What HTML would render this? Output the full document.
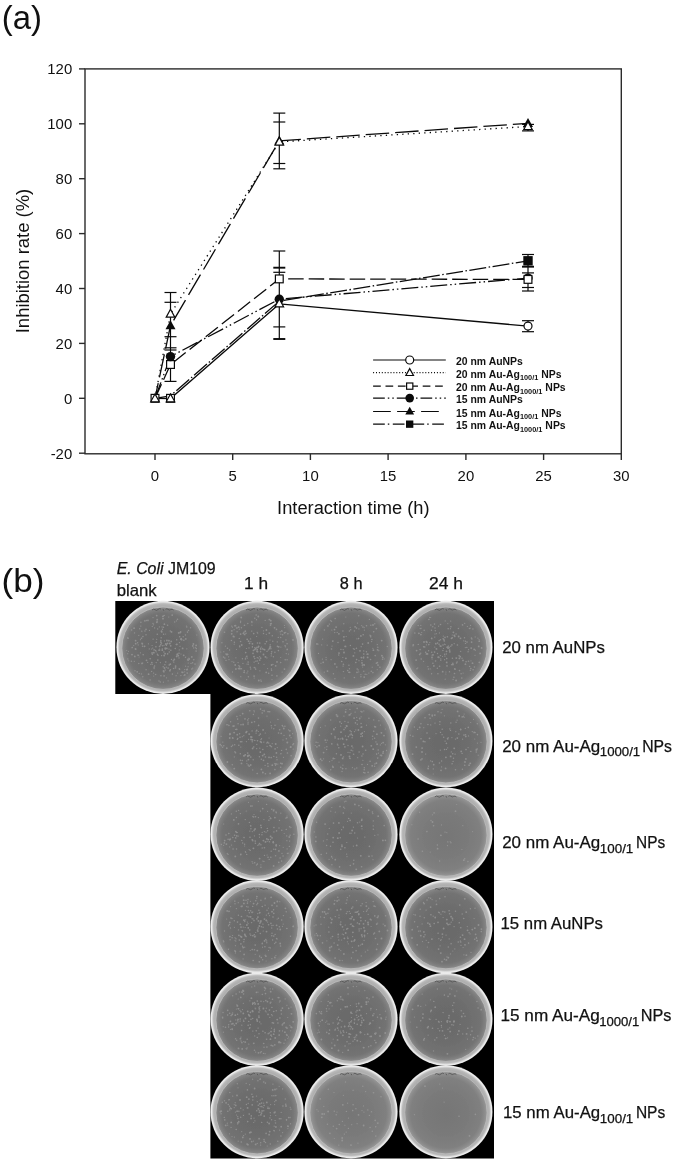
<!DOCTYPE html>
<html lang="en"><head><meta charset="utf-8"><title>Figure</title>
<style>html,body{margin:0;padding:0;background:#fff}svg{display:block}</style></head>
<body>
<svg width="675" height="1163" viewBox="0 0 675 1163">
<defs>
<radialGradient id="agar" cx="50%" cy="50%" r="50%" fx="50%" fy="52%"><stop offset="0" stop-color="#696969"/><stop offset="0.55" stop-color="#6d6d6d"/><stop offset="0.8544" stop-color="#737373"/><stop offset="0.9272" stop-color="#7d7d7d"/><stop offset="0.9757" stop-color="#878787"/><stop offset="1.0000" stop-color="#8a8a8a"/></radialGradient>
<radialGradient id="agarL" cx="50%" cy="50%" r="50%" fx="50%" fy="52%"><stop offset="0" stop-color="#767676"/><stop offset="0.55" stop-color="#7a7a7a"/><stop offset="0.8544" stop-color="#808080"/><stop offset="0.9272" stop-color="#8a8a8a"/><stop offset="0.9757" stop-color="#949494"/><stop offset="1.0000" stop-color="#979797"/></radialGradient>
<radialGradient id="rim" cx="50%" cy="50%" r="50%"><stop offset="0" stop-color="#a6a6a6"/><stop offset="0.8391" stop-color="#a8a8a8"/><stop offset="0.9013" stop-color="#b0b0b0"/><stop offset="0.9356" stop-color="#b9b9b9"/><stop offset="0.9571" stop-color="#d4d4d4"/><stop offset="0.9785" stop-color="#eeeeee"/><stop offset="1.0000" stop-color="#e4e4e4"/></radialGradient>
<filter id="bl" x="-5%" y="-5%" width="110%" height="110%"><feGaussianBlur stdDeviation="0.45"/></filter>
<filter id="bl2" x="-5%" y="-5%" width="110%" height="110%"><feGaussianBlur stdDeviation="0.65"/></filter>
</defs>
<rect width="675" height="1163" fill="#fff"/>
<text x="1.7" y="28.7" font-family="Liberation Sans, DejaVu Sans, sans-serif" font-size="32.5" textLength="40.2" lengthAdjust="spacingAndGlyphs" fill="#111">(a)</text>
<text x="1.6" y="592.3" font-family="Liberation Sans, DejaVu Sans, sans-serif" font-size="33.5" textLength="43" lengthAdjust="spacingAndGlyphs" fill="#111">(b)</text>
<rect x="85.0" y="68.9" width="536.3" height="384.9" fill="none" stroke="#2b2b2b" stroke-width="1.4"/>
<line x1="79.0" y1="453.2" x2="85.0" y2="453.2" stroke="#2b2b2b" stroke-width="1.4"/>
<text x="72.2" y="458.5" font-family="Liberation Sans, DejaVu Sans, sans-serif" font-size="14.9" text-anchor="end" fill="#111">-20</text>
<line x1="79.0" y1="398.3" x2="85.0" y2="398.3" stroke="#2b2b2b" stroke-width="1.4"/>
<text x="72.2" y="403.6" font-family="Liberation Sans, DejaVu Sans, sans-serif" font-size="14.9" text-anchor="end" fill="#111">0</text>
<line x1="79.0" y1="343.4" x2="85.0" y2="343.4" stroke="#2b2b2b" stroke-width="1.4"/>
<text x="72.2" y="348.7" font-family="Liberation Sans, DejaVu Sans, sans-serif" font-size="14.9" text-anchor="end" fill="#111">20</text>
<line x1="79.0" y1="288.5" x2="85.0" y2="288.5" stroke="#2b2b2b" stroke-width="1.4"/>
<text x="72.2" y="293.8" font-family="Liberation Sans, DejaVu Sans, sans-serif" font-size="14.9" text-anchor="end" fill="#111">40</text>
<line x1="79.0" y1="233.6" x2="85.0" y2="233.6" stroke="#2b2b2b" stroke-width="1.4"/>
<text x="72.2" y="238.9" font-family="Liberation Sans, DejaVu Sans, sans-serif" font-size="14.9" text-anchor="end" fill="#111">60</text>
<line x1="79.0" y1="178.7" x2="85.0" y2="178.7" stroke="#2b2b2b" stroke-width="1.4"/>
<text x="72.2" y="184.0" font-family="Liberation Sans, DejaVu Sans, sans-serif" font-size="14.9" text-anchor="end" fill="#111">80</text>
<line x1="79.0" y1="123.8" x2="85.0" y2="123.8" stroke="#2b2b2b" stroke-width="1.4"/>
<text x="72.2" y="129.1" font-family="Liberation Sans, DejaVu Sans, sans-serif" font-size="14.9" text-anchor="end" fill="#111">100</text>
<line x1="79.0" y1="68.9" x2="85.0" y2="68.9" stroke="#2b2b2b" stroke-width="1.4"/>
<text x="72.2" y="74.2" font-family="Liberation Sans, DejaVu Sans, sans-serif" font-size="14.9" text-anchor="end" fill="#111">120</text>
<line x1="155.0" y1="453.8" x2="155.0" y2="460.0" stroke="#2b2b2b" stroke-width="1.4"/>
<text x="155.0" y="480.5" font-family="Liberation Sans, DejaVu Sans, sans-serif" font-size="14.9" text-anchor="middle" fill="#111">0</text>
<line x1="232.7" y1="453.8" x2="232.7" y2="460.0" stroke="#2b2b2b" stroke-width="1.4"/>
<text x="232.7" y="480.5" font-family="Liberation Sans, DejaVu Sans, sans-serif" font-size="14.9" text-anchor="middle" fill="#111">5</text>
<line x1="310.4" y1="453.8" x2="310.4" y2="460.0" stroke="#2b2b2b" stroke-width="1.4"/>
<text x="310.4" y="480.5" font-family="Liberation Sans, DejaVu Sans, sans-serif" font-size="14.9" text-anchor="middle" fill="#111">10</text>
<line x1="388.1" y1="453.8" x2="388.1" y2="460.0" stroke="#2b2b2b" stroke-width="1.4"/>
<text x="388.1" y="480.5" font-family="Liberation Sans, DejaVu Sans, sans-serif" font-size="14.9" text-anchor="middle" fill="#111">15</text>
<line x1="465.9" y1="453.8" x2="465.9" y2="460.0" stroke="#2b2b2b" stroke-width="1.4"/>
<text x="465.9" y="480.5" font-family="Liberation Sans, DejaVu Sans, sans-serif" font-size="14.9" text-anchor="middle" fill="#111">20</text>
<line x1="543.6" y1="453.8" x2="543.6" y2="460.0" stroke="#2b2b2b" stroke-width="1.4"/>
<text x="543.6" y="480.5" font-family="Liberation Sans, DejaVu Sans, sans-serif" font-size="14.9" text-anchor="middle" fill="#111">25</text>
<line x1="621.3" y1="453.8" x2="621.3" y2="460.0" stroke="#2b2b2b" stroke-width="1.4"/>
<text x="621.3" y="480.5" font-family="Liberation Sans, DejaVu Sans, sans-serif" font-size="14.9" text-anchor="middle" fill="#111">30</text>
<text x="353.3" y="514" font-family="Liberation Sans, DejaVu Sans, sans-serif" font-size="18" text-anchor="middle" textLength="152.5" lengthAdjust="spacingAndGlyphs" fill="#111">Interaction time (h)</text>
<text transform="translate(29.4,261) rotate(-90)" font-family="Liberation Sans, DejaVu Sans, sans-serif" font-size="18" text-anchor="middle" textLength="144.5" lengthAdjust="spacingAndGlyphs" fill="#111">Inhibition rate (%)</text>
<polyline points="155.0,398.3 170.5,398.6 279.3,303.9 528.0,326.1" fill="none" stroke="#0a0a0a" stroke-width="1.3"/>
<polyline points="155.0,398.3 170.5,314.0 279.3,141.9 528.0,126.5" fill="none" stroke="#0a0a0a" stroke-width="1.3" stroke-dasharray="1.3 4.2"/>
<polyline points="155.0,398.3 170.5,364.5 279.3,278.9 528.0,279.4" fill="none" stroke="#0a0a0a" stroke-width="1.3" stroke-dasharray="15.5 5"/>
<polyline points="155.0,398.3 170.5,356.6 279.3,299.2 528.0,278.1" fill="none" stroke="#0a0a0a" stroke-width="1.3" stroke-dasharray="17 3 1.5 3 1.5 3"/>
<polyline points="155.0,398.3 170.5,325.6 279.3,140.8 528.0,123.3" fill="none" stroke="#0a0a0a" stroke-width="1.3" stroke-dasharray="23.5 6" stroke-dashoffset="8.1"/>
<polyline points="155.0,398.3 170.5,395.8 279.3,301.1 528.0,260.8" fill="none" stroke="#0a0a0a" stroke-width="1.3" stroke-dasharray="17 2.5 1.5 2.5"/>
<line x1="170.5" y1="292.5" x2="170.5" y2="381.4" stroke="#0a0a0a" stroke-width="1.2"/>
<line x1="164.5" y1="292.5" x2="176.5" y2="292.5" stroke="#0a0a0a" stroke-width="1.2"/>
<line x1="164.5" y1="302.3" x2="176.5" y2="302.3" stroke="#0a0a0a" stroke-width="1.2"/>
<line x1="164.5" y1="336.7" x2="176.5" y2="336.7" stroke="#0a0a0a" stroke-width="1.2"/>
<line x1="164.5" y1="347.8" x2="176.5" y2="347.8" stroke="#0a0a0a" stroke-width="1.2"/>
<line x1="164.5" y1="350.0" x2="176.5" y2="350.0" stroke="#0a0a0a" stroke-width="1.2"/>
<line x1="164.5" y1="381.4" x2="176.5" y2="381.4" stroke="#0a0a0a" stroke-width="1.2"/>
<line x1="279.3" y1="113.1" x2="279.3" y2="168.8" stroke="#0a0a0a" stroke-width="1.2"/>
<line x1="273.3" y1="113.1" x2="285.3" y2="113.1" stroke="#0a0a0a" stroke-width="1.2"/>
<line x1="273.3" y1="122.0" x2="285.3" y2="122.0" stroke="#0a0a0a" stroke-width="1.2"/>
<line x1="273.3" y1="163.5" x2="285.3" y2="163.5" stroke="#0a0a0a" stroke-width="1.2"/>
<line x1="273.3" y1="168.8" x2="285.3" y2="168.8" stroke="#0a0a0a" stroke-width="1.2"/>
<line x1="279.3" y1="251.0" x2="279.3" y2="339.0" stroke="#0a0a0a" stroke-width="1.2"/>
<line x1="273.3" y1="251.0" x2="285.3" y2="251.0" stroke="#0a0a0a" stroke-width="1.2"/>
<line x1="273.3" y1="267.7" x2="285.3" y2="267.7" stroke="#0a0a0a" stroke-width="1.9"/>
<line x1="273.3" y1="272.3" x2="285.3" y2="272.3" stroke="#0a0a0a" stroke-width="1.2"/>
<line x1="273.3" y1="326.9" x2="285.3" y2="326.9" stroke="#0a0a0a" stroke-width="1.2"/>
<line x1="273.3" y1="339.0" x2="285.3" y2="339.0" stroke="#0a0a0a" stroke-width="1.9"/>
<line x1="528.0" y1="124.4" x2="528.0" y2="130.9" stroke="#0a0a0a" stroke-width="1.2"/>
<line x1="522.0" y1="124.4" x2="534.0" y2="124.4" stroke="#0a0a0a" stroke-width="1.2"/>
<line x1="522.0" y1="130.9" x2="534.0" y2="130.9" stroke="#0a0a0a" stroke-width="1.2"/>
<line x1="528.0" y1="254.5" x2="528.0" y2="266.7" stroke="#0a0a0a" stroke-width="1.2"/>
<line x1="522.0" y1="254.5" x2="534.0" y2="254.5" stroke="#0a0a0a" stroke-width="1.2"/>
<line x1="522.0" y1="266.7" x2="534.0" y2="266.7" stroke="#0a0a0a" stroke-width="1.9"/>
<line x1="528.0" y1="272.9" x2="528.0" y2="291.0" stroke="#0a0a0a" stroke-width="1.2"/>
<line x1="522.0" y1="272.9" x2="534.0" y2="272.9" stroke="#0a0a0a" stroke-width="1.2"/>
<line x1="522.0" y1="287.5" x2="534.0" y2="287.5" stroke="#0a0a0a" stroke-width="1.2"/>
<line x1="522.0" y1="291.0" x2="534.0" y2="291.0" stroke="#0a0a0a" stroke-width="1.2"/>
<line x1="528.0" y1="266.7" x2="528.0" y2="272.9" stroke="#0a0a0a" stroke-width="1.2"/>
<line x1="528.0" y1="320.7" x2="528.0" y2="331.7" stroke="#0a0a0a" stroke-width="1.2"/>
<line x1="522.0" y1="320.7" x2="534.0" y2="320.7" stroke="#0a0a0a" stroke-width="1.2"/>
<line x1="522.0" y1="331.7" x2="534.0" y2="331.7" stroke="#0a0a0a" stroke-width="1.2"/>
<rect x="151.1" y="394.4" width="7.80" height="7.80" fill="#fff" stroke="#0a0a0a" stroke-width="1.2"/>
<path d="M155.0 393.9 L159.3 401.8 L150.7 401.8 Z" fill="#fff" stroke="#0a0a0a" stroke-width="1.2"/>
<rect x="166.6" y="394.4" width="7.80" height="7.80" fill="#fff" stroke="#0a0a0a" stroke-width="1.2"/>
<path d="M170.5 393.9 L174.8 401.8 L166.2 401.8 Z" fill="#fff" stroke="#0a0a0a" stroke-width="1.2"/>
<rect x="166.6" y="360.6" width="7.80" height="7.80" fill="#fff" stroke="#0a0a0a" stroke-width="1.2"/>
<circle cx="170.5" cy="356.6" r="4.7" fill="#0a0a0a"/>
<path d="M170.5 320.2 L175.5 329.2 L165.5 329.2 Z" fill="#0a0a0a"/>
<path d="M170.5 309.3 L174.8 317.2 L166.2 317.2 Z" fill="#fff" stroke="#0a0a0a" stroke-width="1.2"/>
<rect x="275.4" y="275.0" width="7.80" height="7.80" fill="#fff" stroke="#0a0a0a" stroke-width="1.2"/>
<circle cx="279.3" cy="299.2" r="4.7" fill="#0a0a0a"/>
<path d="M279.3 298.9 L283.6 306.8 L275.0 306.8 Z" fill="#fff" stroke="#0a0a0a" stroke-width="1.2"/>
<path d="M279.3 135.4 L284.3 144.4 L274.3 144.4 Z" fill="#0a0a0a"/>
<path d="M279.3 137.2 L283.6 145.1 L275.0 145.1 Z" fill="#fff" stroke="#0a0a0a" stroke-width="1.2"/>
<circle cx="528.0" cy="278.1" r="4.7" fill="#0a0a0a"/>
<rect x="524.1" y="275.5" width="7.80" height="7.80" fill="#fff" stroke="#0a0a0a" stroke-width="1.2"/>
<rect x="523.3" y="256.1" width="9.4" height="9.4" fill="#0a0a0a"/>
<circle cx="528.0" cy="326.1" r="4.00" fill="#fff" stroke="#0a0a0a" stroke-width="1.2"/>
<path d="M528.0 117.9 L533.0 126.9 L523.0 126.9 Z" fill="#0a0a0a"/>
<path d="M528.0 121.8 L532.3 129.7 L523.7 129.7 Z" fill="#fff" stroke="#0a0a0a" stroke-width="1.2"/>
<line x1="373.1" y1="360.0" x2="445.8" y2="360.0" stroke="#0a0a0a" stroke-width="1.2"/>
<circle cx="409.7" cy="360.0" r="4.00" fill="#fff" stroke="#0a0a0a" stroke-width="1.2"/>
<text transform="translate(456.0,365.0) scale(0.958,1)" font-family="Liberation Sans, DejaVu Sans, sans-serif" font-size="10.9" font-weight="bold" fill="#111">20 nm AuNPs</text>
<line x1="373.1" y1="372.7" x2="445.8" y2="372.7" stroke="#0a0a0a" stroke-width="1.2" stroke-dasharray="1.0 1.9"/>
<path d="M409.7 368.6 L413.5 375.5 L405.9 375.5 Z" fill="#fff" stroke="#0a0a0a" stroke-width="1.2"/>
<text transform="translate(456.0,377.7) scale(0.958,1)" font-family="Liberation Sans, DejaVu Sans, sans-serif" font-size="10.9" font-weight="bold" fill="#111">20 nm Au-Ag<tspan font-size="7.7" dy="2.4">100/1</tspan><tspan dy="-2.4"> NPs</tspan></text>
<line x1="373.1" y1="386.1" x2="445.8" y2="386.1" stroke="#0a0a0a" stroke-width="1.2" stroke-dasharray="7.7 4.7"/>
<rect x="406.6" y="383.0" width="6.24" height="6.24" fill="#fff" stroke="#0a0a0a" stroke-width="1.2"/>
<text transform="translate(456.0,391.1) scale(0.958,1)" font-family="Liberation Sans, DejaVu Sans, sans-serif" font-size="10.9" font-weight="bold" fill="#111">20 nm Au-Ag<tspan font-size="7.7" dy="2.4">1000/1</tspan><tspan dy="-2.4"> NPs</tspan></text>
<line x1="373.1" y1="398.1" x2="445.8" y2="398.1" stroke="#0a0a0a" stroke-width="1.2" stroke-dasharray="11.7 3 1.5 3 1.5 3"/>
<circle cx="409.7" cy="398.1" r="4.324000000000001" fill="#0a0a0a"/>
<text transform="translate(456.0,403.1) scale(0.958,1)" font-family="Liberation Sans, DejaVu Sans, sans-serif" font-size="10.9" font-weight="bold" fill="#111">15 nm AuNPs</text>
<line x1="373.1" y1="411.5" x2="439.5" y2="411.5" stroke="#0a0a0a" stroke-width="1.2" stroke-dasharray="17.7 6.3"/>
<path d="M409.7 406.8 L414.1 414.6 L405.3 414.6 Z" fill="#0a0a0a"/>
<text transform="translate(456.0,416.5) scale(0.958,1)" font-family="Liberation Sans, DejaVu Sans, sans-serif" font-size="10.9" font-weight="bold" fill="#111">15 nm Au-Ag<tspan font-size="7.7" dy="2.4">100/1</tspan><tspan dy="-2.4"> NPs</tspan></text>
<line x1="373.1" y1="424.2" x2="444.0" y2="424.2" stroke="#0a0a0a" stroke-width="1.2" stroke-dasharray="11.7 3 1.5 3.5"/>
<rect x="406.0" y="420.5" width="7.332000000000001" height="7.332000000000001" fill="#0a0a0a"/>
<text transform="translate(456.0,429.2) scale(0.958,1)" font-family="Liberation Sans, DejaVu Sans, sans-serif" font-size="10.9" font-weight="bold" fill="#111">15 nm Au-Ag<tspan font-size="7.7" dy="2.4">1000/1</tspan><tspan dy="-2.4"> NPs</tspan></text>
<path d="M115.3 601.0 H494.0 V1158.6 H210.4 V694.1 H115.3 Z" fill="#000"/>
<g filter="url(#bl2)">
<circle cx="163.0" cy="647.3" r="46.6" fill="url(#rim)"/>
<circle cx="163.0" cy="648.2" r="41.2" fill="url(#agar)" stroke="#bdbdbd" stroke-width="0.8"/>
<g fill="#a0a0a0" opacity="0.68" filter="url(#bl)"><circle cx="173.8" cy="662.2" r="0.6"/><circle cx="155.9" cy="646.8" r="0.8"/><circle cx="185.4" cy="635.0" r="0.7"/><circle cx="158.6" cy="650.1" r="0.6"/><circle cx="148.4" cy="643.8" r="0.6"/><circle cx="186.5" cy="669.8" r="0.7"/><circle cx="138.8" cy="635.4" r="0.6"/><circle cx="142.0" cy="663.1" r="0.7"/><circle cx="166.5" cy="644.3" r="0.8"/><circle cx="142.1" cy="643.2" r="0.8"/><circle cx="152.3" cy="626.4" r="0.6"/><circle cx="146.0" cy="629.4" r="0.8"/><circle cx="160.9" cy="640.4" r="0.6"/><circle cx="135.5" cy="648.9" r="0.9"/><circle cx="132.0" cy="654.6" r="0.9"/><circle cx="163.2" cy="666.7" r="0.7"/><circle cx="164.1" cy="675.9" r="0.8"/><circle cx="180.6" cy="631.9" r="0.9"/><circle cx="180.0" cy="646.3" r="0.6"/><circle cx="175.5" cy="667.9" r="0.8"/><circle cx="151.5" cy="649.0" r="0.6"/><circle cx="195.0" cy="664.1" r="0.8"/><circle cx="151.8" cy="662.6" r="0.9"/><circle cx="137.5" cy="655.0" r="0.6"/><circle cx="127.7" cy="653.7" r="0.6"/><circle cx="161.0" cy="642.5" r="0.9"/><circle cx="150.2" cy="658.7" r="0.8"/><circle cx="159.6" cy="649.1" r="0.7"/><circle cx="135.7" cy="649.3" r="0.7"/><circle cx="184.7" cy="669.6" r="0.7"/><circle cx="181.2" cy="638.6" r="0.9"/><circle cx="155.6" cy="650.6" r="0.8"/><circle cx="177.5" cy="619.3" r="0.8"/><circle cx="192.8" cy="645.9" r="0.9"/><circle cx="184.1" cy="675.6" r="0.7"/><circle cx="156.7" cy="639.3" r="0.6"/><circle cx="142.9" cy="636.6" r="0.8"/><circle cx="173.3" cy="660.8" r="0.8"/><circle cx="151.6" cy="671.4" r="0.7"/><circle cx="133.7" cy="645.6" r="0.6"/><circle cx="178.7" cy="632.9" r="0.9"/><circle cx="146.5" cy="660.3" r="0.9"/><circle cx="188.9" cy="658.2" r="0.6"/><circle cx="128.8" cy="660.8" r="0.6"/><circle cx="181.0" cy="654.0" r="0.6"/><circle cx="137.6" cy="642.8" r="0.8"/><circle cx="187.8" cy="659.2" r="0.7"/><circle cx="179.3" cy="668.8" r="0.8"/><circle cx="134.1" cy="628.2" r="0.9"/><circle cx="168.9" cy="640.7" r="0.9"/><circle cx="154.1" cy="668.6" r="0.7"/><circle cx="158.0" cy="655.3" r="0.8"/><circle cx="154.6" cy="627.9" r="0.6"/><circle cx="176.3" cy="644.5" r="0.8"/><circle cx="152.1" cy="645.5" r="0.6"/><circle cx="153.7" cy="676.0" r="0.6"/><circle cx="160.9" cy="675.8" r="0.8"/><circle cx="141.5" cy="673.9" r="0.7"/><circle cx="167.6" cy="625.3" r="0.8"/><circle cx="141.8" cy="631.3" r="0.7"/><circle cx="176.5" cy="620.9" r="0.7"/><circle cx="149.3" cy="648.9" r="0.6"/><circle cx="172.2" cy="615.1" r="0.9"/><circle cx="157.3" cy="634.3" r="0.8"/><circle cx="183.8" cy="640.2" r="0.8"/><circle cx="139.2" cy="673.5" r="0.7"/><circle cx="154.1" cy="649.9" r="0.8"/><circle cx="153.1" cy="639.2" r="0.6"/><circle cx="149.5" cy="630.4" r="0.6"/><circle cx="187.2" cy="669.4" r="0.9"/><circle cx="163.0" cy="618.7" r="0.9"/><circle cx="131.4" cy="661.2" r="0.8"/><circle cx="170.7" cy="645.8" r="0.9"/><circle cx="162.0" cy="626.9" r="0.6"/><circle cx="177.6" cy="673.1" r="0.7"/><circle cx="159.6" cy="646.3" r="0.9"/><circle cx="182.7" cy="672.3" r="0.9"/><circle cx="146.1" cy="669.8" r="0.7"/><circle cx="164.0" cy="645.3" r="0.6"/><circle cx="185.8" cy="638.9" r="0.9"/><circle cx="175.5" cy="680.5" r="0.7"/><circle cx="163.9" cy="652.0" r="0.7"/><circle cx="148.6" cy="674.2" r="0.9"/><circle cx="193.8" cy="659.8" r="0.8"/><circle cx="144.9" cy="620.8" r="0.9"/><circle cx="186.8" cy="627.0" r="0.7"/><circle cx="138.2" cy="644.9" r="0.6"/><circle cx="168.7" cy="617.0" r="0.6"/><circle cx="181.7" cy="672.1" r="0.7"/><circle cx="159.4" cy="626.9" r="0.6"/><circle cx="144.6" cy="646.3" r="0.9"/><circle cx="188.1" cy="666.7" r="0.6"/><circle cx="160.4" cy="662.6" r="0.6"/><circle cx="140.4" cy="639.7" r="0.6"/><circle cx="146.0" cy="634.8" r="0.7"/><circle cx="134.8" cy="656.4" r="0.9"/><circle cx="163.4" cy="671.0" r="0.8"/><circle cx="190.6" cy="627.8" r="0.7"/><circle cx="184.7" cy="671.8" r="0.6"/><circle cx="154.6" cy="666.0" r="0.7"/><circle cx="168.1" cy="668.1" r="0.8"/><circle cx="188.5" cy="630.4" r="0.7"/><circle cx="140.9" cy="622.3" r="0.8"/><circle cx="171.2" cy="641.4" r="0.9"/><circle cx="176.9" cy="644.3" r="0.9"/><circle cx="180.9" cy="675.6" r="0.7"/><circle cx="152.1" cy="652.9" r="0.9"/><circle cx="169.3" cy="664.9" r="0.8"/><circle cx="157.4" cy="654.2" r="0.8"/><circle cx="139.1" cy="657.0" r="0.6"/><circle cx="142.6" cy="646.2" r="0.8"/><circle cx="185.5" cy="657.3" r="0.7"/><circle cx="191.8" cy="669.0" r="0.8"/><circle cx="176.7" cy="639.7" r="0.7"/><circle cx="174.3" cy="659.5" r="0.9"/><circle cx="148.0" cy="620.4" r="0.8"/><circle cx="142.3" cy="643.8" r="0.9"/><circle cx="188.2" cy="663.0" r="0.6"/><circle cx="176.1" cy="675.7" r="0.6"/><circle cx="179.3" cy="649.9" r="0.6"/><circle cx="191.0" cy="663.4" r="0.7"/><circle cx="167.5" cy="643.4" r="0.9"/><circle cx="165.3" cy="648.2" r="0.9"/><circle cx="159.0" cy="681.0" r="0.7"/><circle cx="161.7" cy="643.5" r="0.6"/><circle cx="160.3" cy="682.0" r="0.7"/><circle cx="157.8" cy="660.1" r="0.8"/><circle cx="169.9" cy="670.7" r="0.9"/><circle cx="173.6" cy="668.5" r="0.8"/><circle cx="195.4" cy="647.3" r="0.6"/><circle cx="162.7" cy="645.7" r="0.7"/><circle cx="163.7" cy="671.1" r="0.9"/><circle cx="166.9" cy="640.5" r="0.9"/><circle cx="135.6" cy="640.7" r="0.9"/><circle cx="150.1" cy="680.0" r="0.7"/><circle cx="142.8" cy="676.8" r="0.7"/><circle cx="150.8" cy="664.4" r="0.6"/><circle cx="196.1" cy="651.1" r="0.8"/><circle cx="183.7" cy="655.3" r="0.9"/><circle cx="146.7" cy="620.5" r="0.8"/><circle cx="153.5" cy="624.8" r="0.6"/><circle cx="175.6" cy="666.1" r="0.9"/><circle cx="162.3" cy="649.1" r="0.8"/><circle cx="128.1" cy="638.4" r="0.7"/><circle cx="166.4" cy="645.4" r="0.7"/><circle cx="182.6" cy="648.4" r="0.9"/><circle cx="161.6" cy="655.6" r="0.7"/><circle cx="165.6" cy="634.0" r="0.6"/><circle cx="176.7" cy="656.4" r="0.9"/><circle cx="142.0" cy="663.6" r="0.8"/><circle cx="164.9" cy="664.7" r="0.7"/><circle cx="156.9" cy="622.3" r="0.9"/><circle cx="157.2" cy="619.6" r="0.9"/><circle cx="161.2" cy="637.8" r="0.7"/><circle cx="165.7" cy="644.0" r="0.9"/><circle cx="174.7" cy="622.0" r="0.7"/><circle cx="163.6" cy="615.8" r="0.6"/><circle cx="134.5" cy="632.9" r="0.7"/><circle cx="170.8" cy="650.2" r="0.8"/><circle cx="137.2" cy="671.8" r="0.9"/><circle cx="145.0" cy="631.0" r="0.7"/><circle cx="186.8" cy="648.8" r="0.6"/><circle cx="132.0" cy="647.8" r="0.6"/><circle cx="189.2" cy="659.0" r="0.9"/><circle cx="177.1" cy="654.9" r="0.8"/><circle cx="163.6" cy="634.3" r="0.7"/><circle cx="193.4" cy="644.0" r="0.9"/><circle cx="192.6" cy="662.7" r="0.8"/><circle cx="139.7" cy="628.7" r="0.7"/><circle cx="167.6" cy="653.9" r="0.8"/><circle cx="153.0" cy="623.5" r="0.7"/><circle cx="165.3" cy="649.1" r="0.8"/><circle cx="192.6" cy="668.1" r="0.7"/><circle cx="155.6" cy="674.5" r="0.8"/><circle cx="140.4" cy="652.8" r="0.6"/><circle cx="127.8" cy="637.9" r="0.8"/><circle cx="196.7" cy="635.0" r="0.6"/><circle cx="178.3" cy="655.7" r="0.9"/><circle cx="135.0" cy="670.7" r="0.7"/><circle cx="169.3" cy="652.0" r="0.8"/><circle cx="187.2" cy="673.1" r="0.8"/><circle cx="153.0" cy="617.6" r="0.7"/><circle cx="180.1" cy="632.6" r="0.9"/><circle cx="166.8" cy="648.4" r="0.9"/><circle cx="138.8" cy="663.5" r="0.7"/><circle cx="147.7" cy="662.4" r="0.6"/><circle cx="196.3" cy="648.6" r="0.8"/><circle cx="187.3" cy="669.5" r="0.7"/><circle cx="187.5" cy="632.1" r="0.8"/><circle cx="177.5" cy="654.1" r="0.9"/><circle cx="131.6" cy="630.0" r="0.8"/><circle cx="164.3" cy="615.4" r="0.6"/><circle cx="179.0" cy="653.3" r="0.8"/><circle cx="179.6" cy="669.3" r="0.8"/><circle cx="154.1" cy="667.2" r="0.8"/><circle cx="134.3" cy="661.3" r="0.6"/><circle cx="140.8" cy="626.1" r="0.7"/><circle cx="191.8" cy="656.9" r="0.9"/><circle cx="163.4" cy="627.2" r="0.8"/><circle cx="183.2" cy="636.7" r="0.7"/><circle cx="152.3" cy="654.2" r="0.8"/><circle cx="161.8" cy="632.1" r="0.8"/><circle cx="164.5" cy="668.0" r="0.9"/><circle cx="142.7" cy="663.1" r="0.7"/><circle cx="188.1" cy="660.2" r="0.9"/><circle cx="138.5" cy="655.2" r="0.8"/><circle cx="127.8" cy="658.9" r="0.7"/><circle cx="163.9" cy="672.0" r="0.7"/><circle cx="179.0" cy="657.9" r="0.7"/><circle cx="170.3" cy="631.0" r="0.7"/><circle cx="162.9" cy="616.3" r="0.9"/><circle cx="162.5" cy="629.3" r="0.7"/><circle cx="152.3" cy="664.3" r="0.6"/><circle cx="141.5" cy="638.2" r="0.8"/><circle cx="152.7" cy="648.1" r="0.7"/><circle cx="169.8" cy="643.5" r="0.9"/><circle cx="143.2" cy="654.8" r="0.8"/><circle cx="186.4" cy="626.0" r="0.6"/><circle cx="153.8" cy="652.7" r="0.9"/><circle cx="126.7" cy="650.5" r="0.6"/><circle cx="181.6" cy="639.7" r="0.9"/><circle cx="163.4" cy="682.2" r="0.6"/><circle cx="171.5" cy="659.4" r="0.6"/><circle cx="156.7" cy="615.6" r="0.9"/><circle cx="164.4" cy="640.9" r="0.6"/><circle cx="166.5" cy="677.8" r="0.6"/><circle cx="153.6" cy="673.1" r="0.7"/><circle cx="135.7" cy="643.7" r="0.9"/><circle cx="185.6" cy="666.2" r="0.6"/><circle cx="179.5" cy="642.6" r="0.7"/><circle cx="166.4" cy="667.2" r="0.6"/><circle cx="162.3" cy="650.2" r="0.9"/><circle cx="156.2" cy="662.6" r="0.7"/><circle cx="165.2" cy="670.0" r="0.7"/><circle cx="159.5" cy="650.3" r="0.8"/><circle cx="165.1" cy="653.7" r="0.9"/><circle cx="164.1" cy="655.5" r="0.9"/><circle cx="168.1" cy="680.8" r="0.6"/><circle cx="157.1" cy="621.3" r="0.8"/><circle cx="172.4" cy="674.1" r="0.8"/><circle cx="132.3" cy="647.4" r="0.7"/><circle cx="170.4" cy="669.6" r="0.7"/><circle cx="165.7" cy="662.0" r="0.8"/><circle cx="156.3" cy="642.2" r="0.7"/><circle cx="128.5" cy="651.3" r="0.6"/><circle cx="184.8" cy="674.9" r="0.9"/><circle cx="169.0" cy="649.1" r="0.7"/><circle cx="157.6" cy="628.9" r="0.7"/><circle cx="179.7" cy="636.7" r="0.8"/><circle cx="193.6" cy="647.9" r="0.7"/><circle cx="170.3" cy="664.2" r="0.9"/><circle cx="160.8" cy="644.8" r="0.9"/><circle cx="196.1" cy="645.4" r="0.9"/><circle cx="175.3" cy="648.5" r="0.8"/><circle cx="156.2" cy="651.8" r="0.6"/><circle cx="164.4" cy="624.2" r="0.9"/><circle cx="171.5" cy="631.9" r="0.9"/><circle cx="160.7" cy="641.0" r="0.7"/><circle cx="180.6" cy="639.2" r="0.7"/><circle cx="161.5" cy="631.2" r="0.9"/></g>
<path d="M152.0 610.0 q1.5 -1.6 3 -0.3 t3 -0.2 t3 -0.4 M163.0 609.1 l0.8 1.6 M165.5 609.4 q1.5 -1.2 2.6 0 t2.6 0.2 t2.8 0.5" fill="none" stroke="#474747" stroke-width="0.8" opacity="0.85"/>
</g>
<g filter="url(#bl2)">
<circle cx="257.1" cy="647.3" r="46.6" fill="url(#rim)"/>
<circle cx="257.1" cy="648.2" r="41.2" fill="url(#agar)" stroke="#bdbdbd" stroke-width="0.8"/>
<g fill="#a0a0a0" opacity="0.68" filter="url(#bl)"><circle cx="253.5" cy="650.4" r="0.9"/><circle cx="262.1" cy="649.3" r="0.6"/><circle cx="287.1" cy="659.7" r="0.7"/><circle cx="282.0" cy="631.2" r="0.8"/><circle cx="247.0" cy="664.1" r="0.6"/><circle cx="253.7" cy="633.6" r="0.8"/><circle cx="246.7" cy="679.7" r="0.6"/><circle cx="257.5" cy="651.7" r="0.9"/><circle cx="227.6" cy="654.3" r="0.9"/><circle cx="284.5" cy="632.9" r="0.9"/><circle cx="246.5" cy="648.5" r="0.6"/><circle cx="254.8" cy="618.3" r="0.7"/><circle cx="244.3" cy="670.7" r="0.8"/><circle cx="261.9" cy="627.4" r="0.6"/><circle cx="238.1" cy="662.6" r="0.7"/><circle cx="271.4" cy="654.0" r="0.6"/><circle cx="234.4" cy="642.2" r="0.7"/><circle cx="284.4" cy="625.5" r="0.6"/><circle cx="271.2" cy="655.9" r="0.6"/><circle cx="278.7" cy="646.8" r="0.9"/><circle cx="265.5" cy="656.9" r="0.9"/><circle cx="244.4" cy="625.5" r="0.6"/><circle cx="248.4" cy="676.8" r="0.8"/><circle cx="238.9" cy="665.7" r="0.8"/><circle cx="257.3" cy="661.0" r="0.7"/><circle cx="254.1" cy="662.1" r="0.7"/><circle cx="242.4" cy="658.8" r="0.7"/><circle cx="259.9" cy="670.8" r="0.6"/><circle cx="285.5" cy="646.8" r="0.6"/><circle cx="258.1" cy="647.5" r="0.7"/><circle cx="285.7" cy="632.4" r="0.6"/><circle cx="260.8" cy="679.9" r="0.6"/><circle cx="270.1" cy="646.2" r="0.7"/><circle cx="232.5" cy="672.0" r="0.7"/><circle cx="255.7" cy="669.3" r="0.6"/><circle cx="249.5" cy="643.4" r="0.8"/><circle cx="247.3" cy="658.1" r="0.7"/><circle cx="262.5" cy="648.3" r="0.6"/><circle cx="241.4" cy="627.8" r="0.7"/><circle cx="270.8" cy="620.7" r="0.9"/><circle cx="268.7" cy="673.2" r="0.8"/><circle cx="264.6" cy="649.7" r="0.9"/><circle cx="280.7" cy="657.5" r="0.6"/><circle cx="240.5" cy="622.6" r="0.7"/><circle cx="280.7" cy="662.5" r="0.7"/><circle cx="254.3" cy="667.6" r="0.8"/><circle cx="232.0" cy="661.6" r="0.6"/><circle cx="240.6" cy="641.5" r="0.8"/><circle cx="278.4" cy="650.6" r="0.8"/><circle cx="235.2" cy="665.0" r="0.9"/><circle cx="270.9" cy="648.8" r="0.7"/><circle cx="266.4" cy="630.0" r="0.9"/><circle cx="239.7" cy="666.7" r="0.7"/><circle cx="267.0" cy="651.4" r="0.7"/><circle cx="280.8" cy="634.2" r="0.6"/><circle cx="280.7" cy="637.5" r="0.7"/><circle cx="254.8" cy="658.5" r="0.7"/><circle cx="284.5" cy="669.1" r="0.9"/><circle cx="265.2" cy="620.4" r="0.7"/><circle cx="266.3" cy="634.3" r="0.6"/><circle cx="220.8" cy="652.0" r="0.6"/><circle cx="239.3" cy="629.2" r="0.6"/><circle cx="231.7" cy="626.1" r="0.7"/><circle cx="274.6" cy="627.8" r="0.9"/><circle cx="266.2" cy="672.4" r="0.9"/><circle cx="259.7" cy="660.1" r="0.9"/><circle cx="276.9" cy="675.9" r="0.8"/><circle cx="257.3" cy="657.7" r="0.7"/><circle cx="252.4" cy="646.5" r="0.6"/><circle cx="244.1" cy="672.3" r="0.9"/><circle cx="231.4" cy="640.5" r="0.8"/><circle cx="247.0" cy="672.9" r="0.7"/><circle cx="245.3" cy="631.2" r="0.9"/><circle cx="267.6" cy="668.6" r="0.6"/><circle cx="229.6" cy="650.0" r="0.7"/><circle cx="240.6" cy="634.1" r="0.9"/><circle cx="269.4" cy="619.6" r="0.9"/><circle cx="263.5" cy="654.5" r="0.9"/><circle cx="263.5" cy="630.8" r="0.6"/><circle cx="260.6" cy="651.8" r="0.8"/><circle cx="225.4" cy="646.2" r="0.6"/><circle cx="281.7" cy="630.6" r="0.7"/><circle cx="260.6" cy="649.7" r="0.6"/><circle cx="270.4" cy="646.9" r="0.9"/><circle cx="263.5" cy="633.5" r="0.7"/><circle cx="251.8" cy="621.4" r="0.7"/><circle cx="253.0" cy="653.4" r="0.8"/><circle cx="266.5" cy="641.6" r="0.8"/><circle cx="223.5" cy="657.1" r="0.8"/><circle cx="278.3" cy="637.4" r="0.7"/><circle cx="237.1" cy="631.7" r="0.7"/><circle cx="274.9" cy="652.2" r="0.7"/><circle cx="243.3" cy="633.4" r="0.8"/><circle cx="280.2" cy="631.7" r="0.7"/><circle cx="254.2" cy="678.0" r="0.6"/><circle cx="239.3" cy="668.4" r="0.9"/><circle cx="234.5" cy="636.8" r="0.6"/><circle cx="241.7" cy="645.0" r="0.9"/><circle cx="235.9" cy="669.0" r="0.9"/><circle cx="224.5" cy="632.3" r="0.8"/><circle cx="273.4" cy="656.8" r="0.7"/><circle cx="256.6" cy="636.5" r="0.6"/><circle cx="239.7" cy="646.7" r="0.8"/><circle cx="285.1" cy="645.7" r="0.8"/><circle cx="256.5" cy="619.8" r="0.7"/><circle cx="248.6" cy="641.2" r="0.9"/><circle cx="242.9" cy="663.4" r="0.6"/><circle cx="258.6" cy="658.0" r="0.6"/><circle cx="260.6" cy="648.4" r="0.8"/><circle cx="239.6" cy="645.9" r="0.7"/><circle cx="250.3" cy="667.2" r="0.7"/><circle cx="247.2" cy="639.3" r="0.9"/><circle cx="268.9" cy="649.3" r="0.7"/><circle cx="228.6" cy="656.8" r="0.6"/><circle cx="276.5" cy="629.4" r="0.8"/><circle cx="255.2" cy="667.8" r="0.6"/><circle cx="259.8" cy="643.1" r="0.8"/><circle cx="233.4" cy="636.5" r="0.9"/><circle cx="270.0" cy="640.0" r="0.6"/><circle cx="263.6" cy="649.3" r="0.7"/><circle cx="271.3" cy="653.4" r="0.6"/><circle cx="254.8" cy="647.6" r="0.7"/><circle cx="260.6" cy="658.1" r="0.9"/><circle cx="272.0" cy="675.3" r="0.8"/><circle cx="252.4" cy="643.8" r="0.9"/><circle cx="287.2" cy="649.4" r="0.9"/><circle cx="226.9" cy="654.5" r="0.9"/><circle cx="269.7" cy="648.1" r="0.8"/><circle cx="271.7" cy="651.7" r="0.8"/><circle cx="287.9" cy="633.7" r="0.8"/><circle cx="254.1" cy="676.1" r="0.9"/><circle cx="282.6" cy="634.7" r="0.8"/><circle cx="272.8" cy="641.3" r="0.7"/><circle cx="249.0" cy="647.9" r="0.7"/><circle cx="258.5" cy="663.2" r="0.7"/><circle cx="256.2" cy="615.0" r="0.8"/><circle cx="246.9" cy="656.3" r="0.7"/><circle cx="269.3" cy="633.1" r="0.9"/><circle cx="234.2" cy="644.2" r="0.6"/><circle cx="226.0" cy="660.4" r="0.7"/><circle cx="247.8" cy="671.1" r="0.7"/><circle cx="239.3" cy="638.4" r="0.7"/><circle cx="268.1" cy="650.1" r="0.6"/><circle cx="271.6" cy="670.2" r="0.7"/><circle cx="286.3" cy="653.6" r="0.7"/><circle cx="237.4" cy="627.8" r="0.6"/><circle cx="285.2" cy="659.8" r="0.8"/><circle cx="270.2" cy="644.7" r="0.6"/><circle cx="258.3" cy="616.5" r="0.9"/><circle cx="259.7" cy="656.6" r="0.6"/><circle cx="261.4" cy="647.0" r="0.6"/><circle cx="234.8" cy="625.8" r="0.8"/><circle cx="272.9" cy="664.4" r="0.7"/><circle cx="248.1" cy="662.1" r="0.8"/><circle cx="257.0" cy="651.4" r="0.8"/><circle cx="257.5" cy="643.0" r="0.8"/><circle cx="231.8" cy="630.8" r="0.9"/><circle cx="232.4" cy="627.2" r="0.6"/><circle cx="288.5" cy="654.1" r="0.6"/><circle cx="251.7" cy="631.1" r="0.7"/><circle cx="271.2" cy="623.6" r="0.8"/><circle cx="269.5" cy="648.4" r="0.7"/><circle cx="257.2" cy="632.3" r="0.6"/><circle cx="255.8" cy="648.4" r="0.9"/><circle cx="270.6" cy="623.8" r="0.9"/><circle cx="283.0" cy="641.7" r="0.8"/><circle cx="271.4" cy="668.9" r="0.7"/><circle cx="261.2" cy="681.2" r="0.7"/><circle cx="250.9" cy="641.7" r="0.6"/><circle cx="280.9" cy="647.1" r="0.6"/><circle cx="240.0" cy="668.7" r="0.9"/><circle cx="284.7" cy="627.6" r="0.6"/><circle cx="243.9" cy="632.3" r="0.8"/><circle cx="255.9" cy="661.2" r="0.7"/><circle cx="272.3" cy="635.7" r="0.7"/><circle cx="282.1" cy="672.1" r="0.6"/><circle cx="248.2" cy="664.2" r="0.7"/><circle cx="224.8" cy="658.0" r="0.8"/><circle cx="245.7" cy="652.6" r="0.8"/><circle cx="275.7" cy="665.8" r="0.9"/><circle cx="247.8" cy="623.5" r="0.7"/><circle cx="257.6" cy="633.1" r="0.7"/><circle cx="287.1" cy="643.8" r="0.8"/><circle cx="241.4" cy="668.8" r="0.7"/><circle cx="264.0" cy="664.3" r="0.6"/><circle cx="250.5" cy="638.9" r="0.7"/><circle cx="277.5" cy="646.4" r="0.8"/><circle cx="229.0" cy="659.6" r="0.7"/><circle cx="265.1" cy="643.7" r="0.8"/><circle cx="246.4" cy="656.7" r="0.6"/><circle cx="258.6" cy="646.5" r="0.9"/><circle cx="227.5" cy="648.2" r="0.8"/><circle cx="271.6" cy="665.0" r="0.9"/><circle cx="257.2" cy="649.7" r="0.9"/><circle cx="231.7" cy="633.8" r="0.9"/><circle cx="240.6" cy="621.2" r="0.7"/><circle cx="238.7" cy="627.2" r="0.9"/><circle cx="255.7" cy="668.8" r="0.6"/><circle cx="258.8" cy="680.5" r="0.9"/><circle cx="236.5" cy="628.0" r="0.8"/><circle cx="223.8" cy="651.7" r="0.6"/><circle cx="233.8" cy="662.2" r="0.7"/><circle cx="240.8" cy="676.7" r="0.6"/><circle cx="236.5" cy="649.5" r="0.6"/><circle cx="252.4" cy="647.1" r="0.7"/><circle cx="285.9" cy="639.9" r="0.7"/><circle cx="277.0" cy="661.9" r="0.9"/><circle cx="251.9" cy="625.2" r="0.6"/><circle cx="270.5" cy="625.3" r="0.8"/><circle cx="277.3" cy="641.9" r="0.7"/><circle cx="272.0" cy="679.7" r="0.6"/><circle cx="234.1" cy="629.7" r="0.6"/><circle cx="245.5" cy="658.2" r="0.6"/><circle cx="254.9" cy="649.5" r="0.9"/><circle cx="244.5" cy="625.3" r="0.8"/><circle cx="254.0" cy="656.6" r="0.9"/><circle cx="221.9" cy="642.7" r="0.7"/><circle cx="293.0" cy="639.9" r="0.9"/><circle cx="266.9" cy="657.9" r="0.6"/><circle cx="235.5" cy="625.7" r="0.9"/><circle cx="251.9" cy="622.5" r="0.7"/><circle cx="244.6" cy="634.4" r="0.9"/><circle cx="250.7" cy="669.0" r="0.7"/><circle cx="225.9" cy="654.0" r="0.7"/><circle cx="245.4" cy="659.0" r="0.8"/><circle cx="241.2" cy="617.5" r="0.9"/><circle cx="256.9" cy="647.4" r="0.8"/><circle cx="246.0" cy="633.2" r="0.8"/><circle cx="235.9" cy="657.8" r="0.6"/><circle cx="238.5" cy="668.6" r="0.8"/></g>
<path d="M246.1 610.0 q1.5 -1.6 3 -0.3 t3 -0.2 t3 -0.4 M257.1 609.1 l0.8 1.6 M259.6 609.4 q1.5 -1.2 2.6 0 t2.6 0.2 t2.8 0.5" fill="none" stroke="#474747" stroke-width="0.8" opacity="0.85"/>
</g>
<g filter="url(#bl2)">
<circle cx="351.0" cy="647.3" r="46.6" fill="url(#rim)"/>
<circle cx="351.0" cy="648.2" r="41.2" fill="url(#agar)" stroke="#bdbdbd" stroke-width="0.8"/>
<g fill="#a0a0a0" opacity="0.68" filter="url(#bl)"><circle cx="382.5" cy="659.3" r="0.8"/><circle cx="371.3" cy="671.2" r="0.8"/><circle cx="378.8" cy="650.7" r="0.6"/><circle cx="363.7" cy="654.0" r="0.8"/><circle cx="363.6" cy="657.0" r="0.7"/><circle cx="364.2" cy="677.1" r="0.9"/><circle cx="362.0" cy="662.9" r="0.9"/><circle cx="366.8" cy="674.3" r="0.6"/><circle cx="373.7" cy="631.7" r="0.8"/><circle cx="346.2" cy="636.5" r="0.6"/><circle cx="322.4" cy="659.1" r="0.6"/><circle cx="348.7" cy="672.2" r="0.7"/><circle cx="318.5" cy="653.4" r="0.6"/><circle cx="370.6" cy="636.0" r="0.9"/><circle cx="359.0" cy="660.7" r="0.6"/><circle cx="345.9" cy="658.3" r="0.9"/><circle cx="366.5" cy="625.7" r="0.8"/><circle cx="372.9" cy="648.3" r="0.6"/><circle cx="342.8" cy="657.5" r="0.6"/><circle cx="354.2" cy="649.2" r="0.8"/><circle cx="378.0" cy="665.1" r="0.9"/><circle cx="369.9" cy="635.1" r="0.6"/><circle cx="338.7" cy="655.0" r="0.7"/><circle cx="363.2" cy="634.8" r="0.8"/><circle cx="354.4" cy="630.9" r="0.7"/><circle cx="341.7" cy="661.5" r="0.8"/><circle cx="362.9" cy="627.1" r="0.8"/><circle cx="331.5" cy="649.0" r="0.8"/><circle cx="347.7" cy="670.6" r="0.8"/><circle cx="330.4" cy="620.3" r="0.6"/><circle cx="343.4" cy="664.2" r="0.8"/><circle cx="361.2" cy="646.7" r="0.6"/><circle cx="381.9" cy="655.7" r="0.9"/><circle cx="375.2" cy="655.6" r="0.8"/><circle cx="360.0" cy="650.8" r="0.9"/><circle cx="336.1" cy="627.1" r="0.9"/><circle cx="331.8" cy="630.0" r="0.6"/><circle cx="343.9" cy="636.8" r="0.9"/><circle cx="363.8" cy="671.2" r="0.7"/><circle cx="321.0" cy="663.3" r="0.6"/><circle cx="331.4" cy="621.2" r="0.8"/><circle cx="372.9" cy="672.6" r="0.8"/><circle cx="349.7" cy="672.4" r="0.8"/><circle cx="363.7" cy="650.9" r="0.6"/><circle cx="337.2" cy="632.4" r="0.6"/><circle cx="327.2" cy="645.2" r="0.6"/><circle cx="323.2" cy="662.3" r="0.9"/><circle cx="373.4" cy="650.2" r="0.9"/><circle cx="377.8" cy="647.2" r="0.7"/><circle cx="331.1" cy="659.7" r="0.6"/><circle cx="343.2" cy="649.6" r="0.7"/><circle cx="326.1" cy="659.7" r="0.6"/><circle cx="372.2" cy="667.2" r="0.6"/><circle cx="361.4" cy="657.6" r="0.9"/><circle cx="350.4" cy="645.5" r="0.7"/><circle cx="350.2" cy="627.3" r="0.6"/><circle cx="350.7" cy="629.8" r="0.7"/><circle cx="377.3" cy="662.6" r="0.9"/><circle cx="371.9" cy="639.5" r="0.8"/><circle cx="384.2" cy="658.9" r="0.6"/><circle cx="353.3" cy="648.5" r="0.6"/><circle cx="343.1" cy="666.1" r="0.7"/><circle cx="369.4" cy="619.4" r="0.6"/><circle cx="368.2" cy="643.0" r="0.9"/><circle cx="362.6" cy="667.0" r="0.6"/><circle cx="338.9" cy="633.8" r="0.9"/><circle cx="355.1" cy="626.8" r="0.9"/><circle cx="358.7" cy="615.8" r="0.8"/><circle cx="367.1" cy="654.3" r="0.8"/><circle cx="345.8" cy="617.0" r="0.6"/><circle cx="324.4" cy="630.0" r="0.8"/><circle cx="377.3" cy="644.6" r="0.7"/><circle cx="342.9" cy="631.0" r="0.7"/><circle cx="344.2" cy="677.9" r="0.6"/><circle cx="348.9" cy="665.3" r="0.7"/><circle cx="361.7" cy="625.6" r="0.6"/><circle cx="361.9" cy="660.6" r="0.7"/><circle cx="360.9" cy="635.9" r="0.9"/><circle cx="367.6" cy="657.4" r="0.9"/><circle cx="360.9" cy="676.8" r="0.7"/><circle cx="367.8" cy="654.2" r="0.9"/><circle cx="357.2" cy="669.0" r="0.8"/><circle cx="377.6" cy="649.8" r="0.9"/><circle cx="370.5" cy="659.5" r="0.8"/><circle cx="354.4" cy="677.5" r="0.8"/><circle cx="316.9" cy="643.9" r="0.9"/><circle cx="358.2" cy="669.9" r="0.7"/><circle cx="356.6" cy="659.6" r="0.8"/><circle cx="332.8" cy="641.1" r="0.9"/><circle cx="370.8" cy="625.2" r="0.7"/><circle cx="356.4" cy="648.2" r="0.8"/><circle cx="327.5" cy="671.1" r="0.9"/><circle cx="368.8" cy="673.0" r="0.6"/><circle cx="332.0" cy="646.1" r="0.6"/><circle cx="353.4" cy="655.9" r="0.9"/><circle cx="357.0" cy="672.4" r="0.8"/><circle cx="371.6" cy="641.6" r="0.7"/><circle cx="366.4" cy="651.8" r="0.7"/><circle cx="324.3" cy="672.1" r="0.6"/><circle cx="345.5" cy="646.4" r="0.9"/><circle cx="364.4" cy="630.1" r="0.6"/><circle cx="329.4" cy="624.1" r="0.6"/><circle cx="376.3" cy="663.2" r="0.8"/><circle cx="334.5" cy="629.6" r="0.9"/><circle cx="358.6" cy="638.6" r="0.8"/><circle cx="387.3" cy="646.5" r="0.7"/><circle cx="362.6" cy="644.1" r="0.8"/><circle cx="344.9" cy="646.3" r="0.6"/><circle cx="382.8" cy="657.3" r="0.9"/><circle cx="354.8" cy="652.8" r="0.6"/><circle cx="335.2" cy="618.5" r="0.8"/><circle cx="326.1" cy="657.3" r="0.6"/><circle cx="334.9" cy="663.9" r="0.9"/><circle cx="340.9" cy="649.4" r="0.7"/><circle cx="358.9" cy="628.9" r="0.6"/><circle cx="370.8" cy="637.1" r="0.6"/><circle cx="356.9" cy="638.8" r="0.6"/><circle cx="374.8" cy="623.7" r="0.7"/><circle cx="381.7" cy="640.6" r="0.9"/><circle cx="327.9" cy="625.9" r="0.9"/><circle cx="334.9" cy="678.7" r="0.7"/><circle cx="334.7" cy="632.6" r="0.7"/><circle cx="349.4" cy="631.0" r="0.7"/><circle cx="322.6" cy="639.1" r="0.7"/><circle cx="364.2" cy="665.0" r="0.9"/><circle cx="363.0" cy="664.8" r="0.8"/><circle cx="343.4" cy="671.6" r="0.7"/><circle cx="363.5" cy="657.8" r="0.9"/><circle cx="377.2" cy="669.6" r="0.6"/><circle cx="357.5" cy="623.1" r="0.7"/><circle cx="364.2" cy="627.6" r="0.6"/><circle cx="355.8" cy="662.5" r="0.8"/><circle cx="349.4" cy="668.8" r="0.7"/><circle cx="379.9" cy="667.2" r="0.8"/><circle cx="362.3" cy="665.3" r="0.8"/><circle cx="343.9" cy="640.3" r="0.9"/><circle cx="333.4" cy="673.7" r="0.7"/><circle cx="356.5" cy="628.1" r="0.8"/><circle cx="339.0" cy="653.1" r="0.9"/><circle cx="338.0" cy="642.5" r="0.7"/><circle cx="317.9" cy="644.1" r="0.7"/><circle cx="360.9" cy="674.7" r="0.6"/><circle cx="376.4" cy="628.6" r="0.9"/><circle cx="365.2" cy="674.3" r="0.7"/><circle cx="343.8" cy="623.7" r="0.7"/><circle cx="358.8" cy="671.9" r="0.6"/><circle cx="321.7" cy="644.9" r="0.6"/><circle cx="336.8" cy="667.1" r="0.8"/><circle cx="373.0" cy="625.0" r="0.9"/><circle cx="344.0" cy="652.5" r="0.9"/></g>
<path d="M340.0 610.0 q1.5 -1.6 3 -0.3 t3 -0.2 t3 -0.4 M351.0 609.1 l0.8 1.6 M353.5 609.4 q1.5 -1.2 2.6 0 t2.6 0.2 t2.8 0.5" fill="none" stroke="#474747" stroke-width="0.8" opacity="0.85"/>
</g>
<g filter="url(#bl2)">
<circle cx="445.9" cy="647.3" r="46.6" fill="url(#rim)"/>
<circle cx="445.9" cy="648.2" r="41.2" fill="url(#agar)" stroke="#bdbdbd" stroke-width="0.8"/>
<g fill="#a0a0a0" opacity="0.68" filter="url(#bl)"><circle cx="440.5" cy="639.8" r="0.7"/><circle cx="452.3" cy="637.7" r="0.8"/><circle cx="444.5" cy="644.1" r="0.6"/><circle cx="463.7" cy="640.8" r="0.6"/><circle cx="443.7" cy="639.2" r="0.8"/><circle cx="467.4" cy="626.5" r="0.6"/><circle cx="459.4" cy="658.4" r="0.9"/><circle cx="468.1" cy="651.7" r="0.7"/><circle cx="449.2" cy="647.7" r="0.7"/><circle cx="459.5" cy="670.6" r="0.8"/><circle cx="452.3" cy="635.0" r="0.6"/><circle cx="448.8" cy="647.0" r="0.7"/><circle cx="454.3" cy="635.5" r="0.9"/><circle cx="438.6" cy="626.2" r="0.6"/><circle cx="462.0" cy="658.3" r="0.7"/><circle cx="449.8" cy="651.8" r="0.9"/><circle cx="447.8" cy="623.6" r="0.6"/><circle cx="437.5" cy="653.5" r="0.7"/><circle cx="449.5" cy="671.7" r="0.7"/><circle cx="435.8" cy="643.7" r="0.9"/><circle cx="451.5" cy="638.3" r="0.9"/><circle cx="421.7" cy="632.5" r="0.6"/><circle cx="465.4" cy="641.3" r="0.8"/><circle cx="447.0" cy="665.9" r="0.8"/><circle cx="462.5" cy="624.9" r="0.8"/><circle cx="464.7" cy="623.4" r="0.6"/><circle cx="457.1" cy="662.0" r="0.8"/><circle cx="432.1" cy="655.2" r="0.6"/><circle cx="426.4" cy="644.8" r="0.6"/><circle cx="451.5" cy="664.7" r="0.6"/><circle cx="433.0" cy="654.8" r="0.9"/><circle cx="475.2" cy="636.9" r="0.6"/><circle cx="470.2" cy="628.2" r="0.6"/><circle cx="443.0" cy="645.0" r="0.8"/><circle cx="420.8" cy="625.4" r="0.6"/><circle cx="445.8" cy="674.0" r="0.6"/><circle cx="467.0" cy="642.1" r="0.8"/><circle cx="440.4" cy="655.6" r="0.7"/><circle cx="437.6" cy="643.1" r="0.8"/><circle cx="439.1" cy="644.3" r="0.7"/><circle cx="423.7" cy="646.8" r="0.8"/><circle cx="414.8" cy="633.0" r="0.8"/><circle cx="459.1" cy="655.8" r="0.8"/><circle cx="420.2" cy="628.6" r="0.7"/><circle cx="454.5" cy="673.5" r="0.8"/><circle cx="424.0" cy="642.0" r="0.9"/><circle cx="437.3" cy="668.3" r="0.7"/><circle cx="452.9" cy="664.5" r="0.9"/><circle cx="416.9" cy="668.8" r="0.8"/><circle cx="457.4" cy="645.0" r="0.8"/><circle cx="420.1" cy="649.6" r="0.8"/><circle cx="453.1" cy="679.4" r="0.6"/><circle cx="463.1" cy="673.0" r="0.6"/><circle cx="430.2" cy="668.9" r="0.6"/><circle cx="458.4" cy="628.5" r="0.8"/><circle cx="469.6" cy="666.4" r="0.7"/><circle cx="429.7" cy="617.5" r="0.7"/><circle cx="435.3" cy="630.8" r="0.7"/><circle cx="424.2" cy="630.2" r="0.8"/><circle cx="413.3" cy="644.9" r="0.9"/><circle cx="434.7" cy="637.1" r="0.7"/><circle cx="463.0" cy="660.4" r="0.9"/><circle cx="418.9" cy="633.3" r="0.9"/><circle cx="466.8" cy="647.4" r="0.7"/><circle cx="450.4" cy="628.7" r="0.6"/><circle cx="426.5" cy="653.9" r="0.9"/><circle cx="435.6" cy="661.0" r="0.8"/><circle cx="426.4" cy="641.7" r="0.9"/><circle cx="474.2" cy="649.4" r="0.9"/><circle cx="439.6" cy="666.3" r="0.8"/><circle cx="416.1" cy="660.1" r="0.9"/><circle cx="468.5" cy="661.2" r="0.8"/><circle cx="456.1" cy="634.0" r="0.7"/><circle cx="456.1" cy="680.5" r="0.9"/><circle cx="479.1" cy="639.5" r="0.6"/><circle cx="440.8" cy="646.2" r="0.9"/><circle cx="428.8" cy="644.6" r="0.8"/><circle cx="471.2" cy="648.1" r="0.9"/><circle cx="432.9" cy="663.3" r="0.8"/><circle cx="468.6" cy="649.7" r="0.6"/><circle cx="466.1" cy="661.8" r="0.8"/><circle cx="431.5" cy="630.2" r="0.7"/><circle cx="479.3" cy="641.2" r="0.9"/><circle cx="448.2" cy="628.8" r="0.8"/><circle cx="445.2" cy="620.9" r="0.6"/><circle cx="440.8" cy="658.8" r="0.6"/><circle cx="413.0" cy="645.9" r="0.6"/><circle cx="437.9" cy="673.8" r="0.8"/><circle cx="478.7" cy="646.4" r="0.9"/><circle cx="418.3" cy="644.4" r="0.7"/><circle cx="455.1" cy="669.2" r="0.7"/><circle cx="439.9" cy="645.9" r="0.6"/><circle cx="465.3" cy="647.6" r="0.6"/><circle cx="475.4" cy="650.2" r="0.6"/><circle cx="439.4" cy="632.9" r="0.6"/><circle cx="417.8" cy="667.9" r="0.6"/><circle cx="432.8" cy="626.7" r="0.7"/><circle cx="447.4" cy="636.7" r="0.8"/><circle cx="472.9" cy="629.0" r="0.7"/><circle cx="423.6" cy="661.3" r="0.6"/><circle cx="434.8" cy="647.1" r="0.6"/><circle cx="449.6" cy="650.1" r="0.9"/><circle cx="421.0" cy="628.4" r="0.6"/><circle cx="434.5" cy="624.1" r="0.8"/><circle cx="446.7" cy="658.6" r="0.8"/><circle cx="444.6" cy="659.7" r="0.6"/><circle cx="477.9" cy="638.2" r="0.6"/><circle cx="427.5" cy="653.9" r="0.9"/><circle cx="446.5" cy="651.3" r="0.9"/><circle cx="471.6" cy="642.1" r="0.9"/><circle cx="446.3" cy="654.0" r="0.7"/><circle cx="450.8" cy="646.2" r="0.7"/><circle cx="460.5" cy="638.3" r="0.9"/><circle cx="431.7" cy="638.4" r="0.9"/><circle cx="479.3" cy="662.3" r="0.9"/><circle cx="420.9" cy="634.6" r="0.9"/><circle cx="458.6" cy="636.5" r="0.9"/><circle cx="448.3" cy="645.9" r="0.6"/><circle cx="438.0" cy="657.3" r="0.7"/><circle cx="447.2" cy="647.2" r="0.9"/><circle cx="465.4" cy="664.2" r="0.9"/><circle cx="434.9" cy="634.0" r="0.6"/><circle cx="464.5" cy="637.8" r="0.7"/><circle cx="425.7" cy="652.2" r="0.8"/><circle cx="460.7" cy="651.4" r="0.6"/><circle cx="456.5" cy="663.0" r="0.7"/><circle cx="444.9" cy="656.1" r="0.7"/><circle cx="420.7" cy="653.2" r="0.7"/><circle cx="438.7" cy="657.1" r="0.9"/><circle cx="465.5" cy="643.4" r="0.7"/><circle cx="428.6" cy="650.7" r="0.7"/><circle cx="431.7" cy="652.3" r="0.7"/><circle cx="481.6" cy="647.9" r="0.9"/><circle cx="427.9" cy="666.6" r="0.7"/><circle cx="424.8" cy="647.0" r="0.7"/><circle cx="470.3" cy="670.4" r="0.6"/><circle cx="442.7" cy="671.7" r="0.9"/><circle cx="445.1" cy="644.6" r="0.7"/><circle cx="432.1" cy="659.0" r="0.6"/><circle cx="450.7" cy="621.1" r="0.7"/><circle cx="436.3" cy="633.7" r="0.6"/><circle cx="451.9" cy="644.9" r="0.8"/><circle cx="443.3" cy="636.1" r="0.6"/><circle cx="456.3" cy="658.1" r="0.9"/><circle cx="432.0" cy="657.3" r="0.9"/><circle cx="469.4" cy="628.5" r="0.7"/><circle cx="461.8" cy="678.0" r="0.8"/><circle cx="430.8" cy="625.0" r="0.8"/><circle cx="480.1" cy="653.4" r="0.9"/><circle cx="454.8" cy="636.4" r="0.8"/><circle cx="474.4" cy="667.0" r="0.8"/><circle cx="454.2" cy="643.6" r="0.7"/><circle cx="475.0" cy="655.3" r="0.6"/><circle cx="421.2" cy="659.0" r="0.8"/><circle cx="445.0" cy="637.4" r="0.8"/><circle cx="471.9" cy="639.0" r="0.7"/><circle cx="440.5" cy="624.5" r="0.8"/><circle cx="428.9" cy="619.5" r="0.8"/><circle cx="473.1" cy="669.7" r="0.8"/><circle cx="470.5" cy="625.4" r="0.6"/><circle cx="430.6" cy="617.5" r="0.6"/><circle cx="453.9" cy="677.2" r="0.8"/><circle cx="472.5" cy="663.2" r="0.9"/><circle cx="418.2" cy="625.5" r="0.7"/><circle cx="460.2" cy="656.7" r="0.9"/><circle cx="433.9" cy="665.9" r="0.9"/><circle cx="435.0" cy="628.0" r="0.7"/><circle cx="424.0" cy="646.8" r="0.7"/><circle cx="454.8" cy="668.9" r="0.8"/><circle cx="452.4" cy="658.3" r="0.7"/><circle cx="445.9" cy="672.0" r="0.6"/><circle cx="438.9" cy="657.7" r="0.6"/><circle cx="440.8" cy="660.2" r="0.7"/><circle cx="416.6" cy="650.6" r="0.9"/><circle cx="446.7" cy="662.4" r="0.9"/><circle cx="439.2" cy="640.6" r="0.8"/><circle cx="443.1" cy="638.8" r="0.7"/><circle cx="453.4" cy="632.3" r="0.9"/><circle cx="461.1" cy="673.7" r="0.7"/><circle cx="419.7" cy="654.4" r="0.9"/><circle cx="470.8" cy="668.6" r="0.8"/><circle cx="443.5" cy="648.5" r="0.6"/><circle cx="444.6" cy="654.2" r="0.7"/><circle cx="442.5" cy="656.5" r="0.6"/><circle cx="434.6" cy="652.1" r="0.8"/><circle cx="429.8" cy="642.6" r="0.6"/><circle cx="448.1" cy="648.2" r="0.9"/><circle cx="444.3" cy="641.0" r="0.8"/><circle cx="436.5" cy="648.9" r="0.9"/><circle cx="450.9" cy="626.7" r="0.8"/><circle cx="447.6" cy="647.4" r="0.8"/><circle cx="471.4" cy="638.1" r="0.8"/><circle cx="471.0" cy="660.8" r="0.6"/><circle cx="442.9" cy="650.5" r="0.7"/><circle cx="452.8" cy="663.2" r="0.7"/><circle cx="444.1" cy="640.1" r="0.8"/><circle cx="431.6" cy="673.7" r="0.7"/><circle cx="428.4" cy="669.0" r="0.7"/><circle cx="426.9" cy="642.4" r="0.8"/><circle cx="445.2" cy="679.2" r="0.6"/></g>
<path d="M434.9 610.0 q1.5 -1.6 3 -0.3 t3 -0.2 t3 -0.4 M445.9 609.1 l0.8 1.6 M448.4 609.4 q1.5 -1.2 2.6 0 t2.6 0.2 t2.8 0.5" fill="none" stroke="#474747" stroke-width="0.8" opacity="0.85"/>
</g>
<g filter="url(#bl2)">
<circle cx="257.1" cy="740.8" r="46.6" fill="url(#rim)"/>
<circle cx="257.1" cy="741.7" r="41.2" fill="url(#agar)" stroke="#bdbdbd" stroke-width="0.8"/>
<g fill="#a0a0a0" opacity="0.68" filter="url(#bl)"><circle cx="252.4" cy="739.9" r="0.9"/><circle cx="289.9" cy="730.8" r="0.9"/><circle cx="254.5" cy="721.7" r="0.8"/><circle cx="238.1" cy="723.8" r="0.7"/><circle cx="272.3" cy="765.2" r="0.9"/><circle cx="234.3" cy="756.9" r="0.6"/><circle cx="223.8" cy="745.8" r="0.7"/><circle cx="287.4" cy="742.3" r="0.9"/><circle cx="267.1" cy="746.3" r="0.6"/><circle cx="235.5" cy="752.7" r="0.8"/><circle cx="263.8" cy="742.1" r="0.7"/><circle cx="274.9" cy="769.6" r="0.8"/><circle cx="257.5" cy="740.7" r="0.8"/><circle cx="231.5" cy="746.5" r="0.8"/><circle cx="234.9" cy="751.8" r="0.7"/><circle cx="292.6" cy="733.7" r="0.6"/><circle cx="287.4" cy="753.0" r="0.8"/><circle cx="249.2" cy="766.1" r="0.9"/><circle cx="221.4" cy="745.8" r="0.7"/><circle cx="247.4" cy="755.4" r="0.6"/><circle cx="262.9" cy="772.5" r="0.9"/><circle cx="274.9" cy="763.7" r="0.8"/><circle cx="281.2" cy="733.4" r="0.8"/><circle cx="234.1" cy="732.6" r="0.9"/><circle cx="259.4" cy="756.7" r="0.7"/><circle cx="276.6" cy="757.2" r="0.8"/><circle cx="268.0" cy="766.2" r="0.8"/><circle cx="261.4" cy="769.4" r="0.9"/><circle cx="243.8" cy="735.7" r="0.6"/><circle cx="282.9" cy="726.4" r="0.6"/><circle cx="242.7" cy="713.6" r="0.9"/><circle cx="246.4" cy="741.6" r="0.6"/><circle cx="284.0" cy="735.4" r="0.6"/><circle cx="248.1" cy="722.2" r="0.7"/><circle cx="270.1" cy="773.4" r="0.9"/><circle cx="277.8" cy="764.1" r="0.6"/><circle cx="277.3" cy="747.6" r="0.6"/><circle cx="254.8" cy="740.4" r="0.7"/><circle cx="273.8" cy="756.4" r="0.7"/><circle cx="273.8" cy="728.7" r="0.7"/><circle cx="279.7" cy="729.8" r="0.8"/><circle cx="256.7" cy="730.4" r="0.8"/><circle cx="254.3" cy="711.8" r="0.6"/><circle cx="280.7" cy="763.2" r="0.8"/><circle cx="232.9" cy="738.3" r="0.8"/><circle cx="286.3" cy="749.4" r="0.8"/><circle cx="248.6" cy="739.3" r="0.6"/><circle cx="261.0" cy="739.5" r="0.7"/><circle cx="262.7" cy="755.6" r="0.9"/><circle cx="260.5" cy="741.6" r="0.9"/><circle cx="266.6" cy="743.0" r="0.6"/><circle cx="256.7" cy="748.6" r="0.7"/><circle cx="250.7" cy="765.0" r="0.9"/><circle cx="228.9" cy="725.5" r="0.8"/><circle cx="247.7" cy="720.0" r="0.8"/><circle cx="292.9" cy="744.7" r="0.8"/><circle cx="220.2" cy="744.6" r="0.9"/><circle cx="267.7" cy="711.7" r="0.6"/><circle cx="251.7" cy="737.1" r="0.9"/><circle cx="289.8" cy="735.5" r="0.9"/><circle cx="271.6" cy="727.9" r="0.6"/><circle cx="237.7" cy="738.6" r="0.8"/><circle cx="227.8" cy="724.7" r="0.6"/><circle cx="263.1" cy="729.9" r="0.9"/><circle cx="238.8" cy="745.2" r="0.8"/><circle cx="247.8" cy="756.3" r="0.9"/><circle cx="275.7" cy="744.0" r="0.9"/><circle cx="230.6" cy="721.7" r="0.7"/><circle cx="276.0" cy="764.0" r="0.9"/><circle cx="240.5" cy="741.8" r="0.8"/><circle cx="239.6" cy="733.7" r="0.7"/><circle cx="293.2" cy="749.1" r="0.6"/><circle cx="262.3" cy="710.5" r="0.6"/><circle cx="253.2" cy="759.8" r="0.7"/><circle cx="288.7" cy="729.9" r="0.6"/><circle cx="258.6" cy="725.4" r="0.8"/><circle cx="241.0" cy="724.8" r="0.8"/><circle cx="249.8" cy="710.8" r="0.8"/><circle cx="253.7" cy="747.0" r="0.8"/><circle cx="264.1" cy="710.5" r="0.8"/><circle cx="269.7" cy="711.8" r="0.8"/><circle cx="260.3" cy="752.1" r="0.9"/><circle cx="240.3" cy="753.8" r="0.8"/><circle cx="226.8" cy="724.7" r="0.7"/><circle cx="250.8" cy="757.1" r="0.8"/><circle cx="259.8" cy="748.2" r="0.6"/><circle cx="248.2" cy="765.1" r="0.8"/><circle cx="234.2" cy="768.6" r="0.9"/><circle cx="283.8" cy="728.5" r="0.9"/><circle cx="265.4" cy="757.0" r="0.8"/><circle cx="258.5" cy="718.1" r="0.8"/><circle cx="272.2" cy="743.6" r="0.6"/><circle cx="263.5" cy="760.4" r="0.8"/><circle cx="236.9" cy="716.5" r="0.7"/><circle cx="271.5" cy="746.8" r="0.7"/><circle cx="280.9" cy="753.8" r="0.8"/><circle cx="287.3" cy="742.7" r="0.8"/><circle cx="275.0" cy="725.3" r="0.8"/><circle cx="265.4" cy="773.7" r="0.8"/><circle cx="290.6" cy="747.2" r="0.9"/><circle cx="248.0" cy="724.0" r="0.8"/><circle cx="265.3" cy="733.0" r="0.6"/><circle cx="250.9" cy="736.9" r="0.9"/><circle cx="227.4" cy="762.0" r="0.9"/><circle cx="290.8" cy="746.9" r="0.8"/><circle cx="283.0" cy="739.9" r="0.6"/><circle cx="251.8" cy="722.4" r="0.8"/><circle cx="268.8" cy="743.1" r="0.7"/><circle cx="258.3" cy="731.5" r="0.6"/><circle cx="244.4" cy="755.7" r="0.8"/><circle cx="235.6" cy="729.4" r="0.7"/><circle cx="234.1" cy="726.0" r="0.8"/><circle cx="246.1" cy="732.4" r="0.9"/><circle cx="262.2" cy="713.0" r="0.8"/><circle cx="230.0" cy="733.7" r="0.9"/><circle cx="240.4" cy="760.2" r="0.8"/><circle cx="267.6" cy="742.4" r="0.9"/><circle cx="260.3" cy="734.1" r="0.8"/><circle cx="249.2" cy="734.1" r="0.9"/><circle cx="283.5" cy="757.3" r="0.6"/><circle cx="277.0" cy="759.7" r="0.7"/><circle cx="267.8" cy="763.6" r="0.8"/><circle cx="282.3" cy="725.4" r="0.7"/><circle cx="242.3" cy="760.5" r="0.7"/><circle cx="271.3" cy="725.8" r="0.7"/><circle cx="241.5" cy="763.4" r="0.9"/><circle cx="246.8" cy="760.9" r="0.6"/><circle cx="256.1" cy="733.2" r="0.6"/><circle cx="284.9" cy="726.2" r="0.8"/><circle cx="251.1" cy="739.4" r="0.9"/><circle cx="232.3" cy="764.7" r="0.7"/><circle cx="261.3" cy="742.3" r="0.9"/><circle cx="247.7" cy="753.1" r="0.8"/><circle cx="237.6" cy="719.1" r="0.8"/><circle cx="222.8" cy="742.1" r="0.7"/><circle cx="278.6" cy="733.0" r="0.8"/><circle cx="280.7" cy="767.2" r="0.8"/><circle cx="248.8" cy="755.5" r="0.9"/><circle cx="257.2" cy="773.5" r="0.8"/><circle cx="233.2" cy="726.1" r="0.9"/><circle cx="270.5" cy="746.0" r="0.7"/><circle cx="254.0" cy="710.7" r="0.6"/><circle cx="277.9" cy="719.4" r="0.7"/><circle cx="271.2" cy="757.6" r="0.8"/><circle cx="267.0" cy="716.1" r="0.7"/><circle cx="293.5" cy="743.8" r="0.8"/><circle cx="256.1" cy="731.2" r="0.6"/><circle cx="226.8" cy="748.2" r="0.9"/><circle cx="252.6" cy="748.4" r="0.9"/><circle cx="291.1" cy="737.7" r="0.6"/><circle cx="265.1" cy="765.4" r="0.6"/><circle cx="252.2" cy="741.7" r="0.7"/><circle cx="248.7" cy="718.6" r="0.6"/><circle cx="261.6" cy="738.5" r="0.6"/><circle cx="282.0" cy="763.7" r="0.9"/><circle cx="221.1" cy="736.4" r="0.6"/><circle cx="252.1" cy="730.9" r="0.7"/><circle cx="230.3" cy="734.5" r="0.6"/><circle cx="270.5" cy="722.1" r="0.6"/><circle cx="261.3" cy="759.3" r="0.7"/><circle cx="252.7" cy="769.9" r="0.7"/><circle cx="256.8" cy="744.4" r="0.6"/><circle cx="270.0" cy="745.5" r="0.8"/><circle cx="249.6" cy="755.3" r="0.6"/><circle cx="229.7" cy="734.6" r="0.8"/><circle cx="286.4" cy="738.8" r="0.8"/><circle cx="248.4" cy="759.6" r="0.9"/><circle cx="269.0" cy="757.3" r="0.9"/><circle cx="268.5" cy="711.7" r="0.6"/><circle cx="241.8" cy="741.7" r="0.8"/><circle cx="253.4" cy="714.5" r="0.7"/><circle cx="240.1" cy="715.6" r="0.6"/><circle cx="264.2" cy="711.5" r="0.6"/><circle cx="237.3" cy="734.7" r="0.9"/><circle cx="246.9" cy="763.6" r="0.6"/><circle cx="243.1" cy="724.5" r="0.9"/><circle cx="236.7" cy="729.3" r="0.9"/><circle cx="246.7" cy="731.6" r="0.9"/><circle cx="275.1" cy="748.9" r="0.8"/><circle cx="245.0" cy="718.9" r="0.8"/><circle cx="259.2" cy="735.3" r="0.7"/><circle cx="260.5" cy="709.1" r="0.8"/><circle cx="222.6" cy="747.2" r="0.8"/><circle cx="232.6" cy="745.2" r="0.7"/><circle cx="291.1" cy="755.7" r="0.8"/><circle cx="232.6" cy="737.8" r="0.8"/><circle cx="264.3" cy="754.3" r="0.9"/><circle cx="269.1" cy="738.0" r="0.6"/><circle cx="245.2" cy="754.8" r="0.9"/><circle cx="262.8" cy="749.5" r="0.8"/><circle cx="243.8" cy="755.9" r="0.8"/><circle cx="276.4" cy="752.9" r="0.9"/><circle cx="240.8" cy="747.1" r="0.6"/><circle cx="234.7" cy="744.7" r="0.7"/><circle cx="275.5" cy="765.3" r="0.7"/><circle cx="237.3" cy="739.4" r="0.7"/><circle cx="229.7" cy="738.0" r="0.9"/><circle cx="242.3" cy="736.7" r="0.6"/><circle cx="281.6" cy="750.4" r="0.7"/><circle cx="240.0" cy="737.2" r="0.8"/></g>
<path d="M246.1 703.5 q1.5 -1.6 3 -0.3 t3 -0.2 t3 -0.4 M257.1 702.6 l0.8 1.6 M259.6 702.9 q1.5 -1.2 2.6 0 t2.6 0.2 t2.8 0.5" fill="none" stroke="#474747" stroke-width="0.8" opacity="0.85"/>
</g>
<g filter="url(#bl2)">
<circle cx="351.0" cy="740.8" r="46.6" fill="url(#rim)"/>
<circle cx="351.0" cy="741.7" r="41.2" fill="url(#agar)" stroke="#bdbdbd" stroke-width="0.8"/>
<g fill="#a0a0a0" opacity="0.68" filter="url(#bl)"><circle cx="349.5" cy="756.5" r="0.9"/><circle cx="345.5" cy="735.9" r="0.6"/><circle cx="338.8" cy="747.7" r="0.8"/><circle cx="332.0" cy="760.3" r="0.6"/><circle cx="329.6" cy="761.6" r="0.6"/><circle cx="342.6" cy="768.6" r="0.9"/><circle cx="333.8" cy="729.0" r="0.8"/><circle cx="336.4" cy="753.7" r="0.7"/><circle cx="363.7" cy="772.5" r="0.8"/><circle cx="352.9" cy="747.8" r="0.6"/><circle cx="343.7" cy="744.2" r="0.9"/><circle cx="326.1" cy="742.3" r="0.6"/><circle cx="342.4" cy="738.4" r="0.9"/><circle cx="323.6" cy="752.6" r="0.9"/><circle cx="362.6" cy="746.5" r="0.9"/><circle cx="327.2" cy="740.2" r="0.6"/><circle cx="349.3" cy="714.9" r="0.9"/><circle cx="373.7" cy="731.2" r="0.8"/><circle cx="354.1" cy="718.1" r="0.9"/><circle cx="352.8" cy="750.8" r="0.6"/><circle cx="377.1" cy="744.2" r="0.9"/><circle cx="351.2" cy="734.1" r="0.9"/><circle cx="348.4" cy="736.6" r="0.8"/><circle cx="373.2" cy="749.2" r="0.9"/><circle cx="372.2" cy="765.8" r="0.9"/><circle cx="373.7" cy="719.9" r="0.7"/><circle cx="357.7" cy="757.7" r="0.6"/><circle cx="338.3" cy="738.9" r="0.8"/><circle cx="344.9" cy="746.9" r="0.8"/><circle cx="325.3" cy="740.1" r="0.9"/><circle cx="340.8" cy="767.3" r="0.7"/><circle cx="361.9" cy="711.9" r="0.8"/><circle cx="363.0" cy="754.0" r="0.7"/><circle cx="333.3" cy="758.5" r="0.9"/><circle cx="343.9" cy="716.1" r="0.7"/><circle cx="357.3" cy="724.3" r="0.7"/><circle cx="344.9" cy="721.4" r="0.6"/><circle cx="381.5" cy="743.3" r="0.6"/><circle cx="331.4" cy="733.9" r="0.8"/><circle cx="351.9" cy="746.1" r="0.9"/><circle cx="346.8" cy="726.2" r="0.9"/><circle cx="348.1" cy="722.3" r="0.7"/><circle cx="383.0" cy="753.1" r="0.9"/><circle cx="374.9" cy="763.9" r="0.7"/><circle cx="381.5" cy="755.5" r="0.9"/><circle cx="362.3" cy="736.2" r="0.7"/><circle cx="339.9" cy="721.9" r="0.8"/><circle cx="319.4" cy="735.3" r="0.7"/><circle cx="360.8" cy="736.6" r="0.7"/><circle cx="326.9" cy="746.7" r="0.7"/><circle cx="381.4" cy="732.8" r="0.9"/><circle cx="358.4" cy="730.0" r="0.9"/><circle cx="367.5" cy="764.4" r="0.6"/><circle cx="374.6" cy="766.2" r="0.7"/><circle cx="342.0" cy="771.5" r="0.7"/><circle cx="361.0" cy="711.4" r="0.7"/><circle cx="350.1" cy="758.5" r="0.7"/><circle cx="354.5" cy="731.6" r="0.7"/><circle cx="371.3" cy="745.8" r="0.9"/><circle cx="348.0" cy="752.3" r="0.6"/><circle cx="359.1" cy="752.0" r="0.7"/><circle cx="341.5" cy="723.4" r="0.6"/><circle cx="348.0" cy="745.5" r="0.7"/><circle cx="385.4" cy="729.0" r="0.6"/><circle cx="341.0" cy="754.9" r="0.9"/><circle cx="380.5" cy="725.1" r="0.7"/><circle cx="366.5" cy="725.2" r="0.6"/><circle cx="337.5" cy="744.2" r="0.7"/><circle cx="342.9" cy="765.2" r="0.6"/><circle cx="330.7" cy="769.8" r="0.7"/><circle cx="378.2" cy="750.0" r="0.8"/><circle cx="331.8" cy="743.9" r="0.8"/><circle cx="364.3" cy="767.7" r="0.8"/><circle cx="345.6" cy="712.0" r="0.9"/><circle cx="342.8" cy="739.2" r="0.7"/><circle cx="324.9" cy="747.8" r="0.6"/><circle cx="346.6" cy="739.6" r="0.9"/><circle cx="370.1" cy="761.2" r="0.8"/><circle cx="349.9" cy="734.9" r="0.7"/><circle cx="340.7" cy="726.2" r="0.6"/><circle cx="361.3" cy="727.2" r="0.9"/><circle cx="349.7" cy="758.2" r="0.6"/><circle cx="376.4" cy="763.2" r="0.9"/><circle cx="335.1" cy="737.9" r="0.8"/><circle cx="362.9" cy="760.3" r="0.6"/><circle cx="334.7" cy="758.6" r="0.7"/><circle cx="335.0" cy="736.4" r="0.7"/><circle cx="345.9" cy="709.6" r="0.7"/><circle cx="385.4" cy="744.8" r="0.6"/><circle cx="357.1" cy="720.4" r="0.7"/><circle cx="354.8" cy="769.0" r="0.7"/><circle cx="350.0" cy="752.6" r="0.6"/><circle cx="335.5" cy="727.5" r="0.6"/><circle cx="364.4" cy="731.6" r="0.6"/><circle cx="356.8" cy="768.0" r="0.7"/><circle cx="356.7" cy="717.4" r="0.6"/><circle cx="380.4" cy="755.3" r="0.8"/><circle cx="386.5" cy="750.5" r="0.7"/><circle cx="333.1" cy="767.2" r="0.9"/><circle cx="362.0" cy="764.5" r="0.8"/><circle cx="320.6" cy="759.2" r="0.9"/><circle cx="352.1" cy="737.8" r="0.7"/><circle cx="337.8" cy="716.1" r="0.7"/><circle cx="355.1" cy="712.1" r="0.7"/><circle cx="353.6" cy="754.2" r="0.8"/><circle cx="378.4" cy="753.2" r="0.6"/><circle cx="319.2" cy="745.6" r="0.9"/><circle cx="339.0" cy="762.1" r="0.6"/><circle cx="330.7" cy="720.0" r="0.7"/><circle cx="383.3" cy="751.6" r="0.8"/><circle cx="377.7" cy="758.1" r="0.8"/><circle cx="359.7" cy="718.5" r="0.9"/><circle cx="350.2" cy="714.8" r="0.7"/><circle cx="345.4" cy="727.8" r="0.8"/><circle cx="349.9" cy="709.4" r="0.7"/><circle cx="361.1" cy="723.5" r="0.8"/><circle cx="325.2" cy="725.8" r="0.6"/><circle cx="352.4" cy="735.4" r="0.8"/><circle cx="368.9" cy="718.2" r="0.7"/><circle cx="337.9" cy="745.1" r="0.7"/><circle cx="320.5" cy="727.4" r="0.6"/><circle cx="355.4" cy="722.9" r="0.8"/><circle cx="323.6" cy="758.8" r="0.6"/><circle cx="344.0" cy="729.6" r="0.8"/><circle cx="374.7" cy="726.6" r="0.9"/><circle cx="383.1" cy="742.6" r="0.9"/><circle cx="376.9" cy="734.2" r="0.9"/><circle cx="333.9" cy="729.5" r="0.9"/><circle cx="340.2" cy="738.9" r="0.6"/><circle cx="361.9" cy="726.8" r="0.6"/><circle cx="365.7" cy="750.2" r="0.8"/><circle cx="361.1" cy="734.0" r="0.9"/><circle cx="361.1" cy="716.8" r="0.6"/><circle cx="341.0" cy="732.2" r="0.9"/><circle cx="364.2" cy="769.8" r="0.8"/><circle cx="361.9" cy="756.0" r="0.7"/><circle cx="362.3" cy="733.1" r="0.9"/><circle cx="343.5" cy="756.9" r="0.7"/><circle cx="384.0" cy="735.6" r="0.9"/><circle cx="375.9" cy="741.9" r="0.7"/><circle cx="351.2" cy="750.3" r="0.8"/><circle cx="337.3" cy="716.3" r="0.9"/><circle cx="351.2" cy="731.8" r="0.8"/><circle cx="376.6" cy="754.1" r="0.8"/><circle cx="372.6" cy="736.3" r="0.8"/><circle cx="346.5" cy="725.8" r="0.9"/><circle cx="363.8" cy="710.9" r="0.6"/><circle cx="316.1" cy="742.2" r="0.8"/><circle cx="380.3" cy="744.9" r="0.6"/><circle cx="326.6" cy="749.5" r="0.7"/><circle cx="351.0" cy="713.4" r="0.6"/><circle cx="315.3" cy="745.5" r="0.6"/><circle cx="378.9" cy="720.7" r="0.7"/><circle cx="362.4" cy="735.8" r="0.6"/><circle cx="368.1" cy="772.4" r="0.8"/><circle cx="352.4" cy="767.6" r="0.6"/><circle cx="372.5" cy="739.0" r="0.6"/><circle cx="336.5" cy="714.8" r="0.9"/><circle cx="374.6" cy="738.3" r="0.8"/><circle cx="345.9" cy="768.8" r="0.7"/><circle cx="317.9" cy="742.6" r="0.6"/><circle cx="332.6" cy="766.3" r="0.7"/><circle cx="355.8" cy="729.9" r="0.6"/><circle cx="350.1" cy="730.7" r="0.7"/><circle cx="375.5" cy="726.9" r="0.8"/><circle cx="357.2" cy="708.4" r="0.8"/><circle cx="364.9" cy="772.9" r="0.8"/><circle cx="316.9" cy="746.9" r="0.8"/><circle cx="321.9" cy="760.6" r="0.8"/><circle cx="342.6" cy="758.4" r="0.9"/></g>
<path d="M340.0 703.5 q1.5 -1.6 3 -0.3 t3 -0.2 t3 -0.4 M351.0 702.6 l0.8 1.6 M353.5 702.9 q1.5 -1.2 2.6 0 t2.6 0.2 t2.8 0.5" fill="none" stroke="#474747" stroke-width="0.8" opacity="0.85"/>
</g>
<g filter="url(#bl2)">
<circle cx="445.9" cy="740.8" r="46.6" fill="url(#rim)"/>
<circle cx="445.9" cy="741.7" r="41.2" fill="url(#agar)" stroke="#bdbdbd" stroke-width="0.8"/>
<g fill="#a0a0a0" opacity="0.68" filter="url(#bl)"><circle cx="450.6" cy="756.4" r="0.9"/><circle cx="425.6" cy="754.1" r="0.7"/><circle cx="433.3" cy="768.9" r="0.7"/><circle cx="429.5" cy="738.3" r="0.9"/><circle cx="441.0" cy="770.4" r="0.8"/><circle cx="422.0" cy="758.9" r="0.8"/><circle cx="470.2" cy="763.3" r="0.9"/><circle cx="476.4" cy="749.3" r="0.8"/><circle cx="464.0" cy="735.1" r="0.8"/><circle cx="473.5" cy="719.4" r="0.6"/><circle cx="432.3" cy="715.8" r="0.9"/><circle cx="438.0" cy="711.8" r="0.8"/><circle cx="451.3" cy="751.9" r="0.6"/><circle cx="420.9" cy="759.9" r="0.8"/><circle cx="424.9" cy="741.8" r="0.8"/><circle cx="453.5" cy="758.3" r="0.7"/><circle cx="421.0" cy="738.7" r="0.8"/><circle cx="440.3" cy="750.2" r="0.6"/><circle cx="478.2" cy="755.2" r="0.6"/><circle cx="429.3" cy="714.6" r="0.9"/><circle cx="427.0" cy="733.0" r="0.8"/><circle cx="432.2" cy="715.0" r="0.7"/><circle cx="440.5" cy="732.4" r="0.7"/><circle cx="465.3" cy="728.4" r="0.6"/><circle cx="459.2" cy="715.9" r="0.9"/><circle cx="469.1" cy="765.2" r="0.9"/><circle cx="441.6" cy="766.9" r="0.6"/><circle cx="420.9" cy="723.8" r="0.8"/><circle cx="468.3" cy="727.4" r="0.8"/><circle cx="442.1" cy="734.7" r="0.6"/><circle cx="439.8" cy="724.4" r="0.6"/><circle cx="455.5" cy="739.1" r="0.7"/><circle cx="445.1" cy="741.1" r="0.7"/><circle cx="423.4" cy="741.4" r="0.9"/><circle cx="423.8" cy="727.7" r="0.6"/><circle cx="448.2" cy="737.7" r="0.6"/><circle cx="439.4" cy="763.0" r="0.8"/><circle cx="410.3" cy="735.3" r="0.7"/><circle cx="449.8" cy="728.9" r="0.7"/><circle cx="462.6" cy="739.2" r="0.6"/><circle cx="452.7" cy="753.8" r="0.8"/><circle cx="466.0" cy="749.6" r="0.8"/><circle cx="419.7" cy="727.4" r="0.9"/><circle cx="465.8" cy="736.4" r="0.9"/><circle cx="455.8" cy="731.7" r="0.6"/><circle cx="477.4" cy="734.6" r="0.8"/><circle cx="445.6" cy="768.4" r="0.9"/><circle cx="422.0" cy="752.0" r="0.9"/><circle cx="436.0" cy="733.6" r="0.6"/><circle cx="441.6" cy="761.0" r="0.7"/><circle cx="451.9" cy="737.6" r="0.6"/><circle cx="453.1" cy="761.4" r="0.7"/><circle cx="455.5" cy="769.8" r="0.8"/><circle cx="475.3" cy="732.6" r="0.6"/><circle cx="447.7" cy="747.8" r="0.6"/><circle cx="425.0" cy="717.8" r="0.8"/><circle cx="427.9" cy="724.5" r="0.8"/><circle cx="433.2" cy="774.0" r="0.6"/><circle cx="434.8" cy="715.1" r="0.9"/><circle cx="457.6" cy="711.4" r="0.9"/><circle cx="428.5" cy="766.3" r="0.7"/><circle cx="460.7" cy="729.5" r="0.9"/><circle cx="477.3" cy="723.7" r="0.8"/><circle cx="456.1" cy="722.2" r="0.7"/><circle cx="412.9" cy="736.3" r="0.8"/><circle cx="452.1" cy="763.7" r="0.8"/><circle cx="472.3" cy="731.6" r="0.7"/><circle cx="474.2" cy="732.4" r="0.9"/><circle cx="441.1" cy="712.7" r="0.7"/><circle cx="463.6" cy="716.3" r="0.7"/><circle cx="454.2" cy="748.3" r="0.9"/><circle cx="447.4" cy="738.4" r="0.6"/><circle cx="468.1" cy="747.6" r="0.6"/><circle cx="428.1" cy="768.5" r="0.9"/><circle cx="430.7" cy="724.9" r="0.7"/><circle cx="446.4" cy="743.4" r="0.8"/><circle cx="462.1" cy="753.4" r="0.7"/><circle cx="412.6" cy="754.1" r="0.9"/><circle cx="417.6" cy="729.4" r="0.6"/><circle cx="462.4" cy="769.3" r="0.7"/><circle cx="416.3" cy="747.1" r="0.9"/><circle cx="465.9" cy="758.9" r="0.9"/><circle cx="470.8" cy="751.4" r="0.7"/><circle cx="470.7" cy="722.5" r="0.6"/><circle cx="450.8" cy="723.0" r="0.7"/><circle cx="444.4" cy="715.8" r="0.6"/><circle cx="458.8" cy="734.0" r="0.7"/><circle cx="477.4" cy="748.9" r="0.6"/><circle cx="465.6" cy="734.7" r="0.7"/><circle cx="476.4" cy="749.9" r="0.9"/><circle cx="455.1" cy="754.2" r="0.6"/><circle cx="468.5" cy="735.9" r="0.6"/><circle cx="450.5" cy="730.4" r="0.7"/><circle cx="433.7" cy="764.7" r="0.9"/><circle cx="481.0" cy="742.3" r="0.6"/><circle cx="457.1" cy="720.2" r="0.6"/><circle cx="430.1" cy="718.2" r="0.8"/><circle cx="435.0" cy="723.1" r="0.7"/><circle cx="447.7" cy="738.8" r="0.9"/><circle cx="442.2" cy="729.2" r="0.7"/><circle cx="474.7" cy="739.0" r="0.6"/><circle cx="430.6" cy="760.8" r="0.6"/><circle cx="446.5" cy="749.4" r="0.6"/><circle cx="444.6" cy="749.5" r="0.8"/><circle cx="464.7" cy="765.2" r="0.8"/><circle cx="477.4" cy="743.1" r="0.6"/><circle cx="443.7" cy="737.3" r="0.7"/><circle cx="422.1" cy="748.1" r="0.9"/><circle cx="414.4" cy="727.0" r="0.7"/><circle cx="442.1" cy="709.3" r="0.6"/><circle cx="464.2" cy="714.0" r="0.6"/><circle cx="465.0" cy="762.0" r="0.9"/><circle cx="476.3" cy="752.0" r="0.8"/><circle cx="439.9" cy="721.8" r="0.8"/><circle cx="464.1" cy="717.3" r="0.6"/><circle cx="461.2" cy="751.4" r="0.9"/><circle cx="457.3" cy="738.1" r="0.9"/><circle cx="462.2" cy="716.9" r="0.8"/><circle cx="445.9" cy="757.3" r="0.9"/><circle cx="432.3" cy="761.6" r="0.8"/></g>
<path d="M434.9 703.5 q1.5 -1.6 3 -0.3 t3 -0.2 t3 -0.4 M445.9 702.6 l0.8 1.6 M448.4 702.9 q1.5 -1.2 2.6 0 t2.6 0.2 t2.8 0.5" fill="none" stroke="#474747" stroke-width="0.8" opacity="0.85"/>
</g>
<g filter="url(#bl2)">
<circle cx="257.1" cy="834.2" r="46.6" fill="url(#rim)"/>
<circle cx="257.1" cy="835.1" r="41.2" fill="url(#agar)" stroke="#bdbdbd" stroke-width="0.8"/>
<g fill="#a0a0a0" opacity="0.68" filter="url(#bl)"><circle cx="240.4" cy="864.1" r="0.7"/><circle cx="266.6" cy="804.4" r="0.7"/><circle cx="261.3" cy="827.6" r="0.8"/><circle cx="245.8" cy="852.5" r="0.6"/><circle cx="281.8" cy="830.2" r="0.7"/><circle cx="270.5" cy="839.5" r="0.7"/><circle cx="227.3" cy="853.4" r="0.6"/><circle cx="262.8" cy="861.0" r="0.6"/><circle cx="229.7" cy="846.9" r="0.6"/><circle cx="273.6" cy="865.9" r="0.9"/><circle cx="270.8" cy="857.3" r="0.8"/><circle cx="257.4" cy="864.1" r="0.8"/><circle cx="287.4" cy="853.5" r="0.7"/><circle cx="236.4" cy="817.5" r="0.7"/><circle cx="233.8" cy="819.9" r="0.9"/><circle cx="273.4" cy="841.6" r="0.6"/><circle cx="279.7" cy="845.6" r="0.6"/><circle cx="265.5" cy="841.9" r="0.9"/><circle cx="228.8" cy="833.5" r="0.8"/><circle cx="223.6" cy="845.3" r="0.6"/><circle cx="244.6" cy="844.3" r="0.7"/><circle cx="254.0" cy="814.5" r="0.6"/><circle cx="224.3" cy="842.9" r="0.8"/><circle cx="289.6" cy="841.1" r="0.7"/><circle cx="259.5" cy="843.5" r="0.8"/><circle cx="252.1" cy="861.7" r="0.6"/><circle cx="287.1" cy="848.9" r="0.6"/><circle cx="250.7" cy="825.9" r="0.8"/><circle cx="269.2" cy="859.4" r="0.7"/><circle cx="269.3" cy="816.5" r="0.6"/><circle cx="245.3" cy="819.6" r="0.7"/><circle cx="255.2" cy="841.1" r="0.8"/><circle cx="280.1" cy="858.0" r="0.8"/><circle cx="253.7" cy="817.0" r="0.7"/><circle cx="255.5" cy="816.7" r="0.8"/><circle cx="237.4" cy="832.5" r="0.6"/><circle cx="285.8" cy="818.1" r="0.7"/><circle cx="244.6" cy="846.0" r="0.6"/><circle cx="262.2" cy="848.0" r="0.7"/><circle cx="276.0" cy="811.9" r="0.7"/><circle cx="229.4" cy="839.8" r="0.6"/><circle cx="254.1" cy="830.6" r="0.8"/><circle cx="272.0" cy="837.8" r="0.9"/><circle cx="275.4" cy="849.3" r="0.9"/><circle cx="263.4" cy="840.6" r="0.9"/><circle cx="286.9" cy="817.6" r="0.9"/><circle cx="273.5" cy="849.2" r="0.6"/><circle cx="241.8" cy="840.4" r="0.7"/><circle cx="223.6" cy="824.0" r="0.6"/><circle cx="232.8" cy="837.5" r="0.7"/><circle cx="274.9" cy="817.6" r="0.9"/><circle cx="266.0" cy="832.2" r="0.6"/><circle cx="264.4" cy="847.7" r="0.8"/><circle cx="269.4" cy="841.8" r="0.8"/><circle cx="279.0" cy="828.0" r="0.7"/><circle cx="250.0" cy="837.2" r="0.8"/><circle cx="255.4" cy="843.2" r="0.8"/><circle cx="255.1" cy="829.0" r="0.9"/><circle cx="267.1" cy="855.0" r="0.6"/><circle cx="267.6" cy="811.3" r="0.6"/><circle cx="246.2" cy="811.0" r="0.6"/><circle cx="259.6" cy="858.6" r="0.9"/><circle cx="275.6" cy="855.8" r="0.8"/><circle cx="260.8" cy="825.4" r="0.8"/><circle cx="276.3" cy="812.8" r="0.8"/><circle cx="240.4" cy="813.6" r="0.7"/><circle cx="254.4" cy="835.9" r="0.6"/><circle cx="270.4" cy="818.2" r="0.8"/><circle cx="271.2" cy="851.2" r="0.7"/><circle cx="250.2" cy="850.4" r="0.7"/><circle cx="228.0" cy="854.4" r="0.7"/><circle cx="259.4" cy="834.5" r="0.7"/><circle cx="252.3" cy="839.8" r="0.9"/><circle cx="263.9" cy="861.4" r="0.7"/><circle cx="244.0" cy="837.5" r="0.8"/><circle cx="221.4" cy="844.5" r="0.7"/><circle cx="258.4" cy="801.3" r="0.6"/><circle cx="245.4" cy="851.7" r="0.6"/><circle cx="260.4" cy="811.1" r="0.7"/><circle cx="290.1" cy="835.2" r="0.8"/><circle cx="230.2" cy="839.1" r="0.9"/><circle cx="257.8" cy="845.3" r="0.6"/><circle cx="242.7" cy="843.0" r="0.7"/><circle cx="281.6" cy="861.1" r="0.8"/><circle cx="289.4" cy="846.4" r="0.7"/><circle cx="276.2" cy="845.0" r="0.9"/><circle cx="256.5" cy="865.0" r="0.7"/><circle cx="289.7" cy="826.8" r="0.8"/><circle cx="248.5" cy="802.3" r="0.6"/><circle cx="262.2" cy="832.4" r="0.6"/><circle cx="287.0" cy="816.0" r="0.6"/><circle cx="273.9" cy="831.9" r="0.7"/><circle cx="235.8" cy="831.5" r="0.8"/><circle cx="238.6" cy="810.4" r="0.6"/><circle cx="234.6" cy="835.3" r="0.8"/><circle cx="290.9" cy="827.6" r="0.7"/><circle cx="238.5" cy="823.9" r="0.8"/><circle cx="268.0" cy="857.3" r="0.8"/><circle cx="233.1" cy="849.0" r="0.8"/><circle cx="283.2" cy="847.3" r="0.6"/><circle cx="229.8" cy="839.8" r="0.8"/><circle cx="289.3" cy="837.0" r="0.9"/><circle cx="258.4" cy="817.6" r="0.7"/><circle cx="246.7" cy="854.4" r="0.7"/><circle cx="288.1" cy="853.2" r="0.7"/><circle cx="236.5" cy="849.0" r="0.7"/><circle cx="260.9" cy="867.3" r="0.8"/><circle cx="236.7" cy="835.9" r="0.8"/><circle cx="258.9" cy="844.7" r="0.7"/><circle cx="283.1" cy="856.0" r="0.7"/><circle cx="231.4" cy="813.9" r="0.6"/><circle cx="234.8" cy="841.3" r="0.8"/><circle cx="240.8" cy="854.5" r="0.9"/><circle cx="263.9" cy="819.6" r="0.6"/><circle cx="262.7" cy="808.6" r="0.9"/><circle cx="276.6" cy="830.9" r="0.8"/><circle cx="236.3" cy="811.2" r="0.7"/><circle cx="286.3" cy="829.4" r="0.7"/><circle cx="268.9" cy="820.2" r="0.8"/><circle cx="268.2" cy="839.6" r="0.9"/><circle cx="280.8" cy="813.2" r="0.6"/><circle cx="270.6" cy="836.4" r="0.9"/><circle cx="252.8" cy="863.2" r="0.6"/><circle cx="273.9" cy="809.6" r="0.6"/><circle cx="286.7" cy="835.9" r="0.7"/><circle cx="267.3" cy="828.4" r="0.7"/><circle cx="259.5" cy="837.2" r="0.6"/><circle cx="278.8" cy="862.4" r="0.8"/><circle cx="252.8" cy="840.8" r="0.8"/><circle cx="235.7" cy="837.9" r="0.8"/><circle cx="273.9" cy="827.5" r="0.8"/><circle cx="267.2" cy="841.3" r="0.6"/><circle cx="254.7" cy="862.7" r="0.8"/><circle cx="238.1" cy="836.1" r="0.7"/><circle cx="284.2" cy="833.5" r="0.6"/><circle cx="273.6" cy="810.7" r="0.9"/><circle cx="252.9" cy="816.5" r="0.7"/><circle cx="273.3" cy="842.5" r="0.9"/><circle cx="249.8" cy="831.1" r="0.7"/><circle cx="226.4" cy="844.1" r="0.9"/><circle cx="260.9" cy="864.8" r="0.6"/><circle cx="224.7" cy="840.6" r="0.9"/><circle cx="260.9" cy="844.7" r="0.7"/><circle cx="250.9" cy="828.7" r="0.7"/><circle cx="226.0" cy="835.0" r="0.8"/><circle cx="286.9" cy="840.7" r="0.6"/><circle cx="253.4" cy="848.3" r="0.9"/><circle cx="279.5" cy="820.4" r="0.7"/><circle cx="293.9" cy="834.2" r="0.8"/><circle cx="266.8" cy="838.9" r="0.9"/><circle cx="271.8" cy="809.2" r="0.8"/><circle cx="236.4" cy="832.4" r="0.8"/><circle cx="252.3" cy="831.6" r="0.6"/><circle cx="249.2" cy="849.6" r="0.7"/><circle cx="267.6" cy="830.7" r="0.7"/><circle cx="264.5" cy="855.4" r="0.6"/><circle cx="250.8" cy="806.1" r="0.8"/><circle cx="228.1" cy="839.2" r="0.8"/><circle cx="282.0" cy="853.4" r="0.6"/><circle cx="231.5" cy="845.1" r="0.6"/><circle cx="249.4" cy="822.4" r="0.7"/><circle cx="270.6" cy="818.4" r="0.9"/><circle cx="235.3" cy="856.4" r="0.9"/><circle cx="252.1" cy="806.0" r="0.8"/><circle cx="278.9" cy="850.9" r="0.9"/><circle cx="264.4" cy="831.6" r="0.7"/><circle cx="261.9" cy="834.7" r="0.7"/><circle cx="254.4" cy="829.5" r="0.6"/><circle cx="273.1" cy="842.0" r="0.8"/><circle cx="276.2" cy="845.8" r="0.9"/></g>
<path d="M246.1 796.9 q1.5 -1.6 3 -0.3 t3 -0.2 t3 -0.4 M257.1 796.0 l0.8 1.6 M259.6 796.3 q1.5 -1.2 2.6 0 t2.6 0.2 t2.8 0.5" fill="none" stroke="#474747" stroke-width="0.8" opacity="0.85"/>
</g>
<g filter="url(#bl2)">
<circle cx="351.0" cy="834.2" r="46.6" fill="url(#rim)"/>
<circle cx="351.0" cy="835.1" r="41.2" fill="url(#agar)" stroke="#bdbdbd" stroke-width="0.8"/>
<g fill="#a0a0a0" opacity="0.68" filter="url(#bl)"><circle cx="344.7" cy="808.2" r="0.6"/><circle cx="354.7" cy="833.0" r="0.7"/><circle cx="343.3" cy="813.1" r="0.8"/><circle cx="339.1" cy="833.0" r="0.9"/><circle cx="356.7" cy="845.4" r="0.9"/><circle cx="331.6" cy="856.4" r="0.7"/><circle cx="329.3" cy="828.4" r="0.6"/><circle cx="350.1" cy="820.3" r="0.9"/><circle cx="373.4" cy="829.3" r="0.8"/><circle cx="326.5" cy="853.3" r="0.7"/><circle cx="372.0" cy="855.9" r="0.7"/><circle cx="315.9" cy="837.0" r="0.8"/><circle cx="382.9" cy="840.4" r="0.9"/><circle cx="340.0" cy="806.6" r="0.8"/><circle cx="348.7" cy="818.5" r="0.8"/><circle cx="335.3" cy="812.2" r="0.6"/><circle cx="372.4" cy="812.0" r="0.8"/><circle cx="351.2" cy="833.2" r="0.6"/><circle cx="384.2" cy="825.6" r="0.8"/><circle cx="344.9" cy="847.8" r="0.8"/><circle cx="339.6" cy="866.9" r="0.8"/><circle cx="346.6" cy="854.1" r="0.7"/><circle cx="349.9" cy="833.2" r="0.7"/><circle cx="330.8" cy="811.2" r="0.6"/><circle cx="345.9" cy="801.2" r="0.7"/><circle cx="350.3" cy="865.5" r="0.8"/><circle cx="361.9" cy="819.2" r="0.7"/><circle cx="347.5" cy="821.3" r="0.6"/><circle cx="361.7" cy="820.4" r="0.8"/><circle cx="373.0" cy="859.6" r="0.6"/><circle cx="368.7" cy="810.2" r="0.9"/><circle cx="315.8" cy="841.4" r="0.9"/><circle cx="372.8" cy="813.6" r="0.7"/><circle cx="331.4" cy="857.0" r="0.6"/><circle cx="346.8" cy="842.5" r="0.6"/><circle cx="385.4" cy="840.4" r="0.8"/><circle cx="357.5" cy="838.0" r="0.6"/><circle cx="337.8" cy="838.2" r="0.9"/><circle cx="333.2" cy="837.6" r="0.9"/><circle cx="338.9" cy="822.9" r="0.9"/><circle cx="340.7" cy="849.2" r="0.8"/><circle cx="332.6" cy="858.1" r="0.6"/><circle cx="378.0" cy="834.8" r="0.6"/><circle cx="330.5" cy="846.2" r="0.7"/><circle cx="341.9" cy="845.1" r="0.8"/><circle cx="331.8" cy="807.5" r="0.6"/><circle cx="325.1" cy="824.1" r="0.9"/><circle cx="326.6" cy="845.5" r="0.7"/><circle cx="369.4" cy="846.4" r="0.8"/><circle cx="358.9" cy="805.6" r="0.8"/><circle cx="353.4" cy="827.2" r="0.6"/><circle cx="361.7" cy="826.2" r="0.9"/><circle cx="343.3" cy="826.9" r="0.6"/><circle cx="361.6" cy="866.7" r="0.8"/><circle cx="314.3" cy="831.9" r="0.7"/><circle cx="351.3" cy="813.0" r="0.6"/><circle cx="369.0" cy="856.3" r="0.9"/><circle cx="316.6" cy="822.3" r="0.7"/><circle cx="362.0" cy="828.8" r="0.6"/><circle cx="329.1" cy="859.3" r="0.6"/><circle cx="364.8" cy="837.1" r="0.7"/><circle cx="373.3" cy="825.9" r="0.7"/><circle cx="343.4" cy="827.6" r="0.6"/><circle cx="333.5" cy="823.1" r="0.8"/><circle cx="353.8" cy="860.3" r="0.7"/><circle cx="327.0" cy="839.7" r="0.6"/><circle cx="361.3" cy="807.4" r="0.7"/><circle cx="353.5" cy="863.9" r="0.8"/><circle cx="357.5" cy="822.7" r="0.7"/><circle cx="373.3" cy="820.9" r="0.7"/><circle cx="344.5" cy="801.8" r="0.6"/><circle cx="343.7" cy="807.2" r="0.7"/><circle cx="359.7" cy="822.1" r="0.6"/><circle cx="374.8" cy="835.4" r="0.6"/><circle cx="378.2" cy="816.2" r="0.9"/><circle cx="340.3" cy="837.8" r="0.7"/><circle cx="331.9" cy="864.7" r="0.7"/><circle cx="356.2" cy="869.3" r="0.9"/><circle cx="333.0" cy="842.3" r="0.8"/><circle cx="353.4" cy="846.1" r="0.6"/><circle cx="341.6" cy="829.7" r="0.6"/><circle cx="360.8" cy="855.8" r="0.9"/><circle cx="354.9" cy="804.4" r="0.9"/><circle cx="347.0" cy="856.6" r="0.7"/><circle cx="327.7" cy="834.0" r="0.7"/><circle cx="342.0" cy="846.4" r="0.9"/><circle cx="321.2" cy="854.5" r="0.8"/><circle cx="335.3" cy="859.7" r="0.9"/><circle cx="323.4" cy="840.9" r="0.6"/><circle cx="352.1" cy="830.5" r="0.9"/></g>
<path d="M340.0 796.9 q1.5 -1.6 3 -0.3 t3 -0.2 t3 -0.4 M351.0 796.0 l0.8 1.6 M353.5 796.3 q1.5 -1.2 2.6 0 t2.6 0.2 t2.8 0.5" fill="none" stroke="#474747" stroke-width="0.8" opacity="0.85"/>
</g>
<g filter="url(#bl2)">
<circle cx="445.9" cy="834.2" r="46.6" fill="url(#rim)"/>
<circle cx="445.9" cy="835.1" r="41.2" fill="url(#agarL)" stroke="#bdbdbd" stroke-width="0.8"/>
<g fill="#a0a0a0" opacity="0.68" filter="url(#bl)"><circle cx="432.5" cy="822.0" r="0.9"/><circle cx="419.6" cy="812.3" r="0.7"/><circle cx="432.5" cy="814.8" r="0.6"/><circle cx="467.9" cy="861.6" r="0.8"/><circle cx="422.4" cy="851.3" r="0.8"/><circle cx="434.1" cy="812.9" r="0.8"/><circle cx="463.8" cy="860.2" r="0.9"/><circle cx="439.6" cy="861.0" r="0.7"/><circle cx="456.7" cy="804.5" r="0.6"/><circle cx="455.5" cy="811.2" r="0.9"/><circle cx="430.2" cy="852.1" r="0.6"/><circle cx="426.9" cy="831.6" r="0.8"/><circle cx="418.1" cy="839.0" r="0.8"/><circle cx="433.6" cy="825.8" r="0.8"/><circle cx="446.8" cy="832.6" r="0.6"/><circle cx="462.8" cy="825.6" r="0.6"/><circle cx="437.6" cy="848.7" r="0.9"/><circle cx="441.5" cy="824.9" r="0.6"/><circle cx="447.8" cy="841.9" r="0.7"/><circle cx="447.5" cy="845.6" r="0.6"/><circle cx="461.9" cy="849.5" r="0.6"/><circle cx="411.9" cy="824.7" r="0.6"/><circle cx="464.7" cy="858.8" r="0.7"/><circle cx="440.9" cy="835.3" r="0.9"/><circle cx="431.0" cy="820.5" r="0.7"/><circle cx="472.6" cy="831.6" r="0.6"/><circle cx="450.2" cy="841.5" r="0.6"/><circle cx="445.0" cy="832.1" r="0.7"/><circle cx="450.9" cy="842.8" r="0.7"/><circle cx="437.4" cy="845.0" r="0.7"/></g>
<path d="M434.9 796.9 q1.5 -1.6 3 -0.3 t3 -0.2 t3 -0.4 M445.9 796.0 l0.8 1.6 M448.4 796.3 q1.5 -1.2 2.6 0 t2.6 0.2 t2.8 0.5" fill="none" stroke="#474747" stroke-width="0.8" opacity="0.85"/>
</g>
<g filter="url(#bl2)">
<circle cx="257.1" cy="926.7" r="46.6" fill="url(#rim)"/>
<circle cx="257.1" cy="927.6" r="41.2" fill="url(#agar)" stroke="#bdbdbd" stroke-width="0.8"/>
<g fill="#a0a0a0" opacity="0.68" filter="url(#bl)"><circle cx="276.6" cy="925.3" r="0.9"/><circle cx="241.5" cy="937.0" r="0.9"/><circle cx="271.9" cy="925.5" r="0.7"/><circle cx="266.6" cy="920.6" r="0.8"/><circle cx="241.5" cy="906.3" r="0.9"/><circle cx="246.5" cy="906.6" r="0.6"/><circle cx="226.6" cy="919.0" r="0.6"/><circle cx="273.8" cy="913.4" r="0.8"/><circle cx="228.5" cy="925.8" r="0.7"/><circle cx="286.2" cy="911.7" r="0.7"/><circle cx="248.0" cy="907.0" r="0.7"/><circle cx="286.6" cy="928.5" r="0.6"/><circle cx="235.5" cy="951.4" r="0.7"/><circle cx="253.6" cy="903.6" r="0.9"/><circle cx="238.5" cy="929.9" r="0.7"/><circle cx="244.1" cy="939.5" r="0.8"/><circle cx="266.1" cy="961.0" r="0.6"/><circle cx="243.1" cy="896.0" r="0.8"/><circle cx="230.9" cy="918.1" r="0.8"/><circle cx="264.5" cy="919.1" r="0.9"/><circle cx="279.8" cy="901.7" r="0.6"/><circle cx="268.4" cy="908.1" r="0.6"/><circle cx="257.9" cy="917.1" r="0.9"/><circle cx="227.2" cy="910.9" r="0.9"/><circle cx="287.0" cy="928.5" r="0.7"/><circle cx="255.6" cy="936.0" r="0.6"/><circle cx="232.1" cy="937.7" r="0.8"/><circle cx="249.7" cy="930.0" r="0.8"/><circle cx="248.3" cy="928.0" r="0.8"/><circle cx="249.0" cy="916.7" r="0.8"/><circle cx="265.9" cy="956.2" r="0.9"/><circle cx="246.0" cy="900.3" r="0.8"/><circle cx="272.0" cy="911.7" r="0.9"/><circle cx="247.6" cy="901.9" r="0.6"/><circle cx="259.9" cy="923.3" r="0.8"/><circle cx="263.1" cy="927.3" r="0.7"/><circle cx="268.6" cy="913.2" r="0.7"/><circle cx="241.0" cy="927.1" r="0.9"/><circle cx="277.2" cy="939.0" r="0.6"/><circle cx="245.6" cy="919.8" r="0.6"/><circle cx="240.2" cy="951.3" r="0.7"/><circle cx="235.0" cy="901.1" r="0.6"/><circle cx="272.0" cy="905.4" r="0.8"/><circle cx="266.8" cy="942.7" r="0.7"/><circle cx="262.3" cy="906.5" r="0.8"/><circle cx="272.0" cy="933.3" r="0.7"/><circle cx="230.6" cy="906.6" r="0.6"/><circle cx="229.8" cy="922.4" r="0.9"/><circle cx="244.8" cy="934.3" r="0.9"/><circle cx="243.7" cy="900.2" r="0.9"/><circle cx="242.5" cy="930.9" r="0.7"/><circle cx="275.9" cy="955.5" r="0.6"/><circle cx="235.8" cy="941.1" r="0.7"/><circle cx="285.4" cy="908.3" r="0.9"/><circle cx="254.4" cy="949.8" r="0.8"/><circle cx="248.3" cy="927.8" r="0.8"/><circle cx="266.2" cy="920.4" r="0.8"/><circle cx="272.6" cy="940.0" r="0.7"/><circle cx="252.2" cy="949.6" r="0.8"/><circle cx="237.5" cy="922.1" r="0.8"/><circle cx="244.1" cy="954.4" r="0.9"/><circle cx="254.9" cy="936.9" r="0.8"/><circle cx="281.7" cy="920.0" r="0.8"/><circle cx="278.4" cy="918.3" r="0.7"/><circle cx="273.6" cy="909.7" r="0.7"/><circle cx="241.5" cy="916.5" r="0.8"/><circle cx="252.8" cy="912.1" r="0.6"/><circle cx="262.5" cy="947.2" r="0.6"/><circle cx="243.2" cy="927.1" r="0.6"/><circle cx="259.6" cy="956.6" r="0.6"/><circle cx="283.4" cy="915.6" r="0.7"/><circle cx="250.4" cy="901.3" r="0.6"/><circle cx="273.2" cy="925.3" r="0.6"/><circle cx="243.1" cy="958.9" r="0.6"/><circle cx="242.6" cy="946.2" r="0.7"/><circle cx="257.8" cy="929.9" r="0.7"/><circle cx="262.7" cy="959.7" r="0.7"/><circle cx="253.2" cy="960.5" r="0.8"/><circle cx="235.4" cy="945.7" r="0.6"/><circle cx="260.5" cy="922.0" r="0.9"/><circle cx="256.9" cy="918.9" r="0.8"/><circle cx="235.0" cy="937.7" r="0.6"/><circle cx="293.1" cy="926.4" r="0.9"/><circle cx="241.3" cy="906.6" r="0.7"/><circle cx="243.8" cy="941.7" r="0.7"/><circle cx="273.0" cy="917.0" r="0.8"/><circle cx="270.4" cy="947.9" r="0.7"/><circle cx="247.4" cy="922.1" r="0.6"/><circle cx="245.2" cy="927.5" r="0.6"/><circle cx="235.0" cy="940.3" r="0.6"/><circle cx="259.7" cy="955.9" r="0.7"/><circle cx="257.8" cy="913.6" r="0.7"/><circle cx="235.5" cy="952.9" r="0.6"/><circle cx="229.0" cy="911.3" r="0.9"/><circle cx="258.9" cy="910.2" r="0.7"/><circle cx="293.6" cy="926.1" r="0.6"/><circle cx="234.4" cy="927.3" r="0.6"/><circle cx="268.5" cy="950.6" r="0.6"/><circle cx="259.5" cy="912.9" r="0.6"/><circle cx="273.8" cy="936.1" r="0.8"/><circle cx="258.4" cy="920.9" r="0.9"/><circle cx="265.8" cy="939.6" r="0.8"/><circle cx="277.1" cy="919.1" r="0.6"/><circle cx="230.1" cy="939.7" r="0.7"/><circle cx="230.4" cy="928.0" r="0.7"/><circle cx="265.3" cy="898.2" r="0.8"/><circle cx="244.7" cy="947.2" r="0.6"/><circle cx="256.8" cy="904.7" r="0.7"/><circle cx="269.1" cy="947.5" r="0.7"/><circle cx="245.4" cy="910.3" r="0.6"/><circle cx="242.1" cy="930.6" r="0.7"/><circle cx="280.2" cy="943.5" r="0.9"/><circle cx="254.0" cy="920.6" r="0.8"/><circle cx="255.2" cy="945.1" r="0.8"/><circle cx="245.2" cy="935.6" r="0.9"/><circle cx="263.2" cy="931.0" r="0.6"/><circle cx="282.5" cy="926.3" r="0.6"/><circle cx="248.4" cy="910.5" r="0.8"/><circle cx="250.6" cy="916.8" r="0.9"/><circle cx="232.5" cy="935.5" r="0.6"/><circle cx="271.1" cy="897.3" r="0.9"/><circle cx="266.5" cy="931.6" r="0.9"/><circle cx="253.0" cy="918.9" r="0.7"/><circle cx="283.2" cy="924.1" r="0.6"/><circle cx="265.1" cy="898.9" r="0.6"/><circle cx="252.9" cy="935.7" r="0.6"/><circle cx="270.9" cy="923.4" r="0.8"/><circle cx="250.6" cy="910.8" r="0.8"/><circle cx="267.0" cy="910.2" r="0.7"/><circle cx="223.3" cy="940.6" r="0.6"/><circle cx="246.9" cy="925.0" r="0.9"/><circle cx="235.0" cy="903.8" r="0.7"/><circle cx="255.2" cy="954.3" r="0.6"/><circle cx="250.0" cy="933.9" r="0.7"/><circle cx="258.2" cy="928.0" r="0.8"/><circle cx="254.3" cy="934.7" r="0.8"/><circle cx="256.9" cy="896.6" r="0.9"/><circle cx="234.6" cy="901.1" r="0.7"/><circle cx="262.2" cy="943.7" r="0.8"/><circle cx="250.8" cy="935.3" r="0.7"/><circle cx="242.3" cy="906.1" r="0.7"/><circle cx="235.9" cy="938.7" r="0.7"/><circle cx="255.7" cy="932.5" r="0.6"/><circle cx="248.0" cy="899.6" r="0.8"/><circle cx="257.3" cy="950.6" r="0.9"/><circle cx="250.3" cy="950.5" r="0.6"/><circle cx="224.5" cy="931.0" r="0.7"/><circle cx="276.9" cy="906.1" r="0.8"/><circle cx="276.6" cy="938.6" r="0.8"/><circle cx="265.2" cy="955.2" r="0.7"/><circle cx="223.7" cy="941.8" r="0.8"/><circle cx="247.4" cy="903.3" r="0.8"/><circle cx="243.2" cy="947.6" r="0.9"/><circle cx="261.4" cy="926.7" r="0.8"/><circle cx="261.3" cy="957.6" r="0.8"/><circle cx="252.7" cy="906.4" r="0.7"/><circle cx="240.9" cy="943.9" r="0.8"/><circle cx="290.5" cy="936.3" r="0.7"/><circle cx="277.3" cy="901.5" r="0.9"/><circle cx="266.7" cy="940.9" r="0.7"/><circle cx="271.9" cy="958.7" r="0.7"/><circle cx="275.1" cy="934.4" r="0.7"/><circle cx="268.3" cy="913.7" r="0.6"/><circle cx="264.9" cy="946.7" r="0.8"/><circle cx="275.8" cy="942.3" r="0.8"/><circle cx="239.3" cy="940.1" r="0.8"/><circle cx="228.5" cy="949.2" r="0.7"/><circle cx="277.4" cy="929.0" r="0.8"/><circle cx="252.9" cy="935.8" r="0.7"/><circle cx="236.4" cy="908.6" r="0.7"/><circle cx="244.8" cy="921.5" r="0.7"/><circle cx="262.4" cy="943.1" r="0.7"/><circle cx="244.2" cy="920.5" r="0.8"/><circle cx="248.1" cy="923.6" r="0.6"/><circle cx="274.7" cy="943.5" r="0.7"/><circle cx="279.4" cy="926.8" r="0.8"/><circle cx="257.5" cy="930.3" r="0.8"/><circle cx="259.3" cy="961.8" r="0.9"/><circle cx="243.9" cy="920.2" r="0.9"/><circle cx="229.4" cy="924.5" r="0.8"/><circle cx="259.8" cy="912.6" r="0.9"/><circle cx="280.2" cy="929.5" r="0.9"/><circle cx="238.4" cy="915.2" r="0.7"/><circle cx="274.5" cy="903.0" r="0.9"/><circle cx="268.6" cy="924.7" r="0.8"/><circle cx="256.7" cy="898.6" r="0.6"/><circle cx="269.5" cy="915.6" r="0.6"/><circle cx="262.9" cy="924.1" r="0.7"/><circle cx="238.9" cy="935.3" r="0.9"/><circle cx="252.0" cy="912.4" r="0.8"/><circle cx="274.9" cy="957.5" r="0.9"/><circle cx="254.7" cy="936.4" r="0.7"/><circle cx="246.0" cy="936.5" r="0.8"/><circle cx="231.9" cy="918.5" r="0.8"/><circle cx="271.8" cy="935.7" r="0.8"/><circle cx="234.9" cy="950.9" r="0.8"/><circle cx="252.1" cy="918.7" r="0.6"/><circle cx="240.6" cy="936.4" r="0.8"/><circle cx="271.7" cy="928.0" r="0.7"/><circle cx="229.9" cy="936.6" r="0.9"/><circle cx="264.6" cy="940.9" r="0.9"/><circle cx="267.6" cy="922.1" r="0.6"/><circle cx="257.9" cy="931.5" r="0.8"/><circle cx="243.9" cy="903.4" r="0.9"/><circle cx="265.1" cy="905.2" r="0.7"/><circle cx="260.3" cy="933.5" r="0.7"/><circle cx="247.2" cy="915.9" r="0.7"/><circle cx="260.9" cy="900.2" r="0.8"/><circle cx="240.3" cy="924.3" r="0.9"/><circle cx="280.5" cy="946.0" r="0.8"/><circle cx="249.3" cy="912.7" r="0.7"/><circle cx="255.8" cy="900.8" r="0.8"/><circle cx="257.6" cy="903.4" r="0.8"/><circle cx="234.3" cy="920.8" r="0.7"/><circle cx="238.3" cy="902.7" r="0.6"/><circle cx="251.6" cy="922.6" r="0.7"/><circle cx="266.4" cy="915.1" r="0.7"/><circle cx="290.3" cy="917.6" r="0.6"/><circle cx="259.3" cy="926.0" r="0.9"/><circle cx="260.9" cy="921.0" r="0.9"/></g>
<path d="M246.1 889.4 q1.5 -1.6 3 -0.3 t3 -0.2 t3 -0.4 M257.1 888.5 l0.8 1.6 M259.6 888.8 q1.5 -1.2 2.6 0 t2.6 0.2 t2.8 0.5" fill="none" stroke="#474747" stroke-width="0.8" opacity="0.85"/>
</g>
<g filter="url(#bl2)">
<circle cx="351.0" cy="926.7" r="46.6" fill="url(#rim)"/>
<circle cx="351.0" cy="927.6" r="41.2" fill="url(#agar)" stroke="#bdbdbd" stroke-width="0.8"/>
<g fill="#a0a0a0" opacity="0.68" filter="url(#bl)"><circle cx="367.3" cy="909.9" r="0.7"/><circle cx="339.0" cy="915.1" r="0.6"/><circle cx="343.6" cy="934.7" r="0.6"/><circle cx="350.3" cy="924.5" r="0.6"/><circle cx="347.9" cy="938.4" r="0.8"/><circle cx="349.3" cy="911.4" r="0.6"/><circle cx="385.0" cy="925.7" r="0.9"/><circle cx="377.7" cy="923.1" r="0.6"/><circle cx="347.4" cy="897.6" r="0.7"/><circle cx="368.0" cy="922.5" r="0.9"/><circle cx="368.7" cy="908.3" r="0.7"/><circle cx="331.3" cy="922.7" r="0.9"/><circle cx="320.3" cy="935.8" r="0.7"/><circle cx="357.6" cy="960.3" r="0.8"/><circle cx="366.1" cy="902.6" r="0.7"/><circle cx="347.4" cy="937.0" r="0.6"/><circle cx="354.0" cy="941.1" r="0.8"/><circle cx="337.7" cy="945.1" r="0.9"/><circle cx="351.1" cy="924.1" r="0.8"/><circle cx="362.3" cy="944.2" r="0.9"/><circle cx="334.3" cy="903.9" r="0.9"/><circle cx="352.1" cy="916.8" r="0.9"/><circle cx="316.4" cy="933.5" r="0.7"/><circle cx="361.3" cy="955.9" r="0.7"/><circle cx="358.4" cy="911.0" r="0.6"/><circle cx="341.6" cy="940.0" r="0.6"/><circle cx="334.1" cy="943.0" r="0.7"/><circle cx="357.4" cy="911.9" r="0.8"/><circle cx="358.7" cy="914.8" r="0.7"/><circle cx="365.3" cy="951.9" r="0.6"/><circle cx="337.1" cy="901.0" r="0.9"/><circle cx="340.7" cy="909.4" r="0.9"/><circle cx="361.7" cy="935.0" r="0.9"/><circle cx="360.9" cy="920.7" r="0.8"/><circle cx="360.7" cy="917.6" r="0.9"/><circle cx="364.6" cy="936.8" r="0.7"/><circle cx="340.8" cy="922.0" r="0.7"/><circle cx="328.7" cy="927.2" r="0.6"/><circle cx="353.7" cy="926.5" r="0.7"/><circle cx="368.2" cy="914.4" r="0.6"/><circle cx="356.1" cy="950.7" r="0.8"/><circle cx="327.9" cy="913.2" r="0.7"/><circle cx="331.4" cy="946.7" r="0.9"/><circle cx="383.2" cy="924.1" r="0.7"/><circle cx="367.8" cy="950.2" r="0.6"/><circle cx="345.2" cy="925.0" r="0.6"/><circle cx="354.7" cy="939.8" r="0.8"/><circle cx="364.5" cy="935.3" r="0.9"/><circle cx="363.9" cy="927.7" r="0.9"/><circle cx="351.7" cy="941.3" r="0.9"/><circle cx="352.6" cy="936.6" r="0.6"/><circle cx="351.0" cy="918.7" r="0.9"/><circle cx="356.6" cy="900.6" r="0.7"/><circle cx="364.7" cy="930.7" r="0.9"/><circle cx="370.4" cy="919.3" r="0.9"/><circle cx="338.2" cy="934.4" r="0.9"/><circle cx="325.9" cy="913.9" r="0.9"/><circle cx="358.8" cy="914.0" r="0.9"/><circle cx="364.5" cy="931.7" r="0.7"/><circle cx="330.5" cy="918.0" r="0.7"/><circle cx="314.1" cy="925.8" r="0.6"/><circle cx="345.7" cy="933.0" r="0.9"/><circle cx="387.5" cy="930.5" r="0.9"/><circle cx="366.4" cy="906.1" r="0.9"/><circle cx="374.1" cy="906.1" r="0.9"/><circle cx="346.9" cy="900.0" r="0.7"/><circle cx="342.3" cy="934.1" r="0.6"/><circle cx="379.3" cy="931.4" r="0.9"/><circle cx="321.0" cy="924.2" r="0.7"/><circle cx="364.1" cy="940.4" r="0.6"/><circle cx="355.3" cy="912.3" r="0.8"/><circle cx="338.9" cy="900.0" r="0.7"/><circle cx="349.8" cy="918.7" r="0.6"/><circle cx="339.8" cy="960.5" r="0.8"/><circle cx="328.7" cy="909.2" r="0.9"/><circle cx="376.6" cy="949.4" r="0.9"/><circle cx="368.2" cy="924.4" r="0.9"/><circle cx="359.3" cy="923.8" r="0.9"/><circle cx="335.1" cy="958.1" r="0.9"/><circle cx="351.7" cy="908.4" r="0.8"/><circle cx="322.6" cy="911.8" r="0.9"/><circle cx="365.4" cy="920.8" r="0.7"/><circle cx="352.8" cy="907.0" r="0.8"/><circle cx="335.3" cy="916.6" r="0.7"/><circle cx="371.2" cy="920.0" r="0.7"/><circle cx="361.1" cy="928.7" r="0.6"/><circle cx="346.7" cy="929.1" r="0.8"/><circle cx="318.5" cy="939.7" r="0.6"/><circle cx="353.8" cy="919.7" r="0.9"/><circle cx="347.2" cy="911.7" r="0.6"/><circle cx="329.6" cy="950.5" r="0.9"/><circle cx="359.1" cy="929.0" r="0.7"/><circle cx="362.2" cy="903.7" r="0.7"/><circle cx="375.5" cy="938.5" r="0.8"/><circle cx="322.5" cy="942.9" r="0.8"/><circle cx="340.8" cy="950.6" r="0.6"/><circle cx="376.7" cy="924.1" r="0.9"/><circle cx="367.6" cy="933.6" r="0.6"/><circle cx="359.2" cy="930.9" r="0.7"/><circle cx="346.2" cy="903.3" r="0.8"/><circle cx="343.9" cy="954.0" r="0.9"/><circle cx="347.7" cy="928.6" r="0.8"/><circle cx="348.3" cy="943.8" r="0.6"/><circle cx="342.5" cy="926.9" r="0.8"/><circle cx="362.2" cy="936.8" r="0.8"/><circle cx="329.8" cy="947.7" r="0.9"/><circle cx="316.0" cy="925.0" r="0.7"/><circle cx="385.6" cy="915.7" r="0.8"/><circle cx="373.2" cy="901.5" r="0.7"/><circle cx="340.8" cy="924.8" r="0.7"/><circle cx="320.6" cy="916.9" r="0.6"/><circle cx="346.4" cy="913.5" r="0.8"/><circle cx="339.0" cy="917.7" r="0.7"/><circle cx="360.6" cy="945.0" r="0.6"/><circle cx="356.6" cy="912.2" r="0.7"/><circle cx="337.2" cy="910.1" r="0.9"/><circle cx="352.9" cy="932.3" r="0.9"/><circle cx="332.5" cy="936.5" r="0.8"/><circle cx="324.3" cy="917.5" r="0.8"/><circle cx="331.9" cy="919.4" r="0.9"/><circle cx="363.5" cy="923.9" r="0.8"/><circle cx="314.9" cy="935.1" r="0.6"/><circle cx="350.3" cy="913.4" r="0.7"/><circle cx="375.1" cy="906.5" r="0.8"/><circle cx="317.6" cy="935.8" r="0.8"/><circle cx="338.8" cy="940.0" r="0.7"/><circle cx="334.8" cy="900.5" r="0.7"/><circle cx="357.4" cy="922.9" r="0.7"/><circle cx="366.5" cy="911.3" r="0.7"/><circle cx="340.4" cy="924.4" r="0.8"/><circle cx="342.3" cy="960.6" r="0.6"/><circle cx="338.1" cy="937.1" r="0.6"/><circle cx="357.7" cy="960.5" r="0.9"/><circle cx="352.6" cy="925.9" r="0.9"/><circle cx="377.6" cy="944.2" r="0.7"/><circle cx="352.3" cy="947.3" r="0.6"/><circle cx="330.9" cy="938.1" r="0.6"/><circle cx="347.4" cy="941.8" r="0.6"/><circle cx="371.1" cy="926.5" r="0.6"/><circle cx="324.6" cy="911.9" r="0.9"/><circle cx="360.9" cy="905.7" r="0.7"/><circle cx="317.3" cy="935.2" r="0.8"/><circle cx="358.6" cy="945.9" r="0.8"/><circle cx="374.8" cy="915.9" r="0.8"/><circle cx="339.0" cy="949.2" r="0.8"/><circle cx="374.6" cy="933.1" r="0.8"/><circle cx="378.2" cy="916.1" r="0.8"/><circle cx="377.5" cy="917.4" r="0.9"/><circle cx="328.9" cy="932.0" r="0.8"/><circle cx="337.8" cy="897.3" r="0.7"/><circle cx="351.4" cy="958.0" r="0.7"/><circle cx="354.6" cy="940.4" r="0.8"/><circle cx="344.4" cy="938.3" r="0.9"/><circle cx="373.6" cy="934.0" r="0.7"/><circle cx="381.5" cy="938.5" r="0.9"/><circle cx="343.8" cy="929.8" r="0.6"/><circle cx="349.5" cy="895.8" r="0.6"/><circle cx="363.6" cy="911.5" r="0.6"/><circle cx="353.0" cy="952.4" r="0.8"/><circle cx="326.9" cy="940.8" r="0.6"/></g>
<path d="M340.0 889.4 q1.5 -1.6 3 -0.3 t3 -0.2 t3 -0.4 M351.0 888.5 l0.8 1.6 M353.5 888.8 q1.5 -1.2 2.6 0 t2.6 0.2 t2.8 0.5" fill="none" stroke="#474747" stroke-width="0.8" opacity="0.85"/>
</g>
<g filter="url(#bl2)">
<circle cx="445.9" cy="926.7" r="46.6" fill="url(#rim)"/>
<circle cx="445.9" cy="927.6" r="41.2" fill="url(#agar)" stroke="#bdbdbd" stroke-width="0.8"/>
<g fill="#a0a0a0" opacity="0.68" filter="url(#bl)"><circle cx="417.6" cy="926.8" r="0.8"/><circle cx="447.0" cy="923.3" r="0.9"/><circle cx="438.8" cy="938.7" r="0.6"/><circle cx="448.1" cy="924.6" r="0.9"/><circle cx="412.2" cy="929.7" r="0.9"/><circle cx="464.8" cy="898.8" r="0.9"/><circle cx="472.3" cy="929.6" r="0.9"/><circle cx="422.5" cy="941.6" r="0.6"/><circle cx="422.1" cy="923.9" r="0.6"/><circle cx="426.2" cy="940.3" r="0.6"/><circle cx="424.0" cy="936.9" r="0.6"/><circle cx="438.0" cy="922.4" r="0.8"/><circle cx="449.9" cy="924.2" r="0.8"/><circle cx="474.8" cy="928.2" r="0.9"/><circle cx="446.4" cy="959.9" r="0.9"/><circle cx="440.1" cy="945.8" r="0.6"/><circle cx="427.9" cy="923.1" r="0.9"/><circle cx="413.8" cy="914.5" r="0.6"/><circle cx="462.2" cy="914.0" r="0.7"/><circle cx="418.5" cy="931.2" r="0.6"/><circle cx="474.1" cy="918.6" r="0.6"/><circle cx="443.1" cy="917.5" r="0.6"/><circle cx="447.0" cy="956.9" r="0.7"/><circle cx="448.3" cy="957.7" r="0.9"/><circle cx="445.0" cy="896.8" r="0.8"/><circle cx="463.1" cy="947.5" r="0.6"/><circle cx="430.4" cy="926.2" r="0.9"/><circle cx="466.4" cy="955.2" r="0.9"/><circle cx="434.2" cy="923.5" r="0.8"/><circle cx="481.3" cy="931.6" r="0.8"/><circle cx="476.4" cy="937.4" r="0.6"/><circle cx="452.4" cy="918.3" r="0.9"/><circle cx="432.1" cy="899.6" r="0.6"/><circle cx="462.6" cy="935.1" r="0.9"/><circle cx="442.4" cy="937.1" r="0.6"/><circle cx="465.0" cy="944.8" r="0.9"/><circle cx="461.0" cy="945.4" r="0.6"/><circle cx="459.3" cy="922.7" r="0.8"/><circle cx="460.8" cy="927.8" r="0.8"/><circle cx="446.8" cy="919.6" r="0.9"/><circle cx="459.8" cy="905.1" r="0.8"/><circle cx="471.0" cy="952.4" r="0.7"/><circle cx="438.6" cy="912.3" r="0.7"/><circle cx="415.3" cy="915.0" r="0.8"/><circle cx="420.2" cy="909.2" r="0.7"/><circle cx="452.7" cy="920.0" r="0.7"/><circle cx="440.9" cy="914.2" r="0.6"/><circle cx="441.1" cy="939.7" r="0.6"/><circle cx="460.4" cy="937.3" r="0.8"/><circle cx="430.6" cy="898.2" r="0.7"/><circle cx="464.6" cy="939.2" r="0.9"/><circle cx="463.9" cy="954.8" r="0.6"/><circle cx="481.4" cy="929.1" r="0.9"/><circle cx="446.1" cy="935.1" r="0.6"/><circle cx="417.2" cy="944.8" r="0.9"/><circle cx="438.1" cy="933.2" r="0.7"/><circle cx="449.6" cy="913.8" r="0.8"/><circle cx="414.6" cy="921.8" r="0.7"/><circle cx="477.1" cy="940.7" r="0.9"/><circle cx="444.8" cy="912.0" r="0.7"/><circle cx="425.0" cy="934.8" r="0.7"/><circle cx="424.1" cy="903.6" r="0.9"/><circle cx="433.2" cy="916.2" r="0.6"/><circle cx="412.0" cy="938.0" r="0.9"/><circle cx="444.5" cy="959.2" r="0.8"/><circle cx="448.3" cy="947.0" r="0.7"/><circle cx="454.8" cy="948.9" r="0.6"/><circle cx="428.5" cy="942.5" r="0.8"/><circle cx="460.3" cy="940.9" r="0.6"/><circle cx="427.0" cy="900.0" r="0.8"/><circle cx="460.7" cy="942.0" r="0.8"/><circle cx="423.9" cy="931.9" r="0.9"/><circle cx="426.1" cy="910.1" r="0.7"/><circle cx="423.5" cy="902.4" r="0.6"/><circle cx="467.3" cy="926.6" r="0.6"/><circle cx="429.7" cy="924.2" r="0.9"/><circle cx="455.5" cy="911.2" r="0.7"/><circle cx="467.6" cy="930.3" r="0.9"/><circle cx="436.1" cy="900.9" r="0.6"/><circle cx="454.1" cy="926.6" r="0.7"/><circle cx="451.1" cy="943.7" r="0.8"/><circle cx="466.2" cy="912.1" r="0.9"/><circle cx="427.3" cy="947.1" r="0.6"/><circle cx="440.6" cy="940.5" r="0.6"/><circle cx="420.8" cy="935.7" r="0.9"/><circle cx="420.0" cy="916.3" r="0.7"/><circle cx="435.2" cy="917.5" r="0.9"/><circle cx="431.9" cy="939.1" r="0.9"/><circle cx="475.6" cy="934.3" r="0.9"/><circle cx="452.8" cy="951.0" r="0.6"/><circle cx="476.5" cy="938.2" r="0.8"/><circle cx="470.4" cy="908.7" r="0.7"/><circle cx="438.6" cy="949.1" r="0.9"/><circle cx="470.1" cy="933.9" r="0.6"/><circle cx="449.2" cy="938.9" r="0.6"/><circle cx="463.7" cy="918.5" r="0.8"/><circle cx="458.3" cy="942.0" r="0.8"/><circle cx="450.5" cy="953.9" r="0.6"/><circle cx="442.4" cy="934.1" r="0.9"/><circle cx="440.8" cy="953.1" r="0.9"/><circle cx="442.0" cy="961.7" r="0.9"/><circle cx="451.1" cy="916.7" r="0.9"/><circle cx="475.0" cy="908.3" r="0.7"/><circle cx="430.6" cy="907.1" r="0.9"/><circle cx="474.7" cy="939.3" r="0.8"/><circle cx="428.8" cy="897.7" r="0.7"/><circle cx="468.6" cy="943.1" r="0.8"/><circle cx="430.9" cy="914.7" r="0.8"/><circle cx="443.6" cy="928.5" r="0.9"/><circle cx="439.7" cy="898.6" r="0.8"/><circle cx="424.3" cy="917.8" r="0.7"/><circle cx="442.9" cy="911.6" r="0.8"/><circle cx="420.2" cy="931.1" r="0.8"/><circle cx="478.5" cy="925.0" r="0.9"/><circle cx="451.2" cy="922.2" r="0.6"/><circle cx="436.5" cy="904.4" r="0.8"/><circle cx="423.8" cy="936.6" r="0.7"/><circle cx="469.1" cy="932.7" r="0.7"/><circle cx="449.1" cy="910.7" r="0.8"/><circle cx="439.4" cy="912.8" r="0.7"/></g>
<path d="M434.9 889.4 q1.5 -1.6 3 -0.3 t3 -0.2 t3 -0.4 M445.9 888.5 l0.8 1.6 M448.4 888.8 q1.5 -1.2 2.6 0 t2.6 0.2 t2.8 0.5" fill="none" stroke="#474747" stroke-width="0.8" opacity="0.85"/>
</g>
<g filter="url(#bl2)">
<circle cx="257.1" cy="1019.3" r="46.6" fill="url(#rim)"/>
<circle cx="257.1" cy="1020.2" r="41.2" fill="url(#agar)" stroke="#bdbdbd" stroke-width="0.8"/>
<g fill="#a0a0a0" opacity="0.68" filter="url(#bl)"><circle cx="230.8" cy="1029.4" r="0.7"/><circle cx="240.1" cy="1021.1" r="0.7"/><circle cx="266.9" cy="1047.1" r="0.8"/><circle cx="277.9" cy="1023.0" r="0.8"/><circle cx="254.6" cy="1002.5" r="0.7"/><circle cx="255.7" cy="1008.8" r="0.6"/><circle cx="240.0" cy="1010.4" r="0.6"/><circle cx="258.2" cy="1003.9" r="0.9"/><circle cx="269.4" cy="1010.1" r="0.8"/><circle cx="243.5" cy="994.0" r="0.8"/><circle cx="272.2" cy="1015.7" r="0.6"/><circle cx="259.0" cy="1033.8" r="0.7"/><circle cx="254.5" cy="1050.2" r="0.8"/><circle cx="259.0" cy="1017.4" r="0.8"/><circle cx="240.2" cy="1019.0" r="0.8"/><circle cx="249.9" cy="1027.8" r="0.8"/><circle cx="238.0" cy="1019.4" r="0.9"/><circle cx="243.3" cy="1013.4" r="0.9"/><circle cx="241.0" cy="1037.0" r="0.6"/><circle cx="273.7" cy="1011.5" r="0.8"/><circle cx="231.5" cy="1024.0" r="0.8"/><circle cx="258.4" cy="1052.9" r="0.8"/><circle cx="279.3" cy="1035.0" r="0.7"/><circle cx="290.8" cy="1027.0" r="0.7"/><circle cx="252.7" cy="1011.4" r="0.9"/><circle cx="237.7" cy="1020.5" r="0.6"/><circle cx="247.7" cy="1011.4" r="0.9"/><circle cx="232.7" cy="1023.7" r="0.6"/><circle cx="286.1" cy="1027.4" r="0.8"/><circle cx="237.9" cy="1021.9" r="0.7"/><circle cx="232.7" cy="995.7" r="0.7"/><circle cx="280.8" cy="1042.8" r="0.7"/><circle cx="243.7" cy="1041.6" r="0.6"/><circle cx="238.5" cy="1048.4" r="0.9"/><circle cx="259.1" cy="1007.4" r="0.6"/><circle cx="285.2" cy="998.9" r="0.7"/><circle cx="243.5" cy="1020.1" r="0.6"/><circle cx="228.6" cy="1027.0" r="0.7"/><circle cx="279.0" cy="1035.1" r="0.7"/><circle cx="259.0" cy="1012.1" r="0.8"/><circle cx="274.5" cy="1029.0" r="0.6"/><circle cx="287.0" cy="1028.1" r="0.9"/><circle cx="225.5" cy="1027.3" r="0.8"/><circle cx="246.8" cy="1049.1" r="0.6"/><circle cx="262.9" cy="1031.3" r="0.7"/><circle cx="242.2" cy="992.1" r="0.9"/><circle cx="255.2" cy="1008.2" r="0.6"/><circle cx="288.5" cy="1036.9" r="0.6"/><circle cx="284.2" cy="1022.8" r="0.9"/><circle cx="238.7" cy="1008.7" r="0.8"/><circle cx="273.5" cy="1023.1" r="0.8"/><circle cx="253.8" cy="1043.3" r="0.9"/><circle cx="254.7" cy="986.0" r="0.7"/><circle cx="272.3" cy="1022.8" r="0.8"/><circle cx="248.1" cy="1025.4" r="0.6"/><circle cx="249.9" cy="1000.8" r="0.6"/><circle cx="236.3" cy="1009.0" r="0.6"/><circle cx="271.0" cy="1035.2" r="0.9"/><circle cx="259.3" cy="1008.8" r="0.9"/><circle cx="279.0" cy="1042.4" r="0.9"/><circle cx="271.5" cy="1028.2" r="0.6"/><circle cx="243.3" cy="1003.3" r="0.6"/><circle cx="222.7" cy="1018.0" r="0.7"/><circle cx="265.1" cy="1053.7" r="0.6"/><circle cx="258.1" cy="1028.1" r="0.7"/><circle cx="248.2" cy="1025.0" r="0.6"/><circle cx="248.7" cy="1021.4" r="0.7"/><circle cx="247.1" cy="1047.9" r="0.7"/><circle cx="252.4" cy="1010.9" r="0.9"/><circle cx="272.8" cy="1045.9" r="0.8"/><circle cx="263.7" cy="1043.5" r="0.8"/><circle cx="284.0" cy="1043.3" r="0.7"/><circle cx="273.6" cy="1034.3" r="0.8"/><circle cx="262.3" cy="994.4" r="0.7"/><circle cx="236.1" cy="994.0" r="0.8"/><circle cx="230.4" cy="1021.3" r="0.9"/><circle cx="275.2" cy="1038.0" r="0.9"/><circle cx="282.5" cy="1030.9" r="0.7"/><circle cx="240.4" cy="1038.7" r="0.9"/><circle cx="256.3" cy="1030.8" r="0.8"/><circle cx="287.8" cy="1038.5" r="0.6"/><circle cx="271.0" cy="1031.6" r="0.9"/><circle cx="238.2" cy="1008.8" r="0.8"/><circle cx="252.7" cy="1018.5" r="0.7"/><circle cx="288.7" cy="1008.4" r="0.8"/><circle cx="241.4" cy="992.2" r="0.6"/><circle cx="260.3" cy="1052.7" r="0.7"/><circle cx="267.4" cy="1001.6" r="0.9"/><circle cx="273.8" cy="1034.3" r="0.7"/><circle cx="278.2" cy="997.6" r="0.8"/><circle cx="249.1" cy="1015.3" r="0.9"/><circle cx="291.5" cy="1013.8" r="0.9"/><circle cx="284.9" cy="1032.2" r="0.9"/><circle cx="228.7" cy="1024.7" r="0.7"/><circle cx="249.6" cy="1015.9" r="0.9"/><circle cx="235.8" cy="1019.9" r="0.6"/><circle cx="232.3" cy="1029.5" r="0.7"/><circle cx="245.2" cy="1042.1" r="0.9"/><circle cx="272.5" cy="999.3" r="0.8"/><circle cx="251.8" cy="986.9" r="0.6"/><circle cx="242.5" cy="1009.6" r="0.6"/><circle cx="271.6" cy="1014.6" r="0.7"/><circle cx="241.7" cy="1042.1" r="0.6"/><circle cx="247.2" cy="1039.2" r="0.7"/><circle cx="252.8" cy="1031.1" r="0.7"/><circle cx="222.5" cy="1017.2" r="0.8"/><circle cx="242.9" cy="990.5" r="0.9"/><circle cx="274.8" cy="1044.9" r="0.8"/><circle cx="264.0" cy="1047.2" r="0.7"/><circle cx="232.1" cy="1028.8" r="0.7"/><circle cx="271.2" cy="1045.4" r="0.8"/><circle cx="236.2" cy="1023.4" r="0.9"/><circle cx="249.4" cy="1028.4" r="0.6"/><circle cx="276.3" cy="1010.7" r="0.8"/><circle cx="268.0" cy="1014.4" r="0.8"/><circle cx="235.6" cy="1038.8" r="0.8"/><circle cx="279.9" cy="1042.4" r="0.8"/><circle cx="272.7" cy="989.0" r="0.7"/><circle cx="250.4" cy="1012.4" r="0.8"/><circle cx="256.9" cy="1019.5" r="0.9"/><circle cx="269.8" cy="1017.4" r="0.6"/><circle cx="263.4" cy="1008.5" r="0.9"/><circle cx="257.3" cy="1037.5" r="0.8"/><circle cx="264.7" cy="990.5" r="0.6"/><circle cx="279.4" cy="1002.0" r="0.6"/><circle cx="283.1" cy="1023.8" r="0.8"/><circle cx="287.0" cy="1035.2" r="0.9"/><circle cx="243.8" cy="1021.2" r="0.8"/><circle cx="270.3" cy="1003.1" r="0.8"/><circle cx="266.3" cy="1008.2" r="0.6"/><circle cx="261.0" cy="1001.2" r="0.8"/><circle cx="256.4" cy="992.4" r="0.8"/><circle cx="254.7" cy="1035.9" r="0.6"/><circle cx="259.8" cy="1006.5" r="0.6"/><circle cx="241.0" cy="1040.9" r="0.7"/><circle cx="241.9" cy="1042.7" r="0.8"/><circle cx="265.1" cy="1032.8" r="0.8"/><circle cx="266.1" cy="1011.8" r="0.6"/><circle cx="282.3" cy="1024.9" r="0.8"/><circle cx="232.8" cy="1023.7" r="0.9"/><circle cx="223.2" cy="1026.7" r="0.6"/><circle cx="274.3" cy="1029.9" r="0.8"/><circle cx="289.9" cy="1025.3" r="0.6"/><circle cx="279.1" cy="1041.7" r="0.8"/><circle cx="279.1" cy="997.7" r="0.6"/><circle cx="270.4" cy="1039.2" r="0.9"/><circle cx="229.7" cy="1013.3" r="0.8"/><circle cx="269.3" cy="1033.0" r="0.7"/><circle cx="266.6" cy="1039.2" r="0.8"/><circle cx="237.6" cy="1014.2" r="0.7"/><circle cx="263.7" cy="1001.6" r="0.6"/><circle cx="237.4" cy="1005.9" r="0.9"/><circle cx="286.9" cy="1005.3" r="0.6"/><circle cx="236.9" cy="1004.9" r="0.7"/><circle cx="242.2" cy="1048.9" r="0.9"/><circle cx="259.7" cy="1022.0" r="0.7"/><circle cx="265.5" cy="993.6" r="0.8"/><circle cx="268.2" cy="1033.7" r="0.8"/><circle cx="236.7" cy="1040.2" r="0.8"/><circle cx="282.4" cy="1008.1" r="0.9"/><circle cx="265.8" cy="1000.6" r="0.8"/><circle cx="252.6" cy="1004.4" r="0.6"/><circle cx="280.0" cy="1001.0" r="0.8"/><circle cx="227.6" cy="1015.0" r="0.8"/><circle cx="227.7" cy="1010.4" r="0.8"/><circle cx="271.7" cy="1036.3" r="0.6"/><circle cx="246.1" cy="1048.6" r="0.6"/><circle cx="240.8" cy="997.4" r="0.9"/><circle cx="258.9" cy="1016.0" r="0.8"/><circle cx="232.2" cy="1014.4" r="0.9"/><circle cx="223.0" cy="1012.5" r="0.7"/><circle cx="285.2" cy="1040.0" r="0.7"/><circle cx="223.4" cy="1032.2" r="0.6"/><circle cx="290.7" cy="1030.8" r="0.6"/><circle cx="257.9" cy="992.1" r="0.7"/><circle cx="271.9" cy="1007.4" r="0.7"/><circle cx="245.5" cy="1018.4" r="0.9"/><circle cx="270.3" cy="988.8" r="0.6"/><circle cx="264.5" cy="987.4" r="0.8"/><circle cx="255.1" cy="1003.9" r="0.9"/><circle cx="291.6" cy="1027.4" r="0.9"/><circle cx="243.4" cy="991.0" r="0.9"/><circle cx="248.6" cy="1014.6" r="0.8"/><circle cx="293.2" cy="1021.8" r="0.9"/><circle cx="232.7" cy="1012.9" r="0.6"/><circle cx="252.8" cy="1003.2" r="0.9"/><circle cx="277.2" cy="1019.6" r="0.9"/><circle cx="261.0" cy="1023.8" r="0.6"/><circle cx="250.4" cy="1024.8" r="0.7"/><circle cx="241.8" cy="1025.2" r="0.6"/><circle cx="235.3" cy="1015.2" r="0.9"/><circle cx="231.1" cy="1015.6" r="0.8"/><circle cx="270.9" cy="1002.3" r="0.7"/><circle cx="286.4" cy="1034.3" r="0.6"/><circle cx="251.4" cy="998.2" r="0.9"/><circle cx="239.4" cy="992.0" r="0.7"/><circle cx="263.5" cy="1053.4" r="0.7"/><circle cx="241.6" cy="1030.6" r="0.8"/><circle cx="251.0" cy="1019.3" r="0.8"/><circle cx="265.4" cy="988.5" r="0.9"/><circle cx="248.8" cy="1044.1" r="0.7"/><circle cx="234.4" cy="1025.2" r="0.8"/><circle cx="274.3" cy="1031.6" r="0.8"/><circle cx="265.4" cy="1010.9" r="0.6"/><circle cx="270.7" cy="991.7" r="0.9"/><circle cx="261.2" cy="1051.7" r="0.8"/><circle cx="287.7" cy="1017.5" r="0.6"/><circle cx="240.9" cy="1011.8" r="0.8"/><circle cx="257.3" cy="1001.1" r="0.8"/><circle cx="253.3" cy="1003.3" r="0.8"/><circle cx="259.9" cy="1010.3" r="0.6"/><circle cx="269.3" cy="998.2" r="0.6"/><circle cx="279.9" cy="1018.0" r="0.8"/><circle cx="291.0" cy="1007.1" r="0.6"/><circle cx="257.3" cy="1021.0" r="0.9"/><circle cx="281.4" cy="1014.0" r="0.8"/><circle cx="279.5" cy="1030.9" r="0.8"/><circle cx="238.3" cy="999.0" r="0.6"/><circle cx="281.2" cy="1010.4" r="0.9"/><circle cx="255.7" cy="1052.1" r="0.6"/></g>
<path d="M246.1 982.0 q1.5 -1.6 3 -0.3 t3 -0.2 t3 -0.4 M257.1 981.1 l0.8 1.6 M259.6 981.4 q1.5 -1.2 2.6 0 t2.6 0.2 t2.8 0.5" fill="none" stroke="#474747" stroke-width="0.8" opacity="0.85"/>
</g>
<g filter="url(#bl2)">
<circle cx="351.0" cy="1019.3" r="46.6" fill="url(#rim)"/>
<circle cx="351.0" cy="1020.2" r="41.2" fill="url(#agar)" stroke="#bdbdbd" stroke-width="0.8"/>
<g fill="#a0a0a0" opacity="0.68" filter="url(#bl)"><circle cx="370.0" cy="1023.0" r="0.8"/><circle cx="340.3" cy="1031.2" r="0.6"/><circle cx="347.1" cy="1006.7" r="0.9"/><circle cx="358.6" cy="1016.4" r="0.6"/><circle cx="350.2" cy="1043.6" r="0.6"/><circle cx="360.8" cy="1025.2" r="0.9"/><circle cx="353.0" cy="1041.2" r="0.7"/><circle cx="316.4" cy="1013.6" r="0.8"/><circle cx="331.9" cy="1048.2" r="0.9"/><circle cx="367.0" cy="997.8" r="0.9"/><circle cx="326.4" cy="1008.8" r="0.7"/><circle cx="359.0" cy="1019.3" r="0.6"/><circle cx="360.9" cy="1015.4" r="0.9"/><circle cx="335.0" cy="1030.0" r="0.8"/><circle cx="373.0" cy="1020.7" r="0.6"/><circle cx="319.4" cy="1011.8" r="0.7"/><circle cx="356.6" cy="1006.5" r="0.7"/><circle cx="381.0" cy="1017.6" r="0.6"/><circle cx="333.2" cy="1039.2" r="0.6"/><circle cx="350.5" cy="1026.3" r="0.7"/><circle cx="377.5" cy="1017.3" r="0.7"/><circle cx="328.3" cy="994.9" r="0.7"/><circle cx="352.6" cy="1028.8" r="0.9"/><circle cx="371.2" cy="1036.4" r="0.9"/><circle cx="333.1" cy="1022.9" r="0.7"/><circle cx="319.3" cy="1025.7" r="0.7"/><circle cx="356.3" cy="1003.9" r="0.7"/><circle cx="340.2" cy="999.1" r="0.6"/><circle cx="370.8" cy="1009.9" r="0.6"/><circle cx="351.4" cy="1027.1" r="0.8"/><circle cx="380.0" cy="1036.0" r="0.9"/><circle cx="328.0" cy="1024.0" r="0.7"/><circle cx="326.8" cy="1032.1" r="0.7"/><circle cx="342.7" cy="1052.4" r="0.6"/><circle cx="385.7" cy="1019.3" r="0.7"/><circle cx="354.2" cy="1037.4" r="0.7"/><circle cx="345.3" cy="1006.8" r="0.9"/><circle cx="326.8" cy="1021.1" r="0.7"/><circle cx="343.2" cy="1030.9" r="0.8"/><circle cx="348.6" cy="1026.3" r="0.9"/><circle cx="338.5" cy="1023.1" r="0.9"/><circle cx="351.6" cy="1020.6" r="0.6"/><circle cx="360.4" cy="1041.6" r="0.7"/><circle cx="359.5" cy="1010.2" r="0.9"/><circle cx="355.7" cy="1036.9" r="0.7"/><circle cx="348.9" cy="1043.8" r="0.6"/><circle cx="385.4" cy="1011.2" r="0.6"/><circle cx="349.6" cy="1024.5" r="0.6"/><circle cx="354.6" cy="1019.5" r="0.9"/><circle cx="331.8" cy="1042.9" r="0.6"/><circle cx="347.9" cy="987.7" r="0.9"/><circle cx="361.8" cy="1022.6" r="0.9"/><circle cx="349.1" cy="1037.0" r="0.9"/><circle cx="349.2" cy="1022.9" r="0.8"/><circle cx="351.4" cy="1017.5" r="0.6"/><circle cx="364.8" cy="990.6" r="0.6"/><circle cx="366.5" cy="1002.2" r="0.9"/><circle cx="359.0" cy="991.0" r="0.6"/><circle cx="338.4" cy="1030.1" r="0.7"/><circle cx="354.7" cy="1039.4" r="0.8"/><circle cx="340.7" cy="996.8" r="0.9"/><circle cx="379.9" cy="1014.6" r="0.7"/><circle cx="356.6" cy="986.5" r="0.6"/><circle cx="351.0" cy="1013.0" r="0.7"/><circle cx="363.6" cy="1020.1" r="0.9"/><circle cx="385.2" cy="1033.0" r="0.9"/><circle cx="322.2" cy="1020.2" r="0.9"/><circle cx="346.5" cy="1032.3" r="0.6"/><circle cx="334.7" cy="1045.4" r="0.9"/><circle cx="337.7" cy="1024.3" r="0.7"/><circle cx="361.4" cy="1006.7" r="0.9"/><circle cx="329.0" cy="1033.6" r="0.9"/><circle cx="357.2" cy="1024.3" r="0.8"/><circle cx="325.7" cy="1022.3" r="0.6"/><circle cx="328.2" cy="1001.4" r="0.7"/><circle cx="354.4" cy="1023.4" r="0.7"/><circle cx="326.7" cy="1032.6" r="0.7"/><circle cx="360.8" cy="1032.6" r="0.8"/><circle cx="376.5" cy="1009.6" r="0.7"/><circle cx="372.9" cy="1015.4" r="0.9"/><circle cx="348.9" cy="1026.0" r="0.7"/><circle cx="370.9" cy="1008.5" r="0.8"/><circle cx="348.1" cy="994.0" r="0.7"/><circle cx="358.3" cy="1020.0" r="0.7"/><circle cx="368.7" cy="1046.7" r="0.7"/><circle cx="350.9" cy="1021.8" r="0.9"/><circle cx="318.4" cy="1023.4" r="0.8"/><circle cx="369.2" cy="998.9" r="0.7"/><circle cx="337.3" cy="1035.7" r="0.8"/><circle cx="339.7" cy="1020.0" r="0.8"/><circle cx="320.3" cy="1021.6" r="0.6"/><circle cx="375.9" cy="1033.1" r="0.9"/><circle cx="357.3" cy="1040.7" r="0.9"/><circle cx="375.9" cy="1042.6" r="0.9"/><circle cx="370.2" cy="1036.5" r="0.8"/><circle cx="338.4" cy="1017.2" r="0.7"/><circle cx="330.8" cy="1002.6" r="0.9"/><circle cx="337.3" cy="1000.8" r="0.7"/><circle cx="373.0" cy="997.1" r="0.8"/><circle cx="351.9" cy="1013.4" r="0.7"/><circle cx="367.7" cy="1034.2" r="0.9"/><circle cx="356.5" cy="1035.1" r="0.9"/><circle cx="338.8" cy="998.6" r="0.7"/><circle cx="337.6" cy="1028.1" r="0.9"/><circle cx="363.9" cy="1047.8" r="0.7"/><circle cx="370.9" cy="1045.8" r="0.7"/><circle cx="366.1" cy="1001.9" r="0.7"/><circle cx="373.9" cy="1013.8" r="0.7"/><circle cx="360.3" cy="1031.7" r="0.6"/><circle cx="343.0" cy="1000.0" r="0.8"/><circle cx="375.3" cy="1034.2" r="0.7"/><circle cx="357.1" cy="1017.6" r="0.6"/><circle cx="354.3" cy="1022.3" r="0.6"/><circle cx="344.7" cy="1026.5" r="0.9"/><circle cx="337.6" cy="1039.9" r="0.9"/><circle cx="326.8" cy="1011.3" r="0.7"/><circle cx="320.4" cy="1013.2" r="0.6"/><circle cx="353.3" cy="986.5" r="0.7"/><circle cx="341.3" cy="1027.0" r="0.7"/><circle cx="329.4" cy="1024.2" r="0.6"/><circle cx="329.6" cy="1030.1" r="0.8"/><circle cx="381.3" cy="1018.5" r="0.9"/><circle cx="348.2" cy="1050.2" r="0.9"/><circle cx="379.6" cy="1027.7" r="0.9"/><circle cx="370.3" cy="1023.3" r="0.9"/><circle cx="357.1" cy="1010.6" r="0.8"/><circle cx="341.9" cy="1021.2" r="0.6"/><circle cx="319.1" cy="1032.2" r="0.8"/><circle cx="347.0" cy="1041.8" r="0.8"/><circle cx="364.8" cy="1034.6" r="0.6"/><circle cx="374.8" cy="1033.6" r="0.8"/><circle cx="340.9" cy="1032.9" r="0.8"/><circle cx="335.4" cy="1029.2" r="0.6"/><circle cx="362.1" cy="1018.1" r="0.8"/><circle cx="343.8" cy="1032.3" r="0.7"/><circle cx="317.3" cy="1032.9" r="0.6"/><circle cx="327.7" cy="1005.6" r="0.7"/><circle cx="369.3" cy="1024.2" r="0.7"/><circle cx="329.1" cy="1008.8" r="0.6"/><circle cx="338.5" cy="1050.5" r="0.9"/><circle cx="345.1" cy="1046.0" r="0.8"/><circle cx="337.3" cy="1019.0" r="0.7"/><circle cx="349.1" cy="1033.8" r="0.9"/><circle cx="321.5" cy="1011.8" r="0.7"/><circle cx="366.4" cy="1004.2" r="0.9"/><circle cx="342.1" cy="999.3" r="0.8"/><circle cx="374.8" cy="1040.4" r="0.6"/><circle cx="358.7" cy="1003.5" r="0.9"/><circle cx="356.5" cy="1015.3" r="0.8"/><circle cx="360.4" cy="1032.4" r="0.9"/><circle cx="356.0" cy="1011.9" r="0.7"/><circle cx="368.2" cy="1001.8" r="0.7"/><circle cx="349.5" cy="1033.9" r="0.6"/><circle cx="350.2" cy="1028.9" r="0.7"/><circle cx="332.1" cy="1005.9" r="0.6"/><circle cx="321.2" cy="1001.5" r="0.6"/><circle cx="340.7" cy="1009.2" r="0.7"/><circle cx="329.9" cy="1002.8" r="0.9"/><circle cx="361.6" cy="1020.9" r="0.7"/><circle cx="321.6" cy="1013.7" r="0.8"/><circle cx="366.5" cy="1013.6" r="0.6"/><circle cx="386.1" cy="1017.2" r="0.6"/><circle cx="350.6" cy="1034.2" r="0.7"/><circle cx="350.4" cy="1005.5" r="0.6"/><circle cx="340.1" cy="1019.9" r="0.7"/><circle cx="318.2" cy="1030.1" r="0.6"/><circle cx="342.9" cy="1035.3" r="0.9"/><circle cx="363.5" cy="1047.6" r="0.8"/><circle cx="321.4" cy="1039.5" r="0.9"/><circle cx="351.0" cy="1012.3" r="0.9"/></g>
<path d="M340.0 982.0 q1.5 -1.6 3 -0.3 t3 -0.2 t3 -0.4 M351.0 981.1 l0.8 1.6 M353.5 981.4 q1.5 -1.2 2.6 0 t2.6 0.2 t2.8 0.5" fill="none" stroke="#474747" stroke-width="0.8" opacity="0.85"/>
</g>
<g filter="url(#bl2)">
<circle cx="445.9" cy="1019.3" r="46.6" fill="url(#rim)"/>
<circle cx="445.9" cy="1020.2" r="41.2" fill="url(#agar)" stroke="#bdbdbd" stroke-width="0.8"/>
<g fill="#a0a0a0" opacity="0.68" filter="url(#bl)"><circle cx="465.7" cy="1049.4" r="0.6"/><circle cx="460.1" cy="1024.4" r="0.6"/><circle cx="449.9" cy="994.1" r="0.8"/><circle cx="443.1" cy="1012.6" r="0.7"/><circle cx="466.6" cy="1033.9" r="0.9"/><circle cx="473.5" cy="1037.5" r="0.8"/><circle cx="467.4" cy="1039.1" r="0.6"/><circle cx="447.6" cy="1037.8" r="0.6"/><circle cx="469.9" cy="994.8" r="0.6"/><circle cx="454.9" cy="995.9" r="0.9"/><circle cx="447.4" cy="1053.8" r="0.9"/><circle cx="448.0" cy="1029.3" r="0.7"/><circle cx="446.8" cy="1021.2" r="0.6"/><circle cx="477.8" cy="1036.0" r="0.7"/><circle cx="444.5" cy="1035.3" r="0.6"/><circle cx="441.5" cy="1027.1" r="0.7"/><circle cx="425.7" cy="1005.1" r="0.6"/><circle cx="450.2" cy="1031.6" r="0.9"/><circle cx="414.5" cy="1017.1" r="0.6"/><circle cx="449.8" cy="1027.8" r="0.6"/><circle cx="451.9" cy="1024.8" r="0.8"/><circle cx="423.8" cy="1039.9" r="0.9"/><circle cx="465.0" cy="1016.2" r="0.7"/><circle cx="439.1" cy="1022.3" r="0.6"/><circle cx="427.6" cy="1027.7" r="0.9"/><circle cx="422.2" cy="994.1" r="0.7"/><circle cx="449.1" cy="1015.6" r="0.9"/><circle cx="447.3" cy="1022.2" r="0.8"/><circle cx="431.2" cy="1010.5" r="0.9"/><circle cx="475.2" cy="1038.2" r="0.6"/><circle cx="430.0" cy="1019.4" r="0.7"/><circle cx="453.9" cy="1002.7" r="0.7"/><circle cx="445.5" cy="1038.5" r="0.8"/><circle cx="478.1" cy="1008.0" r="0.7"/><circle cx="430.6" cy="1011.7" r="0.6"/><circle cx="448.8" cy="1017.9" r="0.8"/><circle cx="428.3" cy="1026.6" r="0.8"/><circle cx="438.0" cy="1028.6" r="0.6"/><circle cx="420.8" cy="1006.4" r="0.6"/><circle cx="436.1" cy="1019.4" r="0.6"/><circle cx="435.2" cy="1007.2" r="0.9"/><circle cx="412.6" cy="1009.3" r="0.9"/><circle cx="422.8" cy="1017.9" r="0.8"/><circle cx="450.0" cy="1021.6" r="0.9"/><circle cx="436.8" cy="1037.7" r="0.7"/><circle cx="454.0" cy="1021.2" r="0.9"/><circle cx="445.9" cy="1038.5" r="0.7"/><circle cx="453.9" cy="1021.8" r="0.9"/><circle cx="430.4" cy="999.8" r="0.6"/><circle cx="441.4" cy="1021.6" r="0.6"/><circle cx="471.9" cy="1027.2" r="0.6"/><circle cx="470.6" cy="1034.7" r="0.7"/><circle cx="453.0" cy="1009.8" r="0.6"/><circle cx="461.8" cy="1016.5" r="0.9"/><circle cx="457.7" cy="1034.2" r="0.8"/><circle cx="447.5" cy="1020.9" r="0.9"/><circle cx="472.9" cy="1039.8" r="0.8"/><circle cx="439.6" cy="1030.7" r="0.7"/><circle cx="437.4" cy="989.0" r="0.7"/><circle cx="449.9" cy="988.1" r="0.6"/><circle cx="418.1" cy="1005.7" r="0.9"/><circle cx="410.3" cy="1022.0" r="0.6"/><circle cx="461.2" cy="1010.8" r="0.7"/><circle cx="434.8" cy="1040.0" r="0.8"/><circle cx="416.8" cy="1027.2" r="0.8"/><circle cx="433.5" cy="1050.9" r="0.7"/><circle cx="442.5" cy="1030.9" r="0.8"/><circle cx="472.0" cy="1031.1" r="0.8"/><circle cx="467.8" cy="1028.3" r="0.8"/><circle cx="453.5" cy="1025.1" r="0.7"/><circle cx="451.7" cy="989.1" r="0.6"/><circle cx="481.2" cy="1009.7" r="0.9"/><circle cx="433.8" cy="1001.4" r="0.7"/><circle cx="438.7" cy="1021.5" r="0.8"/><circle cx="458.9" cy="1030.9" r="0.9"/><circle cx="428.1" cy="1035.1" r="0.6"/><circle cx="424.4" cy="1038.5" r="0.8"/><circle cx="476.9" cy="1001.5" r="0.8"/><circle cx="453.2" cy="1011.6" r="0.8"/><circle cx="462.7" cy="1033.9" r="0.7"/><circle cx="444.4" cy="995.1" r="0.8"/><circle cx="452.6" cy="1005.4" r="0.7"/><circle cx="432.5" cy="1028.2" r="0.8"/><circle cx="448.1" cy="996.4" r="0.8"/><circle cx="423.0" cy="1014.1" r="0.9"/><circle cx="441.4" cy="1025.5" r="0.7"/><circle cx="420.7" cy="1020.7" r="0.8"/><circle cx="456.8" cy="991.0" r="0.6"/><circle cx="463.5" cy="1013.5" r="0.8"/><circle cx="429.2" cy="1018.9" r="0.6"/></g>
<path d="M434.9 982.0 q1.5 -1.6 3 -0.3 t3 -0.2 t3 -0.4 M445.9 981.1 l0.8 1.6 M448.4 981.4 q1.5 -1.2 2.6 0 t2.6 0.2 t2.8 0.5" fill="none" stroke="#474747" stroke-width="0.8" opacity="0.85"/>
</g>
<g filter="url(#bl2)">
<circle cx="257.1" cy="1111.8" r="46.6" fill="url(#rim)"/>
<circle cx="257.1" cy="1112.7" r="41.2" fill="url(#agar)" stroke="#bdbdbd" stroke-width="0.8"/>
<g fill="#a0a0a0" opacity="0.68" filter="url(#bl)"><circle cx="254.9" cy="1120.8" r="0.6"/><circle cx="259.9" cy="1079.3" r="0.8"/><circle cx="279.2" cy="1086.3" r="0.6"/><circle cx="232.7" cy="1096.1" r="0.7"/><circle cx="263.8" cy="1110.8" r="0.7"/><circle cx="238.7" cy="1121.5" r="0.8"/><circle cx="273.9" cy="1095.7" r="0.8"/><circle cx="260.3" cy="1100.0" r="0.6"/><circle cx="266.1" cy="1133.4" r="0.8"/><circle cx="281.2" cy="1112.4" r="0.6"/><circle cx="248.2" cy="1103.4" r="0.6"/><circle cx="238.9" cy="1111.3" r="0.7"/><circle cx="264.1" cy="1105.5" r="0.8"/><circle cx="265.4" cy="1083.1" r="0.8"/><circle cx="228.3" cy="1104.5" r="0.7"/><circle cx="287.9" cy="1126.1" r="0.9"/><circle cx="263.7" cy="1082.0" r="0.8"/><circle cx="234.2" cy="1107.6" r="0.6"/><circle cx="254.0" cy="1118.2" r="0.6"/><circle cx="269.1" cy="1134.7" r="0.9"/><circle cx="275.1" cy="1120.6" r="0.7"/><circle cx="231.2" cy="1122.4" r="0.9"/><circle cx="226.1" cy="1102.8" r="0.9"/><circle cx="267.3" cy="1146.0" r="0.6"/><circle cx="227.7" cy="1125.2" r="0.6"/><circle cx="274.7" cy="1101.7" r="0.6"/><circle cx="222.3" cy="1102.3" r="0.8"/><circle cx="275.9" cy="1127.0" r="0.9"/><circle cx="237.8" cy="1122.9" r="0.9"/><circle cx="276.7" cy="1088.9" r="0.6"/><circle cx="270.3" cy="1144.0" r="0.7"/><circle cx="285.3" cy="1099.0" r="0.7"/><circle cx="286.5" cy="1119.7" r="0.8"/><circle cx="269.0" cy="1108.3" r="0.9"/><circle cx="243.2" cy="1109.8" r="0.6"/><circle cx="248.9" cy="1099.1" r="0.9"/><circle cx="243.6" cy="1135.6" r="0.7"/><circle cx="235.7" cy="1105.4" r="0.9"/><circle cx="250.9" cy="1132.2" r="0.9"/><circle cx="261.7" cy="1122.4" r="0.7"/><circle cx="257.9" cy="1080.8" r="0.7"/><circle cx="260.6" cy="1145.1" r="0.7"/><circle cx="224.8" cy="1119.9" r="0.8"/><circle cx="264.2" cy="1116.1" r="0.9"/><circle cx="240.0" cy="1100.0" r="0.9"/><circle cx="275.0" cy="1089.5" r="0.9"/><circle cx="232.0" cy="1136.6" r="0.6"/><circle cx="258.3" cy="1105.2" r="0.8"/><circle cx="275.1" cy="1112.1" r="0.8"/><circle cx="259.3" cy="1110.4" r="0.6"/><circle cx="227.8" cy="1111.2" r="0.8"/><circle cx="282.6" cy="1088.9" r="0.7"/><circle cx="290.0" cy="1117.5" r="0.7"/><circle cx="247.7" cy="1121.6" r="0.8"/><circle cx="237.0" cy="1095.4" r="0.9"/><circle cx="247.6" cy="1107.9" r="0.9"/><circle cx="269.1" cy="1123.5" r="0.9"/><circle cx="275.8" cy="1095.6" r="0.8"/><circle cx="238.0" cy="1087.8" r="0.6"/><circle cx="265.5" cy="1142.5" r="0.7"/><circle cx="245.3" cy="1134.1" r="0.6"/><circle cx="267.8" cy="1108.4" r="0.7"/><circle cx="236.9" cy="1111.3" r="0.7"/><circle cx="260.7" cy="1142.7" r="0.7"/><circle cx="260.9" cy="1114.8" r="0.9"/><circle cx="237.5" cy="1111.2" r="0.8"/><circle cx="229.4" cy="1133.8" r="0.6"/><circle cx="235.4" cy="1112.1" r="0.6"/><circle cx="251.9" cy="1094.3" r="0.8"/><circle cx="262.1" cy="1110.9" r="0.9"/><circle cx="290.5" cy="1123.8" r="0.7"/><circle cx="273.9" cy="1130.4" r="0.7"/><circle cx="220.3" cy="1111.7" r="0.9"/><circle cx="258.9" cy="1115.6" r="0.6"/><circle cx="237.3" cy="1083.8" r="0.7"/><circle cx="259.5" cy="1112.2" r="0.9"/><circle cx="290.9" cy="1109.2" r="0.7"/><circle cx="224.3" cy="1117.4" r="0.7"/><circle cx="259.8" cy="1103.8" r="0.9"/><circle cx="252.8" cy="1100.0" r="0.7"/><circle cx="236.5" cy="1115.0" r="0.6"/><circle cx="285.7" cy="1104.2" r="0.8"/><circle cx="279.4" cy="1118.7" r="0.8"/><circle cx="272.9" cy="1084.1" r="0.7"/><circle cx="270.6" cy="1104.6" r="0.6"/><circle cx="238.2" cy="1141.2" r="0.6"/><circle cx="272.7" cy="1089.9" r="0.9"/><circle cx="247.9" cy="1144.7" r="0.9"/><circle cx="229.5" cy="1106.3" r="0.7"/><circle cx="261.5" cy="1113.1" r="0.9"/><circle cx="230.4" cy="1108.0" r="0.7"/><circle cx="263.2" cy="1107.6" r="0.7"/><circle cx="251.1" cy="1118.4" r="0.9"/><circle cx="288.7" cy="1117.6" r="0.8"/><circle cx="221.2" cy="1111.2" r="0.9"/><circle cx="237.6" cy="1124.0" r="0.6"/><circle cx="227.3" cy="1123.2" r="0.6"/><circle cx="241.7" cy="1131.6" r="0.6"/><circle cx="230.2" cy="1108.5" r="0.7"/><circle cx="237.7" cy="1116.6" r="0.7"/><circle cx="271.9" cy="1095.8" r="0.7"/><circle cx="246.4" cy="1104.5" r="0.7"/><circle cx="249.8" cy="1132.7" r="0.9"/><circle cx="238.9" cy="1122.1" r="0.7"/><circle cx="225.7" cy="1125.4" r="0.9"/><circle cx="246.7" cy="1097.2" r="0.9"/><circle cx="264.2" cy="1141.4" r="0.8"/><circle cx="240.7" cy="1108.3" r="0.7"/><circle cx="269.9" cy="1117.9" r="0.7"/><circle cx="274.6" cy="1104.6" r="0.6"/><circle cx="280.9" cy="1118.8" r="0.8"/><circle cx="241.3" cy="1142.0" r="0.8"/><circle cx="270.3" cy="1112.7" r="0.7"/><circle cx="282.6" cy="1132.6" r="0.6"/><circle cx="281.2" cy="1126.7" r="0.9"/><circle cx="256.5" cy="1096.1" r="0.7"/><circle cx="229.8" cy="1092.5" r="0.7"/><circle cx="275.5" cy="1123.0" r="0.7"/><circle cx="251.3" cy="1115.9" r="0.8"/><circle cx="260.4" cy="1078.9" r="0.6"/><circle cx="251.7" cy="1141.6" r="0.9"/><circle cx="271.6" cy="1119.7" r="0.7"/><circle cx="263.6" cy="1103.1" r="0.7"/><circle cx="256.8" cy="1110.7" r="0.8"/><circle cx="224.5" cy="1100.8" r="0.7"/><circle cx="270.5" cy="1115.6" r="0.6"/><circle cx="257.3" cy="1101.7" r="0.6"/><circle cx="264.0" cy="1139.6" r="0.8"/><circle cx="249.2" cy="1114.1" r="0.8"/><circle cx="274.2" cy="1126.2" r="0.6"/><circle cx="267.9" cy="1107.1" r="0.7"/><circle cx="231.4" cy="1108.7" r="0.7"/><circle cx="267.4" cy="1122.2" r="0.7"/><circle cx="275.7" cy="1115.5" r="0.6"/><circle cx="228.9" cy="1099.8" r="0.8"/><circle cx="261.8" cy="1106.6" r="0.8"/><circle cx="259.1" cy="1138.7" r="0.9"/><circle cx="282.9" cy="1106.0" r="0.8"/><circle cx="253.7" cy="1122.5" r="0.6"/><circle cx="261.6" cy="1103.1" r="0.8"/><circle cx="242.8" cy="1137.4" r="0.9"/><circle cx="234.2" cy="1104.6" r="0.6"/><circle cx="277.8" cy="1141.3" r="0.8"/><circle cx="269.7" cy="1131.6" r="0.9"/><circle cx="234.4" cy="1137.1" r="0.6"/><circle cx="253.5" cy="1141.1" r="0.6"/><circle cx="252.6" cy="1079.2" r="0.6"/><circle cx="286.0" cy="1106.0" r="0.9"/><circle cx="250.0" cy="1138.9" r="0.9"/><circle cx="260.2" cy="1106.6" r="0.7"/><circle cx="252.8" cy="1096.8" r="0.9"/><circle cx="288.1" cy="1126.5" r="0.8"/><circle cx="262.1" cy="1099.0" r="0.7"/><circle cx="275.9" cy="1100.4" r="0.8"/><circle cx="254.6" cy="1088.5" r="0.9"/><circle cx="229.7" cy="1109.9" r="0.7"/><circle cx="221.1" cy="1113.7" r="0.7"/><circle cx="246.2" cy="1083.4" r="0.6"/><circle cx="235.2" cy="1102.7" r="0.6"/><circle cx="247.1" cy="1144.1" r="0.9"/><circle cx="243.5" cy="1115.4" r="0.6"/><circle cx="240.7" cy="1117.3" r="0.7"/><circle cx="258.4" cy="1108.9" r="0.9"/><circle cx="255.6" cy="1144.4" r="0.9"/><circle cx="238.0" cy="1118.5" r="0.8"/><circle cx="279.6" cy="1130.2" r="0.6"/><circle cx="231.1" cy="1127.4" r="0.6"/><circle cx="257.2" cy="1143.4" r="0.7"/><circle cx="249.6" cy="1084.7" r="0.6"/><circle cx="286.5" cy="1120.1" r="0.6"/><circle cx="247.4" cy="1089.9" r="0.8"/><circle cx="266.8" cy="1102.4" r="0.9"/><circle cx="274.3" cy="1130.9" r="0.7"/><circle cx="287.9" cy="1128.6" r="0.6"/><circle cx="252.2" cy="1104.9" r="0.8"/><circle cx="280.9" cy="1136.0" r="0.8"/><circle cx="229.5" cy="1099.6" r="0.6"/><circle cx="236.2" cy="1129.5" r="0.8"/><circle cx="274.4" cy="1112.7" r="0.9"/><circle cx="290.2" cy="1107.3" r="0.6"/></g>
<path d="M246.1 1074.5 q1.5 -1.6 3 -0.3 t3 -0.2 t3 -0.4 M257.1 1073.6 l0.8 1.6 M259.6 1073.9 q1.5 -1.2 2.6 0 t2.6 0.2 t2.8 0.5" fill="none" stroke="#474747" stroke-width="0.8" opacity="0.85"/>
</g>
<g filter="url(#bl2)">
<circle cx="351.0" cy="1111.8" r="46.6" fill="url(#rim)"/>
<circle cx="351.0" cy="1112.7" r="41.2" fill="url(#agarL)" stroke="#bdbdbd" stroke-width="0.8"/>
<g fill="#a0a0a0" opacity="0.68" filter="url(#bl)"><circle cx="363.9" cy="1112.1" r="0.6"/><circle cx="339.3" cy="1124.5" r="0.8"/><circle cx="377.8" cy="1123.1" r="0.9"/><circle cx="320.2" cy="1098.8" r="0.9"/><circle cx="363.6" cy="1125.5" r="0.9"/><circle cx="348.4" cy="1128.4" r="0.7"/><circle cx="323.8" cy="1106.4" r="0.6"/><circle cx="375.8" cy="1136.1" r="0.8"/><circle cx="352.7" cy="1110.6" r="0.8"/><circle cx="338.8" cy="1145.2" r="0.6"/><circle cx="357.9" cy="1143.2" r="0.6"/><circle cx="365.6" cy="1091.6" r="0.7"/><circle cx="318.2" cy="1111.2" r="0.6"/><circle cx="347.6" cy="1103.2" r="0.6"/><circle cx="324.1" cy="1114.0" r="0.7"/><circle cx="342.2" cy="1138.0" r="0.9"/><circle cx="358.5" cy="1114.9" r="0.8"/><circle cx="363.5" cy="1105.9" r="0.6"/><circle cx="327.4" cy="1124.2" r="0.7"/><circle cx="342.2" cy="1140.5" r="0.9"/><circle cx="336.2" cy="1114.8" r="0.7"/><circle cx="371.5" cy="1111.7" r="0.7"/><circle cx="355.9" cy="1108.8" r="0.7"/><circle cx="324.3" cy="1114.0" r="0.8"/><circle cx="334.3" cy="1111.2" r="0.7"/><circle cx="333.3" cy="1126.2" r="0.7"/><circle cx="337.0" cy="1112.1" r="0.6"/><circle cx="328.1" cy="1111.5" r="0.9"/><circle cx="316.9" cy="1109.7" r="0.6"/><circle cx="372.3" cy="1131.3" r="0.8"/><circle cx="346.2" cy="1132.1" r="0.7"/><circle cx="344.4" cy="1134.1" r="0.7"/><circle cx="329.9" cy="1133.4" r="0.8"/><circle cx="342.8" cy="1104.8" r="0.9"/><circle cx="370.1" cy="1127.5" r="0.8"/><circle cx="321.8" cy="1117.3" r="0.9"/><circle cx="336.6" cy="1128.6" r="0.9"/><circle cx="381.0" cy="1096.7" r="0.8"/><circle cx="342.4" cy="1121.4" r="0.6"/><circle cx="348.5" cy="1118.1" r="0.7"/><circle cx="322.2" cy="1114.0" r="0.9"/><circle cx="344.9" cy="1125.3" r="0.6"/><circle cx="369.4" cy="1115.4" r="0.7"/><circle cx="373.5" cy="1092.7" r="0.8"/><circle cx="351.0" cy="1145.1" r="0.9"/><circle cx="362.0" cy="1110.6" r="0.6"/><circle cx="375.2" cy="1120.4" r="0.8"/><circle cx="328.3" cy="1089.3" r="0.7"/><circle cx="334.0" cy="1092.6" r="0.7"/><circle cx="362.8" cy="1086.2" r="0.7"/><circle cx="351.7" cy="1124.7" r="0.6"/><circle cx="345.5" cy="1082.0" r="0.7"/><circle cx="357.1" cy="1123.7" r="0.6"/><circle cx="367.8" cy="1109.9" r="0.7"/><circle cx="375.7" cy="1126.7" r="0.8"/><circle cx="353.1" cy="1104.8" r="0.8"/><circle cx="334.3" cy="1138.5" r="0.6"/><circle cx="346.4" cy="1111.4" r="0.7"/><circle cx="353.1" cy="1090.2" r="0.7"/><circle cx="343.4" cy="1095.3" r="0.6"/></g>
<path d="M340.0 1074.5 q1.5 -1.6 3 -0.3 t3 -0.2 t3 -0.4 M351.0 1073.6 l0.8 1.6 M353.5 1073.9 q1.5 -1.2 2.6 0 t2.6 0.2 t2.8 0.5" fill="none" stroke="#474747" stroke-width="0.8" opacity="0.85"/>
</g>
<g filter="url(#bl2)">
<circle cx="445.9" cy="1111.8" r="46.6" fill="url(#rim)"/>
<circle cx="445.9" cy="1112.7" r="41.2" fill="url(#agarL)" stroke="#bdbdbd" stroke-width="0.8"/>
<g fill="#a0a0a0" opacity="0.68" filter="url(#bl)"><circle cx="444.1" cy="1102.1" r="0.6"/><circle cx="442.5" cy="1088.1" r="0.7"/><circle cx="439.8" cy="1084.1" r="0.6"/><circle cx="459.0" cy="1116.2" r="0.8"/><circle cx="475.4" cy="1114.4" r="0.8"/><circle cx="469.5" cy="1135.9" r="0.9"/><circle cx="425.0" cy="1086.2" r="0.9"/><circle cx="414.4" cy="1114.7" r="0.6"/></g>
<path d="M434.9 1074.5 q1.5 -1.6 3 -0.3 t3 -0.2 t3 -0.4 M445.9 1073.6 l0.8 1.6 M448.4 1073.9 q1.5 -1.2 2.6 0 t2.6 0.2 t2.8 0.5" fill="none" stroke="#474747" stroke-width="0.8" opacity="0.85"/>
</g>
<text x="116.7" y="573.9" font-family="Liberation Sans, DejaVu Sans, sans-serif" stroke="#111" stroke-width="0.25" font-size="16.5" fill="#111" textLength="99" lengthAdjust="spacingAndGlyphs"><tspan font-style="italic">E. Coli</tspan> JM109</text>
<text x="116.7" y="595.9" font-family="Liberation Sans, DejaVu Sans, sans-serif" stroke="#111" stroke-width="0.25" font-size="16.5" fill="#111" textLength="40" lengthAdjust="spacingAndGlyphs">blank</text>
<text x="244.0" y="588.5" font-family="Liberation Sans, DejaVu Sans, sans-serif" stroke="#111" stroke-width="0.25" font-size="16.5" fill="#111" textLength="24" lengthAdjust="spacingAndGlyphs">1 h</text>
<text x="339.8" y="588.5" font-family="Liberation Sans, DejaVu Sans, sans-serif" stroke="#111" stroke-width="0.25" font-size="16.5" fill="#111" textLength="22.7" lengthAdjust="spacingAndGlyphs">8 h</text>
<text x="429.0" y="588.5" font-family="Liberation Sans, DejaVu Sans, sans-serif" stroke="#111" stroke-width="0.25" font-size="16.5" fill="#111" textLength="34" lengthAdjust="spacingAndGlyphs">24 h</text>
<text x="502.2" y="652.9" font-family="Liberation Sans, DejaVu Sans, sans-serif" stroke="#111" stroke-width="0.25" font-size="16.5" fill="#111" textLength="102.7" lengthAdjust="spacingAndGlyphs">20 nm AuNPs</text>
<text x="502.2" y="751.5" font-family="Liberation Sans, DejaVu Sans, sans-serif" stroke="#111" stroke-width="0.25" font-size="16.5" fill="#111" textLength="98.0" lengthAdjust="spacingAndGlyphs">20 nm Au-Ag</text>
<text x="599.8" y="756.2" font-family="Liberation Sans, DejaVu Sans, sans-serif" stroke="#111" stroke-width="0.25" font-size="12.6" fill="#111" textLength="40.4" lengthAdjust="spacingAndGlyphs">1000/1</text>
<text x="642.2" y="751.5" font-family="Liberation Sans, DejaVu Sans, sans-serif" stroke="#111" stroke-width="0.25" font-size="16.5" fill="#111" textLength="29.8" lengthAdjust="spacingAndGlyphs">NPs</text>
<text x="502.2" y="848.0" font-family="Liberation Sans, DejaVu Sans, sans-serif" stroke="#111" stroke-width="0.25" font-size="16.5" fill="#111" textLength="98.0" lengthAdjust="spacingAndGlyphs">20 nm Au-Ag</text>
<text x="599.8" y="852.7" font-family="Liberation Sans, DejaVu Sans, sans-serif" stroke="#111" stroke-width="0.25" font-size="12.6" fill="#111" textLength="33.5" lengthAdjust="spacingAndGlyphs">100/1</text>
<text x="636.1" y="848.0" font-family="Liberation Sans, DejaVu Sans, sans-serif" stroke="#111" stroke-width="0.25" font-size="16.5" fill="#111" textLength="29.1" lengthAdjust="spacingAndGlyphs">NPs</text>
<text x="500.5" y="928.5" font-family="Liberation Sans, DejaVu Sans, sans-serif" stroke="#111" stroke-width="0.25" font-size="16.5" fill="#111" textLength="102.5" lengthAdjust="spacingAndGlyphs">15 nm AuNPs</text>
<text x="500.5" y="1021.4" font-family="Liberation Sans, DejaVu Sans, sans-serif" stroke="#111" stroke-width="0.25" font-size="16.5" fill="#111" textLength="99.2" lengthAdjust="spacingAndGlyphs">15 nm Au-Ag</text>
<text x="599.2" y="1026.1" font-family="Liberation Sans, DejaVu Sans, sans-serif" stroke="#111" stroke-width="0.25" font-size="12.6" fill="#111" textLength="40.1" lengthAdjust="spacingAndGlyphs">1000/1</text>
<text x="640.8" y="1021.4" font-family="Liberation Sans, DejaVu Sans, sans-serif" stroke="#111" stroke-width="0.25" font-size="16.5" fill="#111" textLength="30.7" lengthAdjust="spacingAndGlyphs">NPs</text>
<text x="503.0" y="1118.4" font-family="Liberation Sans, DejaVu Sans, sans-serif" stroke="#111" stroke-width="0.25" font-size="16.5" fill="#111" textLength="97.2" lengthAdjust="spacingAndGlyphs">15 nm Au-Ag</text>
<text x="599.8" y="1123.1000000000001" font-family="Liberation Sans, DejaVu Sans, sans-serif" stroke="#111" stroke-width="0.25" font-size="12.6" fill="#111" textLength="33.5" lengthAdjust="spacingAndGlyphs">100/1</text>
<text x="635.9" y="1118.4" font-family="Liberation Sans, DejaVu Sans, sans-serif" stroke="#111" stroke-width="0.25" font-size="16.5" fill="#111" textLength="29.3" lengthAdjust="spacingAndGlyphs">NPs</text>
</svg>
</body></html>
